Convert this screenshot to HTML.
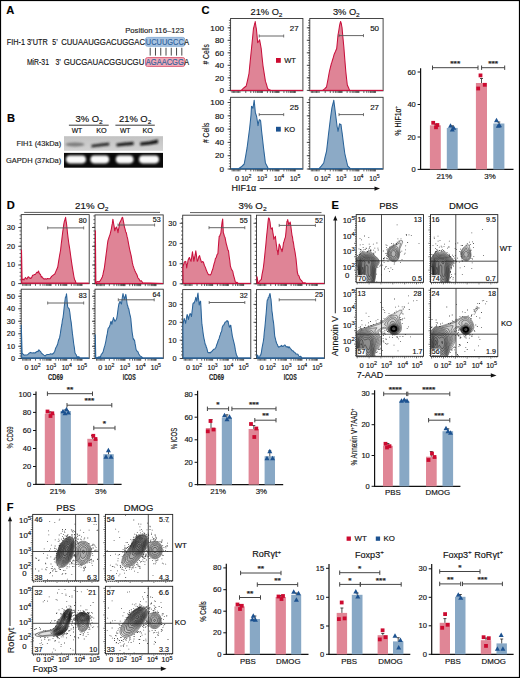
<!DOCTYPE html><html><head><meta charset="utf-8"><style>html,body{margin:0;padding:0;background:#fff;}svg{display:block;}text{font-family:"Liberation Sans", sans-serif;}</style></head><body>
<svg width="520" height="678" viewBox="0 0 520 678">
<rect x="0" y="0" width="520" height="678" fill="#fff" stroke="none" stroke-width="1"/>
<text font-size="10.3" text-anchor="start" font-weight="bold" fill="#000" transform="translate(6.3 13.7) scale(1.08 1)" stroke="#000" stroke-width="0.15">A</text>
<text font-size="10.3" text-anchor="start" font-weight="bold" fill="#000" transform="translate(6.9 121.5) scale(1.08 1)" stroke="#000" stroke-width="0.15">B</text>
<text font-size="10.3" text-anchor="start" font-weight="bold" fill="#000" transform="translate(201.5 14.4) scale(1.08 1)" stroke="#000" stroke-width="0.15">C</text>
<text font-size="10.3" text-anchor="start" font-weight="bold" fill="#000" transform="translate(6.7 208.7) scale(1.08 1)" stroke="#000" stroke-width="0.15">D</text>
<text font-size="10.3" text-anchor="start" font-weight="bold" fill="#000" transform="translate(331.5 208.8) scale(1.08 1)" stroke="#000" stroke-width="0.15">E</text>
<text font-size="10.3" text-anchor="start" font-weight="bold" fill="#000" transform="translate(6.7 510.6) scale(1.08 1)" stroke="#000" stroke-width="0.15">F</text>
<text x="125.2" y="32.6" font-size="7.6" text-anchor="start" textLength="58.8" lengthAdjust="spacingAndGlyphs" fill="#222" stroke="#222" stroke-width="0.15">Position 116–123</text>
<rect x="145.5" y="37.4" width="39.3" height="8.9" fill="#aac5e2" stroke="#7aa3cf" stroke-width="0.8" rx="2"/>
<rect x="145.5" y="57.5" width="39.3" height="9" fill="#f0a9b6" stroke="#d6546e" stroke-width="0.8" rx="2"/>
<text x="6.7" y="44.8" font-size="8.5" text-anchor="start" textLength="41" lengthAdjust="spacingAndGlyphs" fill="#111" stroke="#111" stroke-width="0.15">FIH-1 3’UTR</text>
<text x="52.3" y="44.8" font-size="8.5" text-anchor="start" textLength="5.4" lengthAdjust="spacingAndGlyphs" fill="#111" stroke="#111" stroke-width="0.15">5’</text>
<text x="61.2" y="44.8" font-size="8.5" text-anchor="start" textLength="83.8" lengthAdjust="spacingAndGlyphs" fill="#111" stroke="#111" stroke-width="0.15">CUUAAUGGACUGGAC</text>
<text x="145.8" y="44.8" font-size="8.5" text-anchor="start" textLength="38" lengthAdjust="spacingAndGlyphs" fill="#2d5f9a" stroke="#2d5f9a" stroke-width="0.15">UCUUGCC</text>
<text x="184.2" y="44.8" font-size="8.5" text-anchor="start" textLength="4.8" lengthAdjust="spacingAndGlyphs" fill="#111" stroke="#111" stroke-width="0.15">A</text>
<text x="26.9" y="64.8" font-size="8.5" text-anchor="start" textLength="22.1" lengthAdjust="spacingAndGlyphs" fill="#111" stroke="#111" stroke-width="0.15">MiR-31</text>
<text x="55.4" y="64.8" font-size="8.5" text-anchor="start" textLength="5.4" lengthAdjust="spacingAndGlyphs" fill="#111" stroke="#111" stroke-width="0.15">3’</text>
<text x="63.7" y="64.8" font-size="8.5" text-anchor="start" textLength="80.7" lengthAdjust="spacingAndGlyphs" fill="#111" stroke="#111" stroke-width="0.15">GUCGAUACGGUCGU</text>
<text x="145.8" y="64.8" font-size="8.5" text-anchor="start" textLength="38" lengthAdjust="spacingAndGlyphs" fill="#2d5f9a" stroke="#2d5f9a" stroke-width="0.15">AGAACGG</text>
<text x="184.2" y="64.8" font-size="8.5" text-anchor="start" textLength="4.8" lengthAdjust="spacingAndGlyphs" fill="#111" stroke="#111" stroke-width="0.15">A</text>
<line x1="150.2" y1="47.8" x2="150.2" y2="55.6" stroke="#333" stroke-width="0.9"/>
<line x1="155.47" y1="47.8" x2="155.47" y2="55.6" stroke="#333" stroke-width="0.9"/>
<line x1="160.74" y1="47.8" x2="160.74" y2="55.6" stroke="#333" stroke-width="0.9"/>
<line x1="166.01" y1="47.8" x2="166.01" y2="55.6" stroke="#333" stroke-width="0.9"/>
<line x1="171.28" y1="47.8" x2="171.28" y2="55.6" stroke="#333" stroke-width="0.9"/>
<line x1="176.55" y1="47.8" x2="176.55" y2="55.6" stroke="#333" stroke-width="0.9"/>
<line x1="181.82" y1="47.8" x2="181.82" y2="55.6" stroke="#333" stroke-width="0.9"/>
<text font-size="8.7" text-anchor="middle" fill="#111" transform="translate(89.1 121.6) scale(1.08 1)" stroke="#111" stroke-width="0.15">3% O<tspan font-size="6" dy="1.9">2</tspan></text>
<text font-size="8.7" text-anchor="middle" fill="#111" transform="translate(135.1 121.6) scale(1.08 1)" stroke="#111" stroke-width="0.15">21% O<tspan font-size="6" dy="1.9">2</tspan></text>
<line x1="68.9" y1="125.2" x2="108.7" y2="125.2" stroke="#222" stroke-width="0.9"/>
<line x1="115.4" y1="125.2" x2="154.8" y2="125.2" stroke="#222" stroke-width="0.9"/>
<text x="77" y="133.3" font-size="6.5" text-anchor="middle" textLength="10.5" lengthAdjust="spacingAndGlyphs" fill="#111" stroke="#111" stroke-width="0.15">WT</text>
<text x="101.5" y="133.3" font-size="6.5" text-anchor="middle" textLength="10.5" lengthAdjust="spacingAndGlyphs" fill="#111" stroke="#111" stroke-width="0.15">KO</text>
<text x="125.2" y="133.3" font-size="6.5" text-anchor="middle" textLength="10.5" lengthAdjust="spacingAndGlyphs" fill="#111" stroke="#111" stroke-width="0.15">WT</text>
<text x="147.7" y="133.3" font-size="6.5" text-anchor="middle" textLength="10.5" lengthAdjust="spacingAndGlyphs" fill="#111" stroke="#111" stroke-width="0.15">KO</text>
<text x="16.4" y="145.8" font-size="7.2" text-anchor="start" textLength="44.8" lengthAdjust="spacingAndGlyphs" fill="#222" stroke="#222" stroke-width="0.15">FIH1 (43kDa)</text>
<text x="6" y="162.6" font-size="7.2" text-anchor="start" textLength="55.2" lengthAdjust="spacingAndGlyphs" fill="#222" stroke="#222" stroke-width="0.15">GAPDH (37kDa)</text>
<defs><linearGradient id="gg" x1="0" y1="0" x2="0" y2="1"><stop offset="0" stop-color="#c2c2c2"/><stop offset="1" stop-color="#d2d2d2"/></linearGradient></defs>
<rect x="64" y="136.2" width="99" height="14.6" fill="url(#gg)" stroke="none" stroke-width="1"/>
<rect x="64" y="152.9" width="99" height="14.8" fill="#0a0a0a" stroke="none" stroke-width="1"/>
<defs><filter id="bl" x="-20%" y="-80%" width="140%" height="260%"><feGaussianBlur stdDeviation="0.8"/></filter><filter id="bl2" x="-20%" y="-80%" width="140%" height="260%"><feGaussianBlur stdDeviation="0.9"/></filter></defs>
<g filter="url(#bl)">
<ellipse cx="75.0" cy="144.4" rx="9.5" ry="2.0" fill="#7a7a7a"/>
<path d="M91.5,144.8 Q100,143.2 109.2,142.4 L109.2,145.4 Q100,146.2 91.5,147.4 Z" fill="#2a2a2a"/>
<path d="M116.5,143.6 Q125,142.2 133.5,141.8 L133.5,145.0 Q125,145.6 116.5,146.4 Z" fill="#1a1a1a"/>
<path d="M140.2,142.6 Q149,141.8 157.9,139.4 L157.9,143.2 Q149,144.8 140.2,145.6 Z" fill="#111"/>
</g>
<g filter="url(#bl2)">
<rect x="66" y="155.6" width="20" height="7.8" rx="3.8" fill="#fafafa"/>
<rect x="90.4" y="155.6" width="18.8" height="7.8" rx="3.8" fill="#fafafa"/>
<rect x="115.8" y="155.6" width="17.7" height="7.8" rx="3.8" fill="#fafafa"/>
<rect x="139" y="155.6" width="20" height="7.8" rx="3.8" fill="#fafafa"/>
</g>
<text font-size="8.6" text-anchor="middle" fill="#111" transform="translate(266.5 14.8) scale(1.08 1)" stroke="#111" stroke-width="0.15">21% O<tspan font-size="6" dy="2">2</tspan></text>
<text font-size="8.6" text-anchor="middle" fill="#111" transform="translate(346.3 14.8) scale(1.08 1)" stroke="#111" stroke-width="0.15">3% O<tspan font-size="6" dy="2">2</tspan></text>
<text font-size="7.6" text-anchor="end" fill="#111" transform="translate(224 30.5) scale(1.08 1)" stroke="#111" stroke-width="0.15">100</text>
<text font-size="7.6" text-anchor="end" fill="#111" transform="translate(224 43) scale(1.08 1)" stroke="#111" stroke-width="0.15">80</text>
<text font-size="7.6" text-anchor="end" fill="#111" transform="translate(224 55.5) scale(1.08 1)" stroke="#111" stroke-width="0.15">60</text>
<text font-size="7.6" text-anchor="end" fill="#111" transform="translate(224 68) scale(1.08 1)" stroke="#111" stroke-width="0.15">40</text>
<text font-size="7.6" text-anchor="end" fill="#111" transform="translate(224 80.5) scale(1.08 1)" stroke="#111" stroke-width="0.15">20</text>
<text font-size="7.6" text-anchor="end" fill="#111" transform="translate(224 93.1) scale(1.08 1)" stroke="#111" stroke-width="0.15">0</text>
<text font-size="7.6" text-anchor="end" fill="#111" transform="translate(224 105.2) scale(1.08 1)" stroke="#111" stroke-width="0.15">100</text>
<text font-size="7.6" text-anchor="end" fill="#111" transform="translate(224 118.5) scale(1.08 1)" stroke="#111" stroke-width="0.15">80</text>
<text font-size="7.6" text-anchor="end" fill="#111" transform="translate(224 131.8) scale(1.08 1)" stroke="#111" stroke-width="0.15">60</text>
<text font-size="7.6" text-anchor="end" fill="#111" transform="translate(224 145.1) scale(1.08 1)" stroke="#111" stroke-width="0.15">40</text>
<text font-size="7.6" text-anchor="end" fill="#111" transform="translate(224 158.4) scale(1.08 1)" stroke="#111" stroke-width="0.15">20</text>
<text font-size="7.6" text-anchor="end" fill="#111" transform="translate(224 171.7) scale(1.08 1)" stroke="#111" stroke-width="0.15">0</text>
<text x="0" y="0" font-size="9" text-anchor="middle" textLength="20.5" lengthAdjust="spacingAndGlyphs" transform="translate(209.0 54.3) rotate(-90)" fill="#111" stroke="#111" stroke-width="0.15"># Cells</text>
<text x="0" y="0" font-size="9" text-anchor="middle" textLength="20.5" lengthAdjust="spacingAndGlyphs" transform="translate(209.0 132.8) rotate(-90)" fill="#111" stroke="#111" stroke-width="0.15"># Cells</text>
<rect x="230.6" y="18.5" width="72.3" height="72.3" fill="none" stroke="#333" stroke-width="0.9"/>
<line x1="227.6" y1="27.8" x2="230.6" y2="27.8" stroke="#222" stroke-width="0.8"/>
<line x1="227.6" y1="40.3" x2="230.6" y2="40.3" stroke="#222" stroke-width="0.8"/>
<line x1="227.6" y1="52.8" x2="230.6" y2="52.8" stroke="#222" stroke-width="0.8"/>
<line x1="227.6" y1="65.3" x2="230.6" y2="65.3" stroke="#222" stroke-width="0.8"/>
<line x1="227.6" y1="77.8" x2="230.6" y2="77.8" stroke="#222" stroke-width="0.8"/>
<line x1="227.6" y1="90.4" x2="230.6" y2="90.4" stroke="#222" stroke-width="0.8"/>
<line x1="228.9" y1="90.4" x2="230.6" y2="90.4" stroke="#333" stroke-width="0.7"/>
<line x1="228.9" y1="87.9" x2="230.6" y2="87.9" stroke="#333" stroke-width="0.7"/>
<line x1="228.9" y1="85.4" x2="230.6" y2="85.4" stroke="#333" stroke-width="0.7"/>
<line x1="228.9" y1="82.9" x2="230.6" y2="82.9" stroke="#333" stroke-width="0.7"/>
<line x1="228.9" y1="80.4" x2="230.6" y2="80.4" stroke="#333" stroke-width="0.7"/>
<line x1="228.9" y1="77.9" x2="230.6" y2="77.9" stroke="#333" stroke-width="0.7"/>
<line x1="228.9" y1="75.4" x2="230.6" y2="75.4" stroke="#333" stroke-width="0.7"/>
<line x1="228.9" y1="72.9" x2="230.6" y2="72.9" stroke="#333" stroke-width="0.7"/>
<line x1="228.9" y1="70.4" x2="230.6" y2="70.4" stroke="#333" stroke-width="0.7"/>
<line x1="228.9" y1="67.9" x2="230.6" y2="67.9" stroke="#333" stroke-width="0.7"/>
<line x1="228.9" y1="65.4" x2="230.6" y2="65.4" stroke="#333" stroke-width="0.7"/>
<line x1="228.9" y1="62.9" x2="230.6" y2="62.9" stroke="#333" stroke-width="0.7"/>
<line x1="228.9" y1="60.4" x2="230.6" y2="60.4" stroke="#333" stroke-width="0.7"/>
<line x1="228.9" y1="57.9" x2="230.6" y2="57.9" stroke="#333" stroke-width="0.7"/>
<line x1="228.9" y1="55.4" x2="230.6" y2="55.4" stroke="#333" stroke-width="0.7"/>
<line x1="228.9" y1="52.9" x2="230.6" y2="52.9" stroke="#333" stroke-width="0.7"/>
<line x1="228.9" y1="50.4" x2="230.6" y2="50.4" stroke="#333" stroke-width="0.7"/>
<line x1="228.9" y1="47.9" x2="230.6" y2="47.9" stroke="#333" stroke-width="0.7"/>
<line x1="228.9" y1="45.4" x2="230.6" y2="45.4" stroke="#333" stroke-width="0.7"/>
<line x1="228.9" y1="42.9" x2="230.6" y2="42.9" stroke="#333" stroke-width="0.7"/>
<line x1="228.9" y1="40.4" x2="230.6" y2="40.4" stroke="#333" stroke-width="0.7"/>
<line x1="228.9" y1="37.9" x2="230.6" y2="37.9" stroke="#333" stroke-width="0.7"/>
<line x1="228.9" y1="35.4" x2="230.6" y2="35.4" stroke="#333" stroke-width="0.7"/>
<line x1="228.9" y1="32.9" x2="230.6" y2="32.9" stroke="#333" stroke-width="0.7"/>
<line x1="228.9" y1="30.4" x2="230.6" y2="30.4" stroke="#333" stroke-width="0.7"/>
<line x1="228.9" y1="27.9" x2="230.6" y2="27.9" stroke="#333" stroke-width="0.7"/>
<line x1="228.9" y1="25.4" x2="230.6" y2="25.4" stroke="#333" stroke-width="0.7"/>
<line x1="228.9" y1="22.9" x2="230.6" y2="22.9" stroke="#333" stroke-width="0.7"/>
<line x1="228.9" y1="20.4" x2="230.6" y2="20.4" stroke="#333" stroke-width="0.7"/>
<line x1="232.1" y1="90.8" x2="232.1" y2="93" stroke="#222" stroke-width="0.7"/>
<line x1="233.4" y1="90.8" x2="233.4" y2="93" stroke="#222" stroke-width="0.7"/>
<line x1="234.7" y1="90.8" x2="234.7" y2="93" stroke="#222" stroke-width="0.7"/>
<line x1="236" y1="90.8" x2="236" y2="93" stroke="#222" stroke-width="0.7"/>
<line x1="237.3" y1="90.8" x2="237.3" y2="93" stroke="#222" stroke-width="0.7"/>
<line x1="238.6" y1="90.8" x2="238.6" y2="93" stroke="#222" stroke-width="0.7"/>
<line x1="239.9" y1="90.8" x2="239.9" y2="93" stroke="#222" stroke-width="0.7"/>
<line x1="245.78" y1="90.8" x2="245.78" y2="93" stroke="#222" stroke-width="0.7"/>
<line x1="250.79" y1="90.8" x2="250.79" y2="93" stroke="#222" stroke-width="0.7"/>
<line x1="253.72" y1="90.8" x2="253.72" y2="93" stroke="#222" stroke-width="0.7"/>
<line x1="255.79" y1="90.8" x2="255.79" y2="93" stroke="#222" stroke-width="0.7"/>
<line x1="257.41" y1="90.8" x2="257.41" y2="93" stroke="#222" stroke-width="0.7"/>
<line x1="258.72" y1="90.8" x2="258.72" y2="93" stroke="#222" stroke-width="0.7"/>
<line x1="259.84" y1="90.8" x2="259.84" y2="93" stroke="#222" stroke-width="0.7"/>
<line x1="260.8" y1="90.8" x2="260.8" y2="93" stroke="#222" stroke-width="0.7"/>
<line x1="261.65" y1="90.8" x2="261.65" y2="93" stroke="#222" stroke-width="0.7"/>
<line x1="262.41" y1="90.8" x2="262.41" y2="93" stroke="#222" stroke-width="0.7"/>
<line x1="267.42" y1="90.8" x2="267.42" y2="93" stroke="#222" stroke-width="0.7"/>
<line x1="270.35" y1="90.8" x2="270.35" y2="93" stroke="#222" stroke-width="0.7"/>
<line x1="272.42" y1="90.8" x2="272.42" y2="93" stroke="#222" stroke-width="0.7"/>
<line x1="274.04" y1="90.8" x2="274.04" y2="93" stroke="#222" stroke-width="0.7"/>
<line x1="275.35" y1="90.8" x2="275.35" y2="93" stroke="#222" stroke-width="0.7"/>
<line x1="276.47" y1="90.8" x2="276.47" y2="93" stroke="#222" stroke-width="0.7"/>
<line x1="277.43" y1="90.8" x2="277.43" y2="93" stroke="#222" stroke-width="0.7"/>
<line x1="278.28" y1="90.8" x2="278.28" y2="93" stroke="#222" stroke-width="0.7"/>
<line x1="279.04" y1="90.8" x2="279.04" y2="93" stroke="#222" stroke-width="0.7"/>
<line x1="283.94" y1="90.8" x2="283.94" y2="93" stroke="#222" stroke-width="0.7"/>
<line x1="286.8" y1="90.8" x2="286.8" y2="93" stroke="#222" stroke-width="0.7"/>
<line x1="288.84" y1="90.8" x2="288.84" y2="93" stroke="#222" stroke-width="0.7"/>
<line x1="290.41" y1="90.8" x2="290.41" y2="93" stroke="#222" stroke-width="0.7"/>
<line x1="291.7" y1="90.8" x2="291.7" y2="93" stroke="#222" stroke-width="0.7"/>
<line x1="292.79" y1="90.8" x2="292.79" y2="93" stroke="#222" stroke-width="0.7"/>
<line x1="293.73" y1="90.8" x2="293.73" y2="93" stroke="#222" stroke-width="0.7"/>
<line x1="294.56" y1="90.8" x2="294.56" y2="93" stroke="#222" stroke-width="0.7"/>
<line x1="295.31" y1="90.8" x2="295.31" y2="93" stroke="#222" stroke-width="0.7"/>
<path d="M231.1,90.4 L241.3,90.4 L243.75,87.97 L246.2,86 L247.6,80.11 L249,73.5 L250.25,60.78 L251.5,48.5 L252.5,38.5 L253.5,28.3 L254.05,26.28 L254.6,24 L254.9,22.88 L255.2,21.5 L255.45,23.24 L255.7,25 L256,27.02 L256.3,28.3 L257,35.16 L257.7,42.7 L258.65,41.53 L259.6,39.8 L260.4,44.15 L261.2,48.5 L262.1,57.44 L263,65.8 L264.2,73.35 L265.4,81.2 L266.55,84.61 L267.7,88.8 L269.35,89.76 L271,90.4 L302.4,90.4 Z" fill="#df8496" stroke="#c8103c" stroke-width="1.05" stroke-linejoin="round"/>
<line x1="231.1" y1="90.3" x2="302.4" y2="90.3" stroke="#c8103c" stroke-width="0.9"/>
<rect x="309.8" y="18.5" width="73.3" height="72.3" fill="none" stroke="#333" stroke-width="0.9"/>
<line x1="306.8" y1="27.8" x2="309.8" y2="27.8" stroke="#222" stroke-width="0.8"/>
<line x1="306.8" y1="40.3" x2="309.8" y2="40.3" stroke="#222" stroke-width="0.8"/>
<line x1="306.8" y1="52.8" x2="309.8" y2="52.8" stroke="#222" stroke-width="0.8"/>
<line x1="306.8" y1="65.3" x2="309.8" y2="65.3" stroke="#222" stroke-width="0.8"/>
<line x1="306.8" y1="77.8" x2="309.8" y2="77.8" stroke="#222" stroke-width="0.8"/>
<line x1="306.8" y1="90.4" x2="309.8" y2="90.4" stroke="#222" stroke-width="0.8"/>
<line x1="308.1" y1="90.4" x2="309.8" y2="90.4" stroke="#333" stroke-width="0.7"/>
<line x1="308.1" y1="87.9" x2="309.8" y2="87.9" stroke="#333" stroke-width="0.7"/>
<line x1="308.1" y1="85.4" x2="309.8" y2="85.4" stroke="#333" stroke-width="0.7"/>
<line x1="308.1" y1="82.9" x2="309.8" y2="82.9" stroke="#333" stroke-width="0.7"/>
<line x1="308.1" y1="80.4" x2="309.8" y2="80.4" stroke="#333" stroke-width="0.7"/>
<line x1="308.1" y1="77.9" x2="309.8" y2="77.9" stroke="#333" stroke-width="0.7"/>
<line x1="308.1" y1="75.4" x2="309.8" y2="75.4" stroke="#333" stroke-width="0.7"/>
<line x1="308.1" y1="72.9" x2="309.8" y2="72.9" stroke="#333" stroke-width="0.7"/>
<line x1="308.1" y1="70.4" x2="309.8" y2="70.4" stroke="#333" stroke-width="0.7"/>
<line x1="308.1" y1="67.9" x2="309.8" y2="67.9" stroke="#333" stroke-width="0.7"/>
<line x1="308.1" y1="65.4" x2="309.8" y2="65.4" stroke="#333" stroke-width="0.7"/>
<line x1="308.1" y1="62.9" x2="309.8" y2="62.9" stroke="#333" stroke-width="0.7"/>
<line x1="308.1" y1="60.4" x2="309.8" y2="60.4" stroke="#333" stroke-width="0.7"/>
<line x1="308.1" y1="57.9" x2="309.8" y2="57.9" stroke="#333" stroke-width="0.7"/>
<line x1="308.1" y1="55.4" x2="309.8" y2="55.4" stroke="#333" stroke-width="0.7"/>
<line x1="308.1" y1="52.9" x2="309.8" y2="52.9" stroke="#333" stroke-width="0.7"/>
<line x1="308.1" y1="50.4" x2="309.8" y2="50.4" stroke="#333" stroke-width="0.7"/>
<line x1="308.1" y1="47.9" x2="309.8" y2="47.9" stroke="#333" stroke-width="0.7"/>
<line x1="308.1" y1="45.4" x2="309.8" y2="45.4" stroke="#333" stroke-width="0.7"/>
<line x1="308.1" y1="42.9" x2="309.8" y2="42.9" stroke="#333" stroke-width="0.7"/>
<line x1="308.1" y1="40.4" x2="309.8" y2="40.4" stroke="#333" stroke-width="0.7"/>
<line x1="308.1" y1="37.9" x2="309.8" y2="37.9" stroke="#333" stroke-width="0.7"/>
<line x1="308.1" y1="35.4" x2="309.8" y2="35.4" stroke="#333" stroke-width="0.7"/>
<line x1="308.1" y1="32.9" x2="309.8" y2="32.9" stroke="#333" stroke-width="0.7"/>
<line x1="308.1" y1="30.4" x2="309.8" y2="30.4" stroke="#333" stroke-width="0.7"/>
<line x1="308.1" y1="27.9" x2="309.8" y2="27.9" stroke="#333" stroke-width="0.7"/>
<line x1="308.1" y1="25.4" x2="309.8" y2="25.4" stroke="#333" stroke-width="0.7"/>
<line x1="308.1" y1="22.9" x2="309.8" y2="22.9" stroke="#333" stroke-width="0.7"/>
<line x1="308.1" y1="20.4" x2="309.8" y2="20.4" stroke="#333" stroke-width="0.7"/>
<line x1="311.3" y1="90.8" x2="311.3" y2="93" stroke="#222" stroke-width="0.7"/>
<line x1="312.6" y1="90.8" x2="312.6" y2="93" stroke="#222" stroke-width="0.7"/>
<line x1="313.9" y1="90.8" x2="313.9" y2="93" stroke="#222" stroke-width="0.7"/>
<line x1="315.2" y1="90.8" x2="315.2" y2="93" stroke="#222" stroke-width="0.7"/>
<line x1="316.5" y1="90.8" x2="316.5" y2="93" stroke="#222" stroke-width="0.7"/>
<line x1="317.8" y1="90.8" x2="317.8" y2="93" stroke="#222" stroke-width="0.7"/>
<line x1="319.1" y1="90.8" x2="319.1" y2="93" stroke="#222" stroke-width="0.7"/>
<line x1="325.19" y1="90.8" x2="325.19" y2="93" stroke="#222" stroke-width="0.7"/>
<line x1="330.27" y1="90.8" x2="330.27" y2="93" stroke="#222" stroke-width="0.7"/>
<line x1="333.24" y1="90.8" x2="333.24" y2="93" stroke="#222" stroke-width="0.7"/>
<line x1="335.34" y1="90.8" x2="335.34" y2="93" stroke="#222" stroke-width="0.7"/>
<line x1="336.98" y1="90.8" x2="336.98" y2="93" stroke="#222" stroke-width="0.7"/>
<line x1="338.31" y1="90.8" x2="338.31" y2="93" stroke="#222" stroke-width="0.7"/>
<line x1="339.44" y1="90.8" x2="339.44" y2="93" stroke="#222" stroke-width="0.7"/>
<line x1="340.42" y1="90.8" x2="340.42" y2="93" stroke="#222" stroke-width="0.7"/>
<line x1="341.28" y1="90.8" x2="341.28" y2="93" stroke="#222" stroke-width="0.7"/>
<line x1="342.05" y1="90.8" x2="342.05" y2="93" stroke="#222" stroke-width="0.7"/>
<line x1="347.13" y1="90.8" x2="347.13" y2="93" stroke="#222" stroke-width="0.7"/>
<line x1="350.1" y1="90.8" x2="350.1" y2="93" stroke="#222" stroke-width="0.7"/>
<line x1="352.2" y1="90.8" x2="352.2" y2="93" stroke="#222" stroke-width="0.7"/>
<line x1="353.84" y1="90.8" x2="353.84" y2="93" stroke="#222" stroke-width="0.7"/>
<line x1="355.17" y1="90.8" x2="355.17" y2="93" stroke="#222" stroke-width="0.7"/>
<line x1="356.3" y1="90.8" x2="356.3" y2="93" stroke="#222" stroke-width="0.7"/>
<line x1="357.28" y1="90.8" x2="357.28" y2="93" stroke="#222" stroke-width="0.7"/>
<line x1="358.14" y1="90.8" x2="358.14" y2="93" stroke="#222" stroke-width="0.7"/>
<line x1="358.91" y1="90.8" x2="358.91" y2="93" stroke="#222" stroke-width="0.7"/>
<line x1="363.88" y1="90.8" x2="363.88" y2="93" stroke="#222" stroke-width="0.7"/>
<line x1="366.78" y1="90.8" x2="366.78" y2="93" stroke="#222" stroke-width="0.7"/>
<line x1="368.84" y1="90.8" x2="368.84" y2="93" stroke="#222" stroke-width="0.7"/>
<line x1="370.44" y1="90.8" x2="370.44" y2="93" stroke="#222" stroke-width="0.7"/>
<line x1="371.74" y1="90.8" x2="371.74" y2="93" stroke="#222" stroke-width="0.7"/>
<line x1="372.85" y1="90.8" x2="372.85" y2="93" stroke="#222" stroke-width="0.7"/>
<line x1="373.81" y1="90.8" x2="373.81" y2="93" stroke="#222" stroke-width="0.7"/>
<line x1="374.65" y1="90.8" x2="374.65" y2="93" stroke="#222" stroke-width="0.7"/>
<line x1="375.4" y1="90.8" x2="375.4" y2="93" stroke="#222" stroke-width="0.7"/>
<path d="M310.3,90.4 L322.7,90.4 L324.6,88.84 L326.5,87 L327.95,79.5 L329.4,71.5 L330.35,67.62 L331.3,63.8 L331.9,62.15 L332.5,60 L333.35,57.35 L334.2,54.2 L335.45,51.48 L336.7,48.5 L337.35,42.07 L338,35 L338.8,30.51 L339.6,25.4 L340.1,23.14 L340.6,21.5 L341,22.6 L341.4,24 L341.7,26.12 L342,27.3 L342.9,37.32 L343.8,46.5 L344.8,59.34 L345.8,71.5 L346.55,78.46 L347.3,85 L348.45,87.47 L349.6,90.4 L382.6,90.4 Z" fill="#df8496" stroke="#c8103c" stroke-width="1.05" stroke-linejoin="round"/>
<line x1="310.3" y1="90.3" x2="382.6" y2="90.3" stroke="#c8103c" stroke-width="0.9"/>
<rect x="230.6" y="97.3" width="72.3" height="71.9" fill="none" stroke="#333" stroke-width="0.9"/>
<line x1="227.6" y1="102.5" x2="230.6" y2="102.5" stroke="#222" stroke-width="0.8"/>
<line x1="227.6" y1="115.8" x2="230.6" y2="115.8" stroke="#222" stroke-width="0.8"/>
<line x1="227.6" y1="129.1" x2="230.6" y2="129.1" stroke="#222" stroke-width="0.8"/>
<line x1="227.6" y1="142.4" x2="230.6" y2="142.4" stroke="#222" stroke-width="0.8"/>
<line x1="227.6" y1="155.7" x2="230.6" y2="155.7" stroke="#222" stroke-width="0.8"/>
<line x1="227.6" y1="169" x2="230.6" y2="169" stroke="#222" stroke-width="0.8"/>
<line x1="228.9" y1="169" x2="230.6" y2="169" stroke="#333" stroke-width="0.7"/>
<line x1="228.9" y1="166.34" x2="230.6" y2="166.34" stroke="#333" stroke-width="0.7"/>
<line x1="228.9" y1="163.68" x2="230.6" y2="163.68" stroke="#333" stroke-width="0.7"/>
<line x1="228.9" y1="161.02" x2="230.6" y2="161.02" stroke="#333" stroke-width="0.7"/>
<line x1="228.9" y1="158.36" x2="230.6" y2="158.36" stroke="#333" stroke-width="0.7"/>
<line x1="228.9" y1="155.7" x2="230.6" y2="155.7" stroke="#333" stroke-width="0.7"/>
<line x1="228.9" y1="153.04" x2="230.6" y2="153.04" stroke="#333" stroke-width="0.7"/>
<line x1="228.9" y1="150.38" x2="230.6" y2="150.38" stroke="#333" stroke-width="0.7"/>
<line x1="228.9" y1="147.72" x2="230.6" y2="147.72" stroke="#333" stroke-width="0.7"/>
<line x1="228.9" y1="145.06" x2="230.6" y2="145.06" stroke="#333" stroke-width="0.7"/>
<line x1="228.9" y1="142.4" x2="230.6" y2="142.4" stroke="#333" stroke-width="0.7"/>
<line x1="228.9" y1="139.74" x2="230.6" y2="139.74" stroke="#333" stroke-width="0.7"/>
<line x1="228.9" y1="137.08" x2="230.6" y2="137.08" stroke="#333" stroke-width="0.7"/>
<line x1="228.9" y1="134.42" x2="230.6" y2="134.42" stroke="#333" stroke-width="0.7"/>
<line x1="228.9" y1="131.76" x2="230.6" y2="131.76" stroke="#333" stroke-width="0.7"/>
<line x1="228.9" y1="129.1" x2="230.6" y2="129.1" stroke="#333" stroke-width="0.7"/>
<line x1="228.9" y1="126.44" x2="230.6" y2="126.44" stroke="#333" stroke-width="0.7"/>
<line x1="228.9" y1="123.78" x2="230.6" y2="123.78" stroke="#333" stroke-width="0.7"/>
<line x1="228.9" y1="121.12" x2="230.6" y2="121.12" stroke="#333" stroke-width="0.7"/>
<line x1="228.9" y1="118.46" x2="230.6" y2="118.46" stroke="#333" stroke-width="0.7"/>
<line x1="228.9" y1="115.8" x2="230.6" y2="115.8" stroke="#333" stroke-width="0.7"/>
<line x1="228.9" y1="113.14" x2="230.6" y2="113.14" stroke="#333" stroke-width="0.7"/>
<line x1="228.9" y1="110.48" x2="230.6" y2="110.48" stroke="#333" stroke-width="0.7"/>
<line x1="228.9" y1="107.82" x2="230.6" y2="107.82" stroke="#333" stroke-width="0.7"/>
<line x1="228.9" y1="105.16" x2="230.6" y2="105.16" stroke="#333" stroke-width="0.7"/>
<line x1="228.9" y1="102.5" x2="230.6" y2="102.5" stroke="#333" stroke-width="0.7"/>
<line x1="228.9" y1="99.84" x2="230.6" y2="99.84" stroke="#333" stroke-width="0.7"/>
<line x1="232.1" y1="169.2" x2="232.1" y2="171.4" stroke="#222" stroke-width="0.7"/>
<line x1="233.4" y1="169.2" x2="233.4" y2="171.4" stroke="#222" stroke-width="0.7"/>
<line x1="234.7" y1="169.2" x2="234.7" y2="171.4" stroke="#222" stroke-width="0.7"/>
<line x1="236" y1="169.2" x2="236" y2="171.4" stroke="#222" stroke-width="0.7"/>
<line x1="237.3" y1="169.2" x2="237.3" y2="171.4" stroke="#222" stroke-width="0.7"/>
<line x1="238.6" y1="169.2" x2="238.6" y2="171.4" stroke="#222" stroke-width="0.7"/>
<line x1="239.9" y1="169.2" x2="239.9" y2="171.4" stroke="#222" stroke-width="0.7"/>
<line x1="245.78" y1="169.2" x2="245.78" y2="171.4" stroke="#222" stroke-width="0.7"/>
<line x1="250.79" y1="169.2" x2="250.79" y2="171.4" stroke="#222" stroke-width="0.7"/>
<line x1="253.72" y1="169.2" x2="253.72" y2="171.4" stroke="#222" stroke-width="0.7"/>
<line x1="255.79" y1="169.2" x2="255.79" y2="171.4" stroke="#222" stroke-width="0.7"/>
<line x1="257.41" y1="169.2" x2="257.41" y2="171.4" stroke="#222" stroke-width="0.7"/>
<line x1="258.72" y1="169.2" x2="258.72" y2="171.4" stroke="#222" stroke-width="0.7"/>
<line x1="259.84" y1="169.2" x2="259.84" y2="171.4" stroke="#222" stroke-width="0.7"/>
<line x1="260.8" y1="169.2" x2="260.8" y2="171.4" stroke="#222" stroke-width="0.7"/>
<line x1="261.65" y1="169.2" x2="261.65" y2="171.4" stroke="#222" stroke-width="0.7"/>
<line x1="262.41" y1="169.2" x2="262.41" y2="171.4" stroke="#222" stroke-width="0.7"/>
<line x1="267.42" y1="169.2" x2="267.42" y2="171.4" stroke="#222" stroke-width="0.7"/>
<line x1="270.35" y1="169.2" x2="270.35" y2="171.4" stroke="#222" stroke-width="0.7"/>
<line x1="272.42" y1="169.2" x2="272.42" y2="171.4" stroke="#222" stroke-width="0.7"/>
<line x1="274.04" y1="169.2" x2="274.04" y2="171.4" stroke="#222" stroke-width="0.7"/>
<line x1="275.35" y1="169.2" x2="275.35" y2="171.4" stroke="#222" stroke-width="0.7"/>
<line x1="276.47" y1="169.2" x2="276.47" y2="171.4" stroke="#222" stroke-width="0.7"/>
<line x1="277.43" y1="169.2" x2="277.43" y2="171.4" stroke="#222" stroke-width="0.7"/>
<line x1="278.28" y1="169.2" x2="278.28" y2="171.4" stroke="#222" stroke-width="0.7"/>
<line x1="279.04" y1="169.2" x2="279.04" y2="171.4" stroke="#222" stroke-width="0.7"/>
<line x1="283.94" y1="169.2" x2="283.94" y2="171.4" stroke="#222" stroke-width="0.7"/>
<line x1="286.8" y1="169.2" x2="286.8" y2="171.4" stroke="#222" stroke-width="0.7"/>
<line x1="288.84" y1="169.2" x2="288.84" y2="171.4" stroke="#222" stroke-width="0.7"/>
<line x1="290.41" y1="169.2" x2="290.41" y2="171.4" stroke="#222" stroke-width="0.7"/>
<line x1="291.7" y1="169.2" x2="291.7" y2="171.4" stroke="#222" stroke-width="0.7"/>
<line x1="292.79" y1="169.2" x2="292.79" y2="171.4" stroke="#222" stroke-width="0.7"/>
<line x1="293.73" y1="169.2" x2="293.73" y2="171.4" stroke="#222" stroke-width="0.7"/>
<line x1="294.56" y1="169.2" x2="294.56" y2="171.4" stroke="#222" stroke-width="0.7"/>
<line x1="295.31" y1="169.2" x2="295.31" y2="171.4" stroke="#222" stroke-width="0.7"/>
<path d="M231.1,168.8 L238.5,168.8 L241.35,166.76 L244.2,164 L245.65,156.19 L247.1,147.7 L248.35,138.04 L249.6,128.5 L250.3,121.98 L251,115 L251.25,110.89 L251.5,106.3 L252.2,106.95 L252.9,108.3 L253.55,104.54 L254.2,100.2 L254.8,106.83 L255.4,113 L256.05,114.62 L256.7,117 L257.35,120.98 L258,125.6 L258.6,122.43 L259.2,119.8 L259.9,119.86 L260.6,120.8 L261.05,125.11 L261.5,130.4 L262.5,138.71 L263.5,147.7 L264.45,155.07 L265.4,163 L266.85,165.68 L268.3,168.8 L302.4,168.8 Z" fill="#8caac6" stroke="#2a6399" stroke-width="1.05" stroke-linejoin="round"/>
<line x1="231.1" y1="168.7" x2="302.4" y2="168.7" stroke="#2a6399" stroke-width="0.9"/>
<rect x="309.8" y="97.3" width="73.3" height="71.9" fill="none" stroke="#333" stroke-width="0.9"/>
<line x1="306.8" y1="102.5" x2="309.8" y2="102.5" stroke="#222" stroke-width="0.8"/>
<line x1="306.8" y1="115.8" x2="309.8" y2="115.8" stroke="#222" stroke-width="0.8"/>
<line x1="306.8" y1="129.1" x2="309.8" y2="129.1" stroke="#222" stroke-width="0.8"/>
<line x1="306.8" y1="142.4" x2="309.8" y2="142.4" stroke="#222" stroke-width="0.8"/>
<line x1="306.8" y1="155.7" x2="309.8" y2="155.7" stroke="#222" stroke-width="0.8"/>
<line x1="306.8" y1="169" x2="309.8" y2="169" stroke="#222" stroke-width="0.8"/>
<line x1="308.1" y1="169" x2="309.8" y2="169" stroke="#333" stroke-width="0.7"/>
<line x1="308.1" y1="166.34" x2="309.8" y2="166.34" stroke="#333" stroke-width="0.7"/>
<line x1="308.1" y1="163.68" x2="309.8" y2="163.68" stroke="#333" stroke-width="0.7"/>
<line x1="308.1" y1="161.02" x2="309.8" y2="161.02" stroke="#333" stroke-width="0.7"/>
<line x1="308.1" y1="158.36" x2="309.8" y2="158.36" stroke="#333" stroke-width="0.7"/>
<line x1="308.1" y1="155.7" x2="309.8" y2="155.7" stroke="#333" stroke-width="0.7"/>
<line x1="308.1" y1="153.04" x2="309.8" y2="153.04" stroke="#333" stroke-width="0.7"/>
<line x1="308.1" y1="150.38" x2="309.8" y2="150.38" stroke="#333" stroke-width="0.7"/>
<line x1="308.1" y1="147.72" x2="309.8" y2="147.72" stroke="#333" stroke-width="0.7"/>
<line x1="308.1" y1="145.06" x2="309.8" y2="145.06" stroke="#333" stroke-width="0.7"/>
<line x1="308.1" y1="142.4" x2="309.8" y2="142.4" stroke="#333" stroke-width="0.7"/>
<line x1="308.1" y1="139.74" x2="309.8" y2="139.74" stroke="#333" stroke-width="0.7"/>
<line x1="308.1" y1="137.08" x2="309.8" y2="137.08" stroke="#333" stroke-width="0.7"/>
<line x1="308.1" y1="134.42" x2="309.8" y2="134.42" stroke="#333" stroke-width="0.7"/>
<line x1="308.1" y1="131.76" x2="309.8" y2="131.76" stroke="#333" stroke-width="0.7"/>
<line x1="308.1" y1="129.1" x2="309.8" y2="129.1" stroke="#333" stroke-width="0.7"/>
<line x1="308.1" y1="126.44" x2="309.8" y2="126.44" stroke="#333" stroke-width="0.7"/>
<line x1="308.1" y1="123.78" x2="309.8" y2="123.78" stroke="#333" stroke-width="0.7"/>
<line x1="308.1" y1="121.12" x2="309.8" y2="121.12" stroke="#333" stroke-width="0.7"/>
<line x1="308.1" y1="118.46" x2="309.8" y2="118.46" stroke="#333" stroke-width="0.7"/>
<line x1="308.1" y1="115.8" x2="309.8" y2="115.8" stroke="#333" stroke-width="0.7"/>
<line x1="308.1" y1="113.14" x2="309.8" y2="113.14" stroke="#333" stroke-width="0.7"/>
<line x1="308.1" y1="110.48" x2="309.8" y2="110.48" stroke="#333" stroke-width="0.7"/>
<line x1="308.1" y1="107.82" x2="309.8" y2="107.82" stroke="#333" stroke-width="0.7"/>
<line x1="308.1" y1="105.16" x2="309.8" y2="105.16" stroke="#333" stroke-width="0.7"/>
<line x1="308.1" y1="102.5" x2="309.8" y2="102.5" stroke="#333" stroke-width="0.7"/>
<line x1="308.1" y1="99.84" x2="309.8" y2="99.84" stroke="#333" stroke-width="0.7"/>
<line x1="311.3" y1="169.2" x2="311.3" y2="171.4" stroke="#222" stroke-width="0.7"/>
<line x1="312.6" y1="169.2" x2="312.6" y2="171.4" stroke="#222" stroke-width="0.7"/>
<line x1="313.9" y1="169.2" x2="313.9" y2="171.4" stroke="#222" stroke-width="0.7"/>
<line x1="315.2" y1="169.2" x2="315.2" y2="171.4" stroke="#222" stroke-width="0.7"/>
<line x1="316.5" y1="169.2" x2="316.5" y2="171.4" stroke="#222" stroke-width="0.7"/>
<line x1="317.8" y1="169.2" x2="317.8" y2="171.4" stroke="#222" stroke-width="0.7"/>
<line x1="319.1" y1="169.2" x2="319.1" y2="171.4" stroke="#222" stroke-width="0.7"/>
<line x1="325.19" y1="169.2" x2="325.19" y2="171.4" stroke="#222" stroke-width="0.7"/>
<line x1="330.27" y1="169.2" x2="330.27" y2="171.4" stroke="#222" stroke-width="0.7"/>
<line x1="333.24" y1="169.2" x2="333.24" y2="171.4" stroke="#222" stroke-width="0.7"/>
<line x1="335.34" y1="169.2" x2="335.34" y2="171.4" stroke="#222" stroke-width="0.7"/>
<line x1="336.98" y1="169.2" x2="336.98" y2="171.4" stroke="#222" stroke-width="0.7"/>
<line x1="338.31" y1="169.2" x2="338.31" y2="171.4" stroke="#222" stroke-width="0.7"/>
<line x1="339.44" y1="169.2" x2="339.44" y2="171.4" stroke="#222" stroke-width="0.7"/>
<line x1="340.42" y1="169.2" x2="340.42" y2="171.4" stroke="#222" stroke-width="0.7"/>
<line x1="341.28" y1="169.2" x2="341.28" y2="171.4" stroke="#222" stroke-width="0.7"/>
<line x1="342.05" y1="169.2" x2="342.05" y2="171.4" stroke="#222" stroke-width="0.7"/>
<line x1="347.13" y1="169.2" x2="347.13" y2="171.4" stroke="#222" stroke-width="0.7"/>
<line x1="350.1" y1="169.2" x2="350.1" y2="171.4" stroke="#222" stroke-width="0.7"/>
<line x1="352.2" y1="169.2" x2="352.2" y2="171.4" stroke="#222" stroke-width="0.7"/>
<line x1="353.84" y1="169.2" x2="353.84" y2="171.4" stroke="#222" stroke-width="0.7"/>
<line x1="355.17" y1="169.2" x2="355.17" y2="171.4" stroke="#222" stroke-width="0.7"/>
<line x1="356.3" y1="169.2" x2="356.3" y2="171.4" stroke="#222" stroke-width="0.7"/>
<line x1="357.28" y1="169.2" x2="357.28" y2="171.4" stroke="#222" stroke-width="0.7"/>
<line x1="358.14" y1="169.2" x2="358.14" y2="171.4" stroke="#222" stroke-width="0.7"/>
<line x1="358.91" y1="169.2" x2="358.91" y2="171.4" stroke="#222" stroke-width="0.7"/>
<line x1="363.88" y1="169.2" x2="363.88" y2="171.4" stroke="#222" stroke-width="0.7"/>
<line x1="366.78" y1="169.2" x2="366.78" y2="171.4" stroke="#222" stroke-width="0.7"/>
<line x1="368.84" y1="169.2" x2="368.84" y2="171.4" stroke="#222" stroke-width="0.7"/>
<line x1="370.44" y1="169.2" x2="370.44" y2="171.4" stroke="#222" stroke-width="0.7"/>
<line x1="371.74" y1="169.2" x2="371.74" y2="171.4" stroke="#222" stroke-width="0.7"/>
<line x1="372.85" y1="169.2" x2="372.85" y2="171.4" stroke="#222" stroke-width="0.7"/>
<line x1="373.81" y1="169.2" x2="373.81" y2="171.4" stroke="#222" stroke-width="0.7"/>
<line x1="374.65" y1="169.2" x2="374.65" y2="171.4" stroke="#222" stroke-width="0.7"/>
<line x1="375.4" y1="169.2" x2="375.4" y2="171.4" stroke="#222" stroke-width="0.7"/>
<path d="M310.3,168.8 L318.8,168.8 L321.25,166.06 L323.7,163 L325.1,156.85 L326.5,151.5 L327.5,143.17 L328.5,134.2 L329.45,126.54 L330.4,118.8 L331.2,112.92 L332,107.3 L332.9,104 L333.8,100.2 L334.5,105.88 L335.2,111.2 L336.15,118.86 L337.1,126.5 L337.55,128.47 L338,131.3 L338.8,127.58 L339.6,123.7 L340.3,124.44 L341,124.6 L341.65,129.81 L342.3,134.2 L343.55,144.26 L344.8,153.5 L346.25,159.76 L347.7,166 L349.15,167.36 L350.6,168.8 L382.6,168.8 Z" fill="#8caac6" stroke="#2a6399" stroke-width="1.05" stroke-linejoin="round"/>
<line x1="310.3" y1="168.7" x2="382.6" y2="168.7" stroke="#2a6399" stroke-width="0.9"/>
<line x1="259.2" y1="36" x2="283.7" y2="36" stroke="#555" stroke-width="0.9"/>
<line x1="259.2" y1="34.5" x2="259.2" y2="37.5" stroke="#555" stroke-width="0.8"/>
<line x1="283.7" y1="34.5" x2="283.7" y2="37.5" stroke="#555" stroke-width="0.8"/>
<text font-size="7.4" text-anchor="middle" fill="#111" transform="translate(294.2 31) scale(1.08 1)" stroke="#111" stroke-width="0.15">27</text>
<line x1="339" y1="35.6" x2="363.5" y2="35.6" stroke="#555" stroke-width="0.9"/>
<line x1="339" y1="34.1" x2="339" y2="37.1" stroke="#555" stroke-width="0.8"/>
<line x1="363.5" y1="34.1" x2="363.5" y2="37.1" stroke="#555" stroke-width="0.8"/>
<text font-size="7.4" text-anchor="middle" fill="#111" transform="translate(374.6 31) scale(1.08 1)" stroke="#111" stroke-width="0.15">50</text>
<line x1="259.2" y1="114.6" x2="283.7" y2="114.6" stroke="#555" stroke-width="0.9"/>
<line x1="259.2" y1="113.1" x2="259.2" y2="116.1" stroke="#555" stroke-width="0.8"/>
<line x1="283.7" y1="113.1" x2="283.7" y2="116.1" stroke="#555" stroke-width="0.8"/>
<text font-size="7.4" text-anchor="middle" fill="#111" transform="translate(294.2 110) scale(1.08 1)" stroke="#111" stroke-width="0.15">25</text>
<line x1="339" y1="114.6" x2="363.5" y2="114.6" stroke="#555" stroke-width="0.9"/>
<line x1="339" y1="113.1" x2="339" y2="116.1" stroke="#555" stroke-width="0.8"/>
<line x1="363.5" y1="113.1" x2="363.5" y2="116.1" stroke="#555" stroke-width="0.8"/>
<text font-size="7.4" text-anchor="middle" fill="#111" transform="translate(374.6 110) scale(1.08 1)" stroke="#111" stroke-width="0.15">27</text>
<rect x="276" y="58" width="4.8" height="4.8" fill="#cc0a30" stroke="none" stroke-width="1"/>
<text font-size="7" text-anchor="start" fill="#111" transform="translate(284.2 63) scale(1.08 1)" stroke="#111" stroke-width="0.15">WT</text>
<rect x="276" y="126.8" width="4.8" height="4.8" fill="#1c5290" stroke="none" stroke-width="1"/>
<text font-size="7" text-anchor="start" fill="#111" transform="translate(284.2 131.7) scale(1.08 1)" stroke="#111" stroke-width="0.15">KO</text>
<text font-size="7" text-anchor="middle" fill="#111" transform="translate(237.17 181) scale(1.08 1)" stroke="#111" stroke-width="0.15">0</text>
<text font-size="6.6" text-anchor="middle" fill="#111" transform="translate(246.29 181)" stroke="#111" stroke-width="0.15">10<tspan font-size="5.15" dy="-2.64">2</tspan></text>
<text font-size="6.6" text-anchor="middle" fill="#111" transform="translate(261.99 181)" stroke="#111" stroke-width="0.15">10<tspan font-size="5.15" dy="-2.64">3</tspan></text>
<text font-size="6.6" text-anchor="middle" fill="#111" transform="translate(279.14 181)" stroke="#111" stroke-width="0.15">10<tspan font-size="5.15" dy="-2.64">4</tspan></text>
<text font-size="6.6" text-anchor="middle" fill="#111" transform="translate(295.2 181)" stroke="#111" stroke-width="0.15">10<tspan font-size="5.15" dy="-2.64">5</tspan></text>
<text font-size="7" text-anchor="middle" fill="#111" transform="translate(316.37 181) scale(1.08 1)" stroke="#111" stroke-width="0.15">0</text>
<text font-size="6.6" text-anchor="middle" fill="#111" transform="translate(325.5 181)" stroke="#111" stroke-width="0.15">10<tspan font-size="5.15" dy="-2.64">2</tspan></text>
<text font-size="6.6" text-anchor="middle" fill="#111" transform="translate(341.19 181)" stroke="#111" stroke-width="0.15">10<tspan font-size="5.15" dy="-2.64">3</tspan></text>
<text font-size="6.6" text-anchor="middle" fill="#111" transform="translate(358.35 181)" stroke="#111" stroke-width="0.15">10<tspan font-size="5.15" dy="-2.64">4</tspan></text>
<text font-size="6.6" text-anchor="middle" fill="#111" transform="translate(374.41 181)" stroke="#111" stroke-width="0.15">10<tspan font-size="5.15" dy="-2.64">5</tspan></text>
<text font-size="9" text-anchor="start" fill="#111" transform="translate(231.6 191.3)" stroke="#111" stroke-width="0.15">HIF1α</text>
<line x1="259.6" y1="188.6" x2="376" y2="188.6" stroke="#111" stroke-width="0.9"/>
<path d="M380,188.6 L374.5,186.4 L374.5,190.8 Z" fill="#111"/>
<line x1="420.6" y1="68.2" x2="420.6" y2="170" stroke="#111" stroke-width="1.2"/>
<line x1="420" y1="169.4" x2="513.5" y2="169.4" stroke="#111" stroke-width="1.2"/>
<line x1="417.6" y1="72" x2="420.6" y2="72" stroke="#111" stroke-width="1"/>
<text font-size="7" text-anchor="end" fill="#111" transform="translate(415.8 74.52) scale(1.08 1)" stroke="#111" stroke-width="0.15">60</text>
<line x1="417.6" y1="104.5" x2="420.6" y2="104.5" stroke="#111" stroke-width="1"/>
<text font-size="7" text-anchor="end" fill="#111" transform="translate(415.8 107.02) scale(1.08 1)" stroke="#111" stroke-width="0.15">40</text>
<line x1="417.6" y1="137" x2="420.6" y2="137" stroke="#111" stroke-width="1"/>
<text font-size="7" text-anchor="end" fill="#111" transform="translate(415.8 139.52) scale(1.08 1)" stroke="#111" stroke-width="0.15">20</text>
<line x1="417.6" y1="169.4" x2="420.6" y2="169.4" stroke="#111" stroke-width="1"/>
<text font-size="7" text-anchor="end" fill="#111" transform="translate(415.8 171.92) scale(1.08 1)" stroke="#111" stroke-width="0.15">0</text>
<text x="0" y="0" font-size="9" text-anchor="middle" textLength="30" lengthAdjust="spacingAndGlyphs" transform="translate(400.8 120.7) rotate(-90)" fill="#111" stroke="#111" stroke-width="0.15">% HIF1α<tspan font-size="6" dy="-3.2">+</tspan></text>
<rect x="429.9" y="125.3" width="10.9" height="44.1" fill="#e08696" stroke="none" stroke-width="1"/>
<rect x="446.8" y="127.9" width="10.9" height="41.5" fill="#88a8c5" stroke="none" stroke-width="1"/>
<rect x="475.9" y="83" width="11.1" height="86.4" fill="#e08696" stroke="none" stroke-width="1"/>
<rect x="493.3" y="123.5" width="11.1" height="45.9" fill="#88a8c5" stroke="none" stroke-width="1"/>
<line x1="481.5" y1="83" x2="481.5" y2="78.5" stroke="#222" stroke-width="0.8"/>
<line x1="480" y1="78.5" x2="483" y2="78.5" stroke="#222" stroke-width="0.8"/>
<line x1="452.3" y1="127.9" x2="452.3" y2="125.8" stroke="#222" stroke-width="0.8"/>
<line x1="450.8" y1="125.8" x2="453.8" y2="125.8" stroke="#222" stroke-width="0.8"/>
<line x1="498.8" y1="123.5" x2="498.8" y2="122" stroke="#222" stroke-width="0.8"/>
<line x1="497.3" y1="122" x2="500.3" y2="122" stroke="#222" stroke-width="0.8"/>
<line x1="435.3" y1="125.3" x2="435.3" y2="124" stroke="#222" stroke-width="0.8"/>
<line x1="433.8" y1="124" x2="436.8" y2="124" stroke="#222" stroke-width="0.8"/>
<rect x="431.3" y="120.9" width="3.8" height="3.8" fill="#cc0a30" stroke="none" stroke-width="1"/>
<rect x="435.5" y="123.1" width="3.8" height="3.8" fill="#cc0a30" stroke="none" stroke-width="1"/>
<rect x="434.1" y="125.4" width="3.8" height="3.8" fill="#cc0a30" stroke="none" stroke-width="1"/>
<rect x="478.6" y="73.5" width="3.8" height="3.8" fill="#cc0a30" stroke="none" stroke-width="1"/>
<rect x="476.3" y="86.6" width="3.8" height="3.8" fill="#cc0a30" stroke="none" stroke-width="1"/>
<rect x="482.9" y="82.9" width="3.8" height="3.8" fill="#cc0a30" stroke="none" stroke-width="1"/>
<path d="M450.5,123.3 L448,127.8 L453,127.8 Z" fill="#1c5290"/>
<path d="M452.3,126.9 L449.8,131.4 L454.8,131.4 Z" fill="#1c5290"/>
<path d="M453.7,125.3 L451.2,129.8 L456.2,129.8 Z" fill="#1c5290"/>
<path d="M496.5,117.8 L494,122.3 L499,122.3 Z" fill="#1c5290"/>
<path d="M499.5,122.8 L497,127.3 L502,127.3 Z" fill="#1c5290"/>
<path d="M498.3,123.3 L495.8,127.8 L500.8,127.8 Z" fill="#1c5290"/>
<line x1="432.5" y1="67.7" x2="478" y2="67.7" stroke="#444" stroke-width="1"/>
<line x1="432.5" y1="65.5" x2="432.5" y2="69.9" stroke="#444" stroke-width="1"/>
<line x1="478" y1="65.5" x2="478" y2="69.9" stroke="#444" stroke-width="1"/>
<text font-size="8" text-anchor="middle" font-weight="bold" fill="#222" transform="translate(455.25 65.8) scale(1.05 1)" stroke="#222" stroke-width="0.15">***</text>
<line x1="481.6" y1="67.7" x2="504.7" y2="67.7" stroke="#444" stroke-width="1"/>
<line x1="481.6" y1="65.5" x2="481.6" y2="69.9" stroke="#444" stroke-width="1"/>
<line x1="504.7" y1="65.5" x2="504.7" y2="69.9" stroke="#444" stroke-width="1"/>
<text font-size="8" text-anchor="middle" font-weight="bold" fill="#222" transform="translate(493.15 65.8) scale(1.05 1)" stroke="#222" stroke-width="0.15">***</text>
<text font-size="7.3" text-anchor="middle" fill="#111" transform="translate(444.3 179) scale(1.08 1)" stroke="#111" stroke-width="0.15">21%</text>
<text font-size="7.3" text-anchor="middle" fill="#111" transform="translate(490 179) scale(1.08 1)" stroke="#111" stroke-width="0.15">3%</text>
<text font-size="9" text-anchor="middle" fill="#111" transform="translate(91.8 209.4) scale(1.08 1)" stroke="#111" stroke-width="0.15">21% O<tspan font-size="6.2" dy="2">2</tspan></text>
<text font-size="9" text-anchor="middle" fill="#111" transform="translate(252.6 209.4) scale(1.08 1)" stroke="#111" stroke-width="0.15">3% O<tspan font-size="6.2" dy="2">2</tspan></text>
<line x1="24.2" y1="212.4" x2="160" y2="212.4" stroke="#333" stroke-width="0.8"/>
<line x1="190" y1="212.6" x2="321.5" y2="212.6" stroke="#333" stroke-width="0.8"/>
<rect x="21.2" y="214.6" width="68" height="69.1" fill="none" stroke="#333" stroke-width="0.9"/>
<line x1="18.2" y1="227.5" x2="21.2" y2="227.5" stroke="#222" stroke-width="0.8"/>
<line x1="18.2" y1="246.3" x2="21.2" y2="246.3" stroke="#222" stroke-width="0.8"/>
<line x1="18.2" y1="265" x2="21.2" y2="265" stroke="#222" stroke-width="0.8"/>
<line x1="18.2" y1="283.6" x2="21.2" y2="283.6" stroke="#222" stroke-width="0.8"/>
<line x1="19.5" y1="283.6" x2="21.2" y2="283.6" stroke="#333" stroke-width="0.7"/>
<line x1="19.5" y1="279.84" x2="21.2" y2="279.84" stroke="#333" stroke-width="0.7"/>
<line x1="19.5" y1="276.08" x2="21.2" y2="276.08" stroke="#333" stroke-width="0.7"/>
<line x1="19.5" y1="272.32" x2="21.2" y2="272.32" stroke="#333" stroke-width="0.7"/>
<line x1="19.5" y1="268.56" x2="21.2" y2="268.56" stroke="#333" stroke-width="0.7"/>
<line x1="19.5" y1="264.8" x2="21.2" y2="264.8" stroke="#333" stroke-width="0.7"/>
<line x1="19.5" y1="261.04" x2="21.2" y2="261.04" stroke="#333" stroke-width="0.7"/>
<line x1="19.5" y1="257.28" x2="21.2" y2="257.28" stroke="#333" stroke-width="0.7"/>
<line x1="19.5" y1="253.52" x2="21.2" y2="253.52" stroke="#333" stroke-width="0.7"/>
<line x1="19.5" y1="249.76" x2="21.2" y2="249.76" stroke="#333" stroke-width="0.7"/>
<line x1="19.5" y1="246" x2="21.2" y2="246" stroke="#333" stroke-width="0.7"/>
<line x1="19.5" y1="242.24" x2="21.2" y2="242.24" stroke="#333" stroke-width="0.7"/>
<line x1="19.5" y1="238.48" x2="21.2" y2="238.48" stroke="#333" stroke-width="0.7"/>
<line x1="19.5" y1="234.72" x2="21.2" y2="234.72" stroke="#333" stroke-width="0.7"/>
<line x1="19.5" y1="230.96" x2="21.2" y2="230.96" stroke="#333" stroke-width="0.7"/>
<line x1="19.5" y1="227.2" x2="21.2" y2="227.2" stroke="#333" stroke-width="0.7"/>
<line x1="19.5" y1="223.44" x2="21.2" y2="223.44" stroke="#333" stroke-width="0.7"/>
<line x1="19.5" y1="219.68" x2="21.2" y2="219.68" stroke="#333" stroke-width="0.7"/>
<line x1="19.5" y1="215.92" x2="21.2" y2="215.92" stroke="#333" stroke-width="0.7"/>
<line x1="22.7" y1="283.7" x2="22.7" y2="285.9" stroke="#222" stroke-width="0.7"/>
<line x1="24" y1="283.7" x2="24" y2="285.9" stroke="#222" stroke-width="0.7"/>
<line x1="25.3" y1="283.7" x2="25.3" y2="285.9" stroke="#222" stroke-width="0.7"/>
<line x1="26.6" y1="283.7" x2="26.6" y2="285.9" stroke="#222" stroke-width="0.7"/>
<line x1="27.9" y1="283.7" x2="27.9" y2="285.9" stroke="#222" stroke-width="0.7"/>
<line x1="29.2" y1="283.7" x2="29.2" y2="285.9" stroke="#222" stroke-width="0.7"/>
<line x1="30.5" y1="283.7" x2="30.5" y2="285.9" stroke="#222" stroke-width="0.7"/>
<line x1="35.48" y1="283.7" x2="35.48" y2="285.9" stroke="#222" stroke-width="0.7"/>
<line x1="40.19" y1="283.7" x2="40.19" y2="285.9" stroke="#222" stroke-width="0.7"/>
<line x1="42.94" y1="283.7" x2="42.94" y2="285.9" stroke="#222" stroke-width="0.7"/>
<line x1="44.9" y1="283.7" x2="44.9" y2="285.9" stroke="#222" stroke-width="0.7"/>
<line x1="46.41" y1="283.7" x2="46.41" y2="285.9" stroke="#222" stroke-width="0.7"/>
<line x1="47.65" y1="283.7" x2="47.65" y2="285.9" stroke="#222" stroke-width="0.7"/>
<line x1="48.7" y1="283.7" x2="48.7" y2="285.9" stroke="#222" stroke-width="0.7"/>
<line x1="49.6" y1="283.7" x2="49.6" y2="285.9" stroke="#222" stroke-width="0.7"/>
<line x1="50.4" y1="283.7" x2="50.4" y2="285.9" stroke="#222" stroke-width="0.7"/>
<line x1="51.12" y1="283.7" x2="51.12" y2="285.9" stroke="#222" stroke-width="0.7"/>
<line x1="55.83" y1="283.7" x2="55.83" y2="285.9" stroke="#222" stroke-width="0.7"/>
<line x1="58.58" y1="283.7" x2="58.58" y2="285.9" stroke="#222" stroke-width="0.7"/>
<line x1="60.54" y1="283.7" x2="60.54" y2="285.9" stroke="#222" stroke-width="0.7"/>
<line x1="62.05" y1="283.7" x2="62.05" y2="285.9" stroke="#222" stroke-width="0.7"/>
<line x1="63.29" y1="283.7" x2="63.29" y2="285.9" stroke="#222" stroke-width="0.7"/>
<line x1="64.34" y1="283.7" x2="64.34" y2="285.9" stroke="#222" stroke-width="0.7"/>
<line x1="65.24" y1="283.7" x2="65.24" y2="285.9" stroke="#222" stroke-width="0.7"/>
<line x1="66.04" y1="283.7" x2="66.04" y2="285.9" stroke="#222" stroke-width="0.7"/>
<line x1="66.76" y1="283.7" x2="66.76" y2="285.9" stroke="#222" stroke-width="0.7"/>
<line x1="71.37" y1="283.7" x2="71.37" y2="285.9" stroke="#222" stroke-width="0.7"/>
<line x1="74.06" y1="283.7" x2="74.06" y2="285.9" stroke="#222" stroke-width="0.7"/>
<line x1="75.97" y1="283.7" x2="75.97" y2="285.9" stroke="#222" stroke-width="0.7"/>
<line x1="77.45" y1="283.7" x2="77.45" y2="285.9" stroke="#222" stroke-width="0.7"/>
<line x1="78.67" y1="283.7" x2="78.67" y2="285.9" stroke="#222" stroke-width="0.7"/>
<line x1="79.69" y1="283.7" x2="79.69" y2="285.9" stroke="#222" stroke-width="0.7"/>
<line x1="80.58" y1="283.7" x2="80.58" y2="285.9" stroke="#222" stroke-width="0.7"/>
<line x1="81.36" y1="283.7" x2="81.36" y2="285.9" stroke="#222" stroke-width="0.7"/>
<line x1="82.06" y1="283.7" x2="82.06" y2="285.9" stroke="#222" stroke-width="0.7"/>
<path d="M21.7,283.3 L21.5,250 L21.7,258.94 L21.9,269.83 L22.1,278.8 L22.73,279.67 L23.37,279.16 L24,280 L24.5,279.16 L25,278.24 L25.5,277.5 L26,278.27 L26.5,279.02 L27,279 L27.6,277.6 L28.2,276.82 L28.8,277 L29.37,278.1 L29.93,277.88 L30.5,278.5 L31.57,277.81 L32.63,275.27 L33.7,275 L34.47,274.4 L35.23,274.4 L36,273.5 L36.83,272.18 L37.67,272.63 L38.5,271 L39.43,273.72 L40.37,274.16 L41.3,277 L41.87,276.48 L42.43,277.74 L43,278 L44.07,279.19 L45.13,278.59 L46.2,279.2 L47.47,278.56 L48.73,278.79 L50,278.8 L51.6,276.35 L53.2,275.1 L54.8,274 L55.77,271.65 L56.73,269.53 L57.7,267.3 L58.67,261.05 L59.63,255.28 L60.6,250 L61.23,244.06 L61.87,239.06 L62.5,233.7 L63.13,229.09 L63.77,224.37 L64.4,221 L64.8,220.37 L65.2,218.63 L65.6,217.3 L66.03,220.79 L66.47,223.2 L66.9,227 L67.53,233.32 L68.17,238.51 L68.8,243.3 L69.6,248.05 L70.4,253.87 L71.2,259.6 L72.13,265.8 L73.07,271.58 L74,277 L74.67,279.79 L75.33,280.86 L76,283 L77.33,283.3 L78.67,283.3 L80,283.3 L88.7,283.3 Z" fill="#df8496" stroke="#c8103c" stroke-width="1.05" stroke-linejoin="round"/>
<line x1="21.7" y1="283.2" x2="88.7" y2="283.2" stroke="#c8103c" stroke-width="0.9"/>
<text font-size="6.8" text-anchor="end" fill="#111" transform="translate(15 229.9) scale(1.08 1)" stroke="#111" stroke-width="0.15">30</text>
<text font-size="6.8" text-anchor="end" fill="#111" transform="translate(15 248.7) scale(1.08 1)" stroke="#111" stroke-width="0.15">20</text>
<text font-size="6.8" text-anchor="end" fill="#111" transform="translate(15 267.4) scale(1.08 1)" stroke="#111" stroke-width="0.15">10</text>
<text font-size="6.8" text-anchor="end" fill="#111" transform="translate(15 286) scale(1.08 1)" stroke="#111" stroke-width="0.15">0</text>
<rect x="95" y="214.9" width="68.2" height="69" fill="none" stroke="#333" stroke-width="0.9"/>
<line x1="92" y1="227.5" x2="95" y2="227.5" stroke="#222" stroke-width="0.8"/>
<line x1="92" y1="246.3" x2="95" y2="246.3" stroke="#222" stroke-width="0.8"/>
<line x1="92" y1="265" x2="95" y2="265" stroke="#222" stroke-width="0.8"/>
<line x1="92" y1="283.6" x2="95" y2="283.6" stroke="#222" stroke-width="0.8"/>
<line x1="93.3" y1="283.6" x2="95" y2="283.6" stroke="#333" stroke-width="0.7"/>
<line x1="93.3" y1="279.84" x2="95" y2="279.84" stroke="#333" stroke-width="0.7"/>
<line x1="93.3" y1="276.08" x2="95" y2="276.08" stroke="#333" stroke-width="0.7"/>
<line x1="93.3" y1="272.32" x2="95" y2="272.32" stroke="#333" stroke-width="0.7"/>
<line x1="93.3" y1="268.56" x2="95" y2="268.56" stroke="#333" stroke-width="0.7"/>
<line x1="93.3" y1="264.8" x2="95" y2="264.8" stroke="#333" stroke-width="0.7"/>
<line x1="93.3" y1="261.04" x2="95" y2="261.04" stroke="#333" stroke-width="0.7"/>
<line x1="93.3" y1="257.28" x2="95" y2="257.28" stroke="#333" stroke-width="0.7"/>
<line x1="93.3" y1="253.52" x2="95" y2="253.52" stroke="#333" stroke-width="0.7"/>
<line x1="93.3" y1="249.76" x2="95" y2="249.76" stroke="#333" stroke-width="0.7"/>
<line x1="93.3" y1="246" x2="95" y2="246" stroke="#333" stroke-width="0.7"/>
<line x1="93.3" y1="242.24" x2="95" y2="242.24" stroke="#333" stroke-width="0.7"/>
<line x1="93.3" y1="238.48" x2="95" y2="238.48" stroke="#333" stroke-width="0.7"/>
<line x1="93.3" y1="234.72" x2="95" y2="234.72" stroke="#333" stroke-width="0.7"/>
<line x1="93.3" y1="230.96" x2="95" y2="230.96" stroke="#333" stroke-width="0.7"/>
<line x1="93.3" y1="227.2" x2="95" y2="227.2" stroke="#333" stroke-width="0.7"/>
<line x1="93.3" y1="223.44" x2="95" y2="223.44" stroke="#333" stroke-width="0.7"/>
<line x1="93.3" y1="219.68" x2="95" y2="219.68" stroke="#333" stroke-width="0.7"/>
<line x1="93.3" y1="215.92" x2="95" y2="215.92" stroke="#333" stroke-width="0.7"/>
<line x1="96.5" y1="283.9" x2="96.5" y2="286.1" stroke="#222" stroke-width="0.7"/>
<line x1="97.8" y1="283.9" x2="97.8" y2="286.1" stroke="#222" stroke-width="0.7"/>
<line x1="99.1" y1="283.9" x2="99.1" y2="286.1" stroke="#222" stroke-width="0.7"/>
<line x1="100.4" y1="283.9" x2="100.4" y2="286.1" stroke="#222" stroke-width="0.7"/>
<line x1="101.7" y1="283.9" x2="101.7" y2="286.1" stroke="#222" stroke-width="0.7"/>
<line x1="103" y1="283.9" x2="103" y2="286.1" stroke="#222" stroke-width="0.7"/>
<line x1="104.3" y1="283.9" x2="104.3" y2="286.1" stroke="#222" stroke-width="0.7"/>
<line x1="109.32" y1="283.9" x2="109.32" y2="286.1" stroke="#222" stroke-width="0.7"/>
<line x1="114.04" y1="283.9" x2="114.04" y2="286.1" stroke="#222" stroke-width="0.7"/>
<line x1="116.81" y1="283.9" x2="116.81" y2="286.1" stroke="#222" stroke-width="0.7"/>
<line x1="118.77" y1="283.9" x2="118.77" y2="286.1" stroke="#222" stroke-width="0.7"/>
<line x1="120.29" y1="283.9" x2="120.29" y2="286.1" stroke="#222" stroke-width="0.7"/>
<line x1="121.53" y1="283.9" x2="121.53" y2="286.1" stroke="#222" stroke-width="0.7"/>
<line x1="122.58" y1="283.9" x2="122.58" y2="286.1" stroke="#222" stroke-width="0.7"/>
<line x1="123.49" y1="283.9" x2="123.49" y2="286.1" stroke="#222" stroke-width="0.7"/>
<line x1="124.29" y1="283.9" x2="124.29" y2="286.1" stroke="#222" stroke-width="0.7"/>
<line x1="125.01" y1="283.9" x2="125.01" y2="286.1" stroke="#222" stroke-width="0.7"/>
<line x1="129.73" y1="283.9" x2="129.73" y2="286.1" stroke="#222" stroke-width="0.7"/>
<line x1="132.49" y1="283.9" x2="132.49" y2="286.1" stroke="#222" stroke-width="0.7"/>
<line x1="134.45" y1="283.9" x2="134.45" y2="286.1" stroke="#222" stroke-width="0.7"/>
<line x1="135.97" y1="283.9" x2="135.97" y2="286.1" stroke="#222" stroke-width="0.7"/>
<line x1="137.21" y1="283.9" x2="137.21" y2="286.1" stroke="#222" stroke-width="0.7"/>
<line x1="138.26" y1="283.9" x2="138.26" y2="286.1" stroke="#222" stroke-width="0.7"/>
<line x1="139.17" y1="283.9" x2="139.17" y2="286.1" stroke="#222" stroke-width="0.7"/>
<line x1="139.98" y1="283.9" x2="139.98" y2="286.1" stroke="#222" stroke-width="0.7"/>
<line x1="140.69" y1="283.9" x2="140.69" y2="286.1" stroke="#222" stroke-width="0.7"/>
<line x1="145.31" y1="283.9" x2="145.31" y2="286.1" stroke="#222" stroke-width="0.7"/>
<line x1="148.02" y1="283.9" x2="148.02" y2="286.1" stroke="#222" stroke-width="0.7"/>
<line x1="149.93" y1="283.9" x2="149.93" y2="286.1" stroke="#222" stroke-width="0.7"/>
<line x1="151.42" y1="283.9" x2="151.42" y2="286.1" stroke="#222" stroke-width="0.7"/>
<line x1="152.63" y1="283.9" x2="152.63" y2="286.1" stroke="#222" stroke-width="0.7"/>
<line x1="153.66" y1="283.9" x2="153.66" y2="286.1" stroke="#222" stroke-width="0.7"/>
<line x1="154.55" y1="283.9" x2="154.55" y2="286.1" stroke="#222" stroke-width="0.7"/>
<line x1="155.34" y1="283.9" x2="155.34" y2="286.1" stroke="#222" stroke-width="0.7"/>
<line x1="156.04" y1="283.9" x2="156.04" y2="286.1" stroke="#222" stroke-width="0.7"/>
<path d="M95.5,283.5 L95.4,230.8 L95.57,249.02 L95.73,266.41 L95.9,283 L96.93,281.87 L97.97,281.59 L99,282 L100.1,280.94 L101.2,279.09 L102.3,277 L102.93,274.64 L103.57,271.32 L104.2,269 L104.87,264.12 L105.53,259.06 L106.2,253.8 L106.8,249.48 L107.4,244.25 L108,240.4 L108.67,238.34 L109.33,236.34 L110,234.6 L110.67,231.8 L111.33,229.09 L112,225 L112.3,223.88 L112.6,221.21 L112.9,219.2 L113.53,222.97 L114.17,226.52 L114.8,230.8 L115.43,228.7 L116.07,227.42 L116.7,227 L117.13,228.84 L117.57,230.47 L118,232.7 L118.53,229.25 L119.07,226.94 L119.6,223 L120.23,221.78 L120.87,220.58 L121.5,219.2 L121.9,218.23 L122.3,217.34 L122.7,217.7 L123.27,220.49 L123.83,223.25 L124.4,227 L125.03,228.92 L125.67,231.7 L126.3,232.7 L126.97,236.21 L127.63,238.53 L128.3,242.3 L129.27,247.51 L130.23,251.83 L131.2,255.8 L131.8,259.42 L132.4,262.93 L133,265.4 L134,268.41 L135,270.99 L136,273 L136.93,274.67 L137.87,277.73 L138.8,278.8 L140.1,280.93 L141.4,280.79 L142.7,282.7 L162.7,283.5 Z" fill="#df8496" stroke="#c8103c" stroke-width="1.05" stroke-linejoin="round"/>
<line x1="95.5" y1="283.4" x2="162.7" y2="283.4" stroke="#c8103c" stroke-width="0.9"/>
<rect x="182.7" y="215.2" width="68.1" height="68.6" fill="none" stroke="#333" stroke-width="0.9"/>
<line x1="179.7" y1="223.3" x2="182.7" y2="223.3" stroke="#222" stroke-width="0.8"/>
<line x1="179.7" y1="243.6" x2="182.7" y2="243.6" stroke="#222" stroke-width="0.8"/>
<line x1="179.7" y1="263.8" x2="182.7" y2="263.8" stroke="#222" stroke-width="0.8"/>
<line x1="179.7" y1="283.8" x2="182.7" y2="283.8" stroke="#222" stroke-width="0.8"/>
<line x1="181" y1="283.8" x2="182.7" y2="283.8" stroke="#333" stroke-width="0.7"/>
<line x1="181" y1="279.74" x2="182.7" y2="279.74" stroke="#333" stroke-width="0.7"/>
<line x1="181" y1="275.68" x2="182.7" y2="275.68" stroke="#333" stroke-width="0.7"/>
<line x1="181" y1="271.62" x2="182.7" y2="271.62" stroke="#333" stroke-width="0.7"/>
<line x1="181" y1="267.56" x2="182.7" y2="267.56" stroke="#333" stroke-width="0.7"/>
<line x1="181" y1="263.5" x2="182.7" y2="263.5" stroke="#333" stroke-width="0.7"/>
<line x1="181" y1="259.44" x2="182.7" y2="259.44" stroke="#333" stroke-width="0.7"/>
<line x1="181" y1="255.38" x2="182.7" y2="255.38" stroke="#333" stroke-width="0.7"/>
<line x1="181" y1="251.32" x2="182.7" y2="251.32" stroke="#333" stroke-width="0.7"/>
<line x1="181" y1="247.26" x2="182.7" y2="247.26" stroke="#333" stroke-width="0.7"/>
<line x1="181" y1="243.2" x2="182.7" y2="243.2" stroke="#333" stroke-width="0.7"/>
<line x1="181" y1="239.14" x2="182.7" y2="239.14" stroke="#333" stroke-width="0.7"/>
<line x1="181" y1="235.08" x2="182.7" y2="235.08" stroke="#333" stroke-width="0.7"/>
<line x1="181" y1="231.02" x2="182.7" y2="231.02" stroke="#333" stroke-width="0.7"/>
<line x1="181" y1="226.96" x2="182.7" y2="226.96" stroke="#333" stroke-width="0.7"/>
<line x1="181" y1="222.9" x2="182.7" y2="222.9" stroke="#333" stroke-width="0.7"/>
<line x1="181" y1="218.84" x2="182.7" y2="218.84" stroke="#333" stroke-width="0.7"/>
<line x1="184.2" y1="283.8" x2="184.2" y2="286" stroke="#222" stroke-width="0.7"/>
<line x1="185.5" y1="283.8" x2="185.5" y2="286" stroke="#222" stroke-width="0.7"/>
<line x1="186.8" y1="283.8" x2="186.8" y2="286" stroke="#222" stroke-width="0.7"/>
<line x1="188.1" y1="283.8" x2="188.1" y2="286" stroke="#222" stroke-width="0.7"/>
<line x1="189.4" y1="283.8" x2="189.4" y2="286" stroke="#222" stroke-width="0.7"/>
<line x1="190.7" y1="283.8" x2="190.7" y2="286" stroke="#222" stroke-width="0.7"/>
<line x1="192" y1="283.8" x2="192" y2="286" stroke="#222" stroke-width="0.7"/>
<line x1="197" y1="283.8" x2="197" y2="286" stroke="#222" stroke-width="0.7"/>
<line x1="201.72" y1="283.8" x2="201.72" y2="286" stroke="#222" stroke-width="0.7"/>
<line x1="204.47" y1="283.8" x2="204.47" y2="286" stroke="#222" stroke-width="0.7"/>
<line x1="206.43" y1="283.8" x2="206.43" y2="286" stroke="#222" stroke-width="0.7"/>
<line x1="207.95" y1="283.8" x2="207.95" y2="286" stroke="#222" stroke-width="0.7"/>
<line x1="209.19" y1="283.8" x2="209.19" y2="286" stroke="#222" stroke-width="0.7"/>
<line x1="210.24" y1="283.8" x2="210.24" y2="286" stroke="#222" stroke-width="0.7"/>
<line x1="211.15" y1="283.8" x2="211.15" y2="286" stroke="#222" stroke-width="0.7"/>
<line x1="211.95" y1="283.8" x2="211.95" y2="286" stroke="#222" stroke-width="0.7"/>
<line x1="212.66" y1="283.8" x2="212.66" y2="286" stroke="#222" stroke-width="0.7"/>
<line x1="217.38" y1="283.8" x2="217.38" y2="286" stroke="#222" stroke-width="0.7"/>
<line x1="220.14" y1="283.8" x2="220.14" y2="286" stroke="#222" stroke-width="0.7"/>
<line x1="222.09" y1="283.8" x2="222.09" y2="286" stroke="#222" stroke-width="0.7"/>
<line x1="223.61" y1="283.8" x2="223.61" y2="286" stroke="#222" stroke-width="0.7"/>
<line x1="224.85" y1="283.8" x2="224.85" y2="286" stroke="#222" stroke-width="0.7"/>
<line x1="225.9" y1="283.8" x2="225.9" y2="286" stroke="#222" stroke-width="0.7"/>
<line x1="226.81" y1="283.8" x2="226.81" y2="286" stroke="#222" stroke-width="0.7"/>
<line x1="227.61" y1="283.8" x2="227.61" y2="286" stroke="#222" stroke-width="0.7"/>
<line x1="228.33" y1="283.8" x2="228.33" y2="286" stroke="#222" stroke-width="0.7"/>
<line x1="232.94" y1="283.8" x2="232.94" y2="286" stroke="#222" stroke-width="0.7"/>
<line x1="235.64" y1="283.8" x2="235.64" y2="286" stroke="#222" stroke-width="0.7"/>
<line x1="237.55" y1="283.8" x2="237.55" y2="286" stroke="#222" stroke-width="0.7"/>
<line x1="239.04" y1="283.8" x2="239.04" y2="286" stroke="#222" stroke-width="0.7"/>
<line x1="240.25" y1="283.8" x2="240.25" y2="286" stroke="#222" stroke-width="0.7"/>
<line x1="241.28" y1="283.8" x2="241.28" y2="286" stroke="#222" stroke-width="0.7"/>
<line x1="242.16" y1="283.8" x2="242.16" y2="286" stroke="#222" stroke-width="0.7"/>
<line x1="242.95" y1="283.8" x2="242.95" y2="286" stroke="#222" stroke-width="0.7"/>
<line x1="243.65" y1="283.8" x2="243.65" y2="286" stroke="#222" stroke-width="0.7"/>
<path d="M183.2,283.4 L182.9,268 L183.33,265.63 L183.77,264.28 L184.2,262.3 L184.73,261.73 L185.27,261.82 L185.8,261.3 L186.1,263.76 L186.4,264.98 L186.7,268 L187.13,264.59 L187.57,263.54 L188,260.4 L188.53,259 L189.07,257.99 L189.6,257.5 L190.07,259.66 L190.53,259.98 L191,261.3 L191.5,258.71 L192,254.86 L192.5,251.7 L192.93,255.15 L193.37,257.47 L193.8,261.3 L194.47,258.04 L195.13,254.96 L195.8,250.8 L196.3,254.34 L196.8,258.23 L197.3,261.3 L198.07,259.71 L198.83,256.72 L199.6,255.6 L200.23,258.3 L200.87,260.23 L201.5,262.3 L202.17,261.94 L202.83,261.46 L203.5,262.3 L204.43,265.52 L205.37,267.38 L206.3,270 L207.13,271.99 L207.97,273.88 L208.8,274.8 L209.6,274.85 L210.4,274.89 L211.2,273.8 L211.97,271.08 L212.73,269.27 L213.5,266.2 L214.13,263.53 L214.77,261.85 L215.4,258.5 L216.23,257.58 L217.07,254.58 L217.9,253.7 L218.33,247.24 L218.77,241.59 L219.2,236.3 L219.73,236.2 L220.27,234.32 L220.8,233.5 L221.23,229.89 L221.67,225.48 L222.1,222 L222.3,221.01 L222.5,219.79 L222.7,219 L222.9,223.23 L223.1,228.15 L223.3,232.5 L223.87,234.25 L224.43,236.43 L225,237.3 L225.63,240.53 L226.27,243.87 L226.9,246 L227.43,248.24 L227.97,250.08 L228.5,250.8 L229.13,256.24 L229.77,260.46 L230.4,266.2 L231.17,268.45 L231.93,270.24 L232.7,271 L233.53,275.23 L234.37,278.12 L235.2,281.5 L236.13,282.55 L237.07,282.31 L238,283.4 L250.3,283.4 Z" fill="#df8496" stroke="#c8103c" stroke-width="1.05" stroke-linejoin="round"/>
<line x1="183.2" y1="283.3" x2="250.3" y2="283.3" stroke="#c8103c" stroke-width="0.9"/>
<text font-size="6.8" text-anchor="end" fill="#111" transform="translate(176.5 225.7) scale(1.08 1)" stroke="#111" stroke-width="0.15">30</text>
<text font-size="6.8" text-anchor="end" fill="#111" transform="translate(176.5 246) scale(1.08 1)" stroke="#111" stroke-width="0.15">20</text>
<text font-size="6.8" text-anchor="end" fill="#111" transform="translate(176.5 266.2) scale(1.08 1)" stroke="#111" stroke-width="0.15">10</text>
<text font-size="6.8" text-anchor="end" fill="#111" transform="translate(176.5 286.2) scale(1.08 1)" stroke="#111" stroke-width="0.15">0</text>
<rect x="256.5" y="215.2" width="67.9" height="68.6" fill="none" stroke="#333" stroke-width="0.9"/>
<line x1="253.5" y1="223.3" x2="256.5" y2="223.3" stroke="#222" stroke-width="0.8"/>
<line x1="253.5" y1="243.6" x2="256.5" y2="243.6" stroke="#222" stroke-width="0.8"/>
<line x1="253.5" y1="263.8" x2="256.5" y2="263.8" stroke="#222" stroke-width="0.8"/>
<line x1="253.5" y1="283.8" x2="256.5" y2="283.8" stroke="#222" stroke-width="0.8"/>
<line x1="254.8" y1="283.8" x2="256.5" y2="283.8" stroke="#333" stroke-width="0.7"/>
<line x1="254.8" y1="279.74" x2="256.5" y2="279.74" stroke="#333" stroke-width="0.7"/>
<line x1="254.8" y1="275.68" x2="256.5" y2="275.68" stroke="#333" stroke-width="0.7"/>
<line x1="254.8" y1="271.62" x2="256.5" y2="271.62" stroke="#333" stroke-width="0.7"/>
<line x1="254.8" y1="267.56" x2="256.5" y2="267.56" stroke="#333" stroke-width="0.7"/>
<line x1="254.8" y1="263.5" x2="256.5" y2="263.5" stroke="#333" stroke-width="0.7"/>
<line x1="254.8" y1="259.44" x2="256.5" y2="259.44" stroke="#333" stroke-width="0.7"/>
<line x1="254.8" y1="255.38" x2="256.5" y2="255.38" stroke="#333" stroke-width="0.7"/>
<line x1="254.8" y1="251.32" x2="256.5" y2="251.32" stroke="#333" stroke-width="0.7"/>
<line x1="254.8" y1="247.26" x2="256.5" y2="247.26" stroke="#333" stroke-width="0.7"/>
<line x1="254.8" y1="243.2" x2="256.5" y2="243.2" stroke="#333" stroke-width="0.7"/>
<line x1="254.8" y1="239.14" x2="256.5" y2="239.14" stroke="#333" stroke-width="0.7"/>
<line x1="254.8" y1="235.08" x2="256.5" y2="235.08" stroke="#333" stroke-width="0.7"/>
<line x1="254.8" y1="231.02" x2="256.5" y2="231.02" stroke="#333" stroke-width="0.7"/>
<line x1="254.8" y1="226.96" x2="256.5" y2="226.96" stroke="#333" stroke-width="0.7"/>
<line x1="254.8" y1="222.9" x2="256.5" y2="222.9" stroke="#333" stroke-width="0.7"/>
<line x1="254.8" y1="218.84" x2="256.5" y2="218.84" stroke="#333" stroke-width="0.7"/>
<line x1="258" y1="283.8" x2="258" y2="286" stroke="#222" stroke-width="0.7"/>
<line x1="259.3" y1="283.8" x2="259.3" y2="286" stroke="#222" stroke-width="0.7"/>
<line x1="260.6" y1="283.8" x2="260.6" y2="286" stroke="#222" stroke-width="0.7"/>
<line x1="261.9" y1="283.8" x2="261.9" y2="286" stroke="#222" stroke-width="0.7"/>
<line x1="263.2" y1="283.8" x2="263.2" y2="286" stroke="#222" stroke-width="0.7"/>
<line x1="264.5" y1="283.8" x2="264.5" y2="286" stroke="#222" stroke-width="0.7"/>
<line x1="265.8" y1="283.8" x2="265.8" y2="286" stroke="#222" stroke-width="0.7"/>
<line x1="270.76" y1="283.8" x2="270.76" y2="286" stroke="#222" stroke-width="0.7"/>
<line x1="275.46" y1="283.8" x2="275.46" y2="286" stroke="#222" stroke-width="0.7"/>
<line x1="278.21" y1="283.8" x2="278.21" y2="286" stroke="#222" stroke-width="0.7"/>
<line x1="280.16" y1="283.8" x2="280.16" y2="286" stroke="#222" stroke-width="0.7"/>
<line x1="281.67" y1="283.8" x2="281.67" y2="286" stroke="#222" stroke-width="0.7"/>
<line x1="282.91" y1="283.8" x2="282.91" y2="286" stroke="#222" stroke-width="0.7"/>
<line x1="283.96" y1="283.8" x2="283.96" y2="286" stroke="#222" stroke-width="0.7"/>
<line x1="284.86" y1="283.8" x2="284.86" y2="286" stroke="#222" stroke-width="0.7"/>
<line x1="285.66" y1="283.8" x2="285.66" y2="286" stroke="#222" stroke-width="0.7"/>
<line x1="286.38" y1="283.8" x2="286.38" y2="286" stroke="#222" stroke-width="0.7"/>
<line x1="291.08" y1="283.8" x2="291.08" y2="286" stroke="#222" stroke-width="0.7"/>
<line x1="293.83" y1="283.8" x2="293.83" y2="286" stroke="#222" stroke-width="0.7"/>
<line x1="295.78" y1="283.8" x2="295.78" y2="286" stroke="#222" stroke-width="0.7"/>
<line x1="297.29" y1="283.8" x2="297.29" y2="286" stroke="#222" stroke-width="0.7"/>
<line x1="298.53" y1="283.8" x2="298.53" y2="286" stroke="#222" stroke-width="0.7"/>
<line x1="299.57" y1="283.8" x2="299.57" y2="286" stroke="#222" stroke-width="0.7"/>
<line x1="300.48" y1="283.8" x2="300.48" y2="286" stroke="#222" stroke-width="0.7"/>
<line x1="301.28" y1="283.8" x2="301.28" y2="286" stroke="#222" stroke-width="0.7"/>
<line x1="301.99" y1="283.8" x2="301.99" y2="286" stroke="#222" stroke-width="0.7"/>
<line x1="306.59" y1="283.8" x2="306.59" y2="286" stroke="#222" stroke-width="0.7"/>
<line x1="309.28" y1="283.8" x2="309.28" y2="286" stroke="#222" stroke-width="0.7"/>
<line x1="311.19" y1="283.8" x2="311.19" y2="286" stroke="#222" stroke-width="0.7"/>
<line x1="312.67" y1="283.8" x2="312.67" y2="286" stroke="#222" stroke-width="0.7"/>
<line x1="313.88" y1="283.8" x2="313.88" y2="286" stroke="#222" stroke-width="0.7"/>
<line x1="314.9" y1="283.8" x2="314.9" y2="286" stroke="#222" stroke-width="0.7"/>
<line x1="315.79" y1="283.8" x2="315.79" y2="286" stroke="#222" stroke-width="0.7"/>
<line x1="316.57" y1="283.8" x2="316.57" y2="286" stroke="#222" stroke-width="0.7"/>
<line x1="317.27" y1="283.8" x2="317.27" y2="286" stroke="#222" stroke-width="0.7"/>
<path d="M257,283.4 L257,276.7 L257.33,278.49 L257.67,280.52 L258,283.4 L259.1,282.01 L260.2,280.28 L261.3,279.6 L261.97,274.95 L262.63,271.69 L263.3,268 L263.93,263.02 L264.57,257.07 L265.2,250.8 L265.83,244.84 L266.47,237.43 L267.1,231.5 L267.57,227.07 L268.03,222.1 L268.5,218 L268.87,218.08 L269.23,218.62 L269.6,220 L270.07,222.39 L270.53,226.57 L271,228.7 L271.43,228.96 L271.87,228.59 L272.3,227.7 L272.8,232.07 L273.3,234.81 L273.8,239.2 L274.33,237.89 L274.87,237.5 L275.4,236.3 L275.83,240.28 L276.27,244.07 L276.7,247 L277.13,250.22 L277.57,251.32 L278,254.6 L278.4,251.26 L278.8,247.84 L279.2,244 L279.67,245.31 L280.13,246.02 L280.6,247.9 L281.07,249.12 L281.53,249.69 L282,251.7 L282.5,249.58 L283,246.56 L283.5,243 L284.13,241.19 L284.77,238.84 L285.4,237.3 L285.93,232.6 L286.47,226.56 L287,221 L287.23,221.22 L287.47,220.69 L287.7,219.6 L288.07,221.35 L288.43,222.91 L288.8,224.8 L289.27,224.04 L289.73,222.81 L290.2,222 L290.63,224.56 L291.07,227.98 L291.5,231.5 L292,235.3 L292.5,237.14 L293,241.2 L293.53,243.25 L294.07,247.16 L294.6,249.8 L295.07,252.3 L295.53,255.66 L296,258.5 L296.43,262.95 L296.87,267.22 L297.3,272 L298.13,275.13 L298.97,275.92 L299.8,278.7 L300.77,279.81 L301.73,280.7 L302.7,282.5 L303.8,283.07 L304.9,282.76 L306,283.4 L323.9,283.4 Z" fill="#df8496" stroke="#c8103c" stroke-width="1.05" stroke-linejoin="round"/>
<line x1="257" y1="283.3" x2="323.9" y2="283.3" stroke="#c8103c" stroke-width="0.9"/>
<rect x="21.2" y="289.2" width="68" height="69.3" fill="none" stroke="#333" stroke-width="0.9"/>
<line x1="18.2" y1="296.3" x2="21.2" y2="296.3" stroke="#222" stroke-width="0.8"/>
<line x1="18.2" y1="308.8" x2="21.2" y2="308.8" stroke="#222" stroke-width="0.8"/>
<line x1="18.2" y1="321.3" x2="21.2" y2="321.3" stroke="#222" stroke-width="0.8"/>
<line x1="18.2" y1="333.8" x2="21.2" y2="333.8" stroke="#222" stroke-width="0.8"/>
<line x1="18.2" y1="346.3" x2="21.2" y2="346.3" stroke="#222" stroke-width="0.8"/>
<line x1="18.2" y1="358.5" x2="21.2" y2="358.5" stroke="#222" stroke-width="0.8"/>
<line x1="19.5" y1="358.5" x2="21.2" y2="358.5" stroke="#333" stroke-width="0.7"/>
<line x1="19.5" y1="356" x2="21.2" y2="356" stroke="#333" stroke-width="0.7"/>
<line x1="19.5" y1="353.5" x2="21.2" y2="353.5" stroke="#333" stroke-width="0.7"/>
<line x1="19.5" y1="351" x2="21.2" y2="351" stroke="#333" stroke-width="0.7"/>
<line x1="19.5" y1="348.5" x2="21.2" y2="348.5" stroke="#333" stroke-width="0.7"/>
<line x1="19.5" y1="346" x2="21.2" y2="346" stroke="#333" stroke-width="0.7"/>
<line x1="19.5" y1="343.5" x2="21.2" y2="343.5" stroke="#333" stroke-width="0.7"/>
<line x1="19.5" y1="341" x2="21.2" y2="341" stroke="#333" stroke-width="0.7"/>
<line x1="19.5" y1="338.5" x2="21.2" y2="338.5" stroke="#333" stroke-width="0.7"/>
<line x1="19.5" y1="336" x2="21.2" y2="336" stroke="#333" stroke-width="0.7"/>
<line x1="19.5" y1="333.5" x2="21.2" y2="333.5" stroke="#333" stroke-width="0.7"/>
<line x1="19.5" y1="331" x2="21.2" y2="331" stroke="#333" stroke-width="0.7"/>
<line x1="19.5" y1="328.5" x2="21.2" y2="328.5" stroke="#333" stroke-width="0.7"/>
<line x1="19.5" y1="326" x2="21.2" y2="326" stroke="#333" stroke-width="0.7"/>
<line x1="19.5" y1="323.5" x2="21.2" y2="323.5" stroke="#333" stroke-width="0.7"/>
<line x1="19.5" y1="321" x2="21.2" y2="321" stroke="#333" stroke-width="0.7"/>
<line x1="19.5" y1="318.5" x2="21.2" y2="318.5" stroke="#333" stroke-width="0.7"/>
<line x1="19.5" y1="316" x2="21.2" y2="316" stroke="#333" stroke-width="0.7"/>
<line x1="19.5" y1="313.5" x2="21.2" y2="313.5" stroke="#333" stroke-width="0.7"/>
<line x1="19.5" y1="311" x2="21.2" y2="311" stroke="#333" stroke-width="0.7"/>
<line x1="19.5" y1="308.5" x2="21.2" y2="308.5" stroke="#333" stroke-width="0.7"/>
<line x1="19.5" y1="306" x2="21.2" y2="306" stroke="#333" stroke-width="0.7"/>
<line x1="19.5" y1="303.5" x2="21.2" y2="303.5" stroke="#333" stroke-width="0.7"/>
<line x1="19.5" y1="301" x2="21.2" y2="301" stroke="#333" stroke-width="0.7"/>
<line x1="19.5" y1="298.5" x2="21.2" y2="298.5" stroke="#333" stroke-width="0.7"/>
<line x1="19.5" y1="296" x2="21.2" y2="296" stroke="#333" stroke-width="0.7"/>
<line x1="19.5" y1="293.5" x2="21.2" y2="293.5" stroke="#333" stroke-width="0.7"/>
<line x1="19.5" y1="291" x2="21.2" y2="291" stroke="#333" stroke-width="0.7"/>
<line x1="22.7" y1="358.5" x2="22.7" y2="360.7" stroke="#222" stroke-width="0.7"/>
<line x1="24" y1="358.5" x2="24" y2="360.7" stroke="#222" stroke-width="0.7"/>
<line x1="25.3" y1="358.5" x2="25.3" y2="360.7" stroke="#222" stroke-width="0.7"/>
<line x1="26.6" y1="358.5" x2="26.6" y2="360.7" stroke="#222" stroke-width="0.7"/>
<line x1="27.9" y1="358.5" x2="27.9" y2="360.7" stroke="#222" stroke-width="0.7"/>
<line x1="29.2" y1="358.5" x2="29.2" y2="360.7" stroke="#222" stroke-width="0.7"/>
<line x1="30.5" y1="358.5" x2="30.5" y2="360.7" stroke="#222" stroke-width="0.7"/>
<line x1="35.48" y1="358.5" x2="35.48" y2="360.7" stroke="#222" stroke-width="0.7"/>
<line x1="40.19" y1="358.5" x2="40.19" y2="360.7" stroke="#222" stroke-width="0.7"/>
<line x1="42.94" y1="358.5" x2="42.94" y2="360.7" stroke="#222" stroke-width="0.7"/>
<line x1="44.9" y1="358.5" x2="44.9" y2="360.7" stroke="#222" stroke-width="0.7"/>
<line x1="46.41" y1="358.5" x2="46.41" y2="360.7" stroke="#222" stroke-width="0.7"/>
<line x1="47.65" y1="358.5" x2="47.65" y2="360.7" stroke="#222" stroke-width="0.7"/>
<line x1="48.7" y1="358.5" x2="48.7" y2="360.7" stroke="#222" stroke-width="0.7"/>
<line x1="49.6" y1="358.5" x2="49.6" y2="360.7" stroke="#222" stroke-width="0.7"/>
<line x1="50.4" y1="358.5" x2="50.4" y2="360.7" stroke="#222" stroke-width="0.7"/>
<line x1="51.12" y1="358.5" x2="51.12" y2="360.7" stroke="#222" stroke-width="0.7"/>
<line x1="55.83" y1="358.5" x2="55.83" y2="360.7" stroke="#222" stroke-width="0.7"/>
<line x1="58.58" y1="358.5" x2="58.58" y2="360.7" stroke="#222" stroke-width="0.7"/>
<line x1="60.54" y1="358.5" x2="60.54" y2="360.7" stroke="#222" stroke-width="0.7"/>
<line x1="62.05" y1="358.5" x2="62.05" y2="360.7" stroke="#222" stroke-width="0.7"/>
<line x1="63.29" y1="358.5" x2="63.29" y2="360.7" stroke="#222" stroke-width="0.7"/>
<line x1="64.34" y1="358.5" x2="64.34" y2="360.7" stroke="#222" stroke-width="0.7"/>
<line x1="65.24" y1="358.5" x2="65.24" y2="360.7" stroke="#222" stroke-width="0.7"/>
<line x1="66.04" y1="358.5" x2="66.04" y2="360.7" stroke="#222" stroke-width="0.7"/>
<line x1="66.76" y1="358.5" x2="66.76" y2="360.7" stroke="#222" stroke-width="0.7"/>
<line x1="71.37" y1="358.5" x2="71.37" y2="360.7" stroke="#222" stroke-width="0.7"/>
<line x1="74.06" y1="358.5" x2="74.06" y2="360.7" stroke="#222" stroke-width="0.7"/>
<line x1="75.97" y1="358.5" x2="75.97" y2="360.7" stroke="#222" stroke-width="0.7"/>
<line x1="77.45" y1="358.5" x2="77.45" y2="360.7" stroke="#222" stroke-width="0.7"/>
<line x1="78.67" y1="358.5" x2="78.67" y2="360.7" stroke="#222" stroke-width="0.7"/>
<line x1="79.69" y1="358.5" x2="79.69" y2="360.7" stroke="#222" stroke-width="0.7"/>
<line x1="80.58" y1="358.5" x2="80.58" y2="360.7" stroke="#222" stroke-width="0.7"/>
<line x1="81.36" y1="358.5" x2="81.36" y2="360.7" stroke="#222" stroke-width="0.7"/>
<line x1="82.06" y1="358.5" x2="82.06" y2="360.7" stroke="#222" stroke-width="0.7"/>
<path d="M21.7,358.1 L21.3,325.2 L21.57,334.69 L21.83,344.17 L22.1,353 L23.07,354.2 L24.03,355.13 L25,355 L26.27,354.93 L27.53,354.76 L28.8,353.5 L30.43,352.39 L32.07,352.9 L33.7,352.7 L34.97,353 L36.23,351.97 L37.5,351.2 L38.13,351.59 L38.77,349.84 L39.4,350.2 L40.03,351.08 L40.67,351.61 L41.3,353 L42.6,354.08 L43.9,355.13 L45.2,356 L46.47,354.66 L47.73,354.56 L49,354.6 L50.6,353.67 L52.2,354.28 L53.8,353 L54.77,351.24 L55.73,347.92 L56.7,346.3 L57.67,343.97 L58.63,339.92 L59.6,337.7 L60.37,333.41 L61.13,328.03 L61.9,324.2 L62.43,319.8 L62.97,317.87 L63.5,313.7 L64.13,307.71 L64.77,302.25 L65.4,297.3 L65.77,297 L66.13,295.64 L66.5,293.8 L66.9,297.82 L67.3,303.43 L67.7,307 L68.2,307.67 L68.7,308.52 L69.2,308.8 L69.87,312.77 L70.53,318.59 L71.2,322.3 L71.8,327.78 L72.4,333.41 L73,337.7 L73.67,343.51 L74.33,347.54 L75,353 L75.67,354.08 L76.33,355.07 L77,357 L78,356.7 L79,356.88 L80,358 L88.7,358.1 Z" fill="#8caac6" stroke="#2a6399" stroke-width="1.05" stroke-linejoin="round"/>
<line x1="21.7" y1="358" x2="88.7" y2="358" stroke="#2a6399" stroke-width="0.9"/>
<text font-size="6.8" text-anchor="end" fill="#111" transform="translate(15 298.7) scale(1.08 1)" stroke="#111" stroke-width="0.15">50</text>
<text font-size="6.8" text-anchor="end" fill="#111" transform="translate(15 311.2) scale(1.08 1)" stroke="#111" stroke-width="0.15">40</text>
<text font-size="6.8" text-anchor="end" fill="#111" transform="translate(15 323.7) scale(1.08 1)" stroke="#111" stroke-width="0.15">30</text>
<text font-size="6.8" text-anchor="end" fill="#111" transform="translate(15 336.2) scale(1.08 1)" stroke="#111" stroke-width="0.15">20</text>
<text font-size="6.8" text-anchor="end" fill="#111" transform="translate(15 348.7) scale(1.08 1)" stroke="#111" stroke-width="0.15">10</text>
<text font-size="6.8" text-anchor="end" fill="#111" transform="translate(15 360.9) scale(1.08 1)" stroke="#111" stroke-width="0.15">0</text>
<rect x="95" y="289.2" width="68.3" height="69.3" fill="none" stroke="#333" stroke-width="0.9"/>
<line x1="92" y1="296.3" x2="95" y2="296.3" stroke="#222" stroke-width="0.8"/>
<line x1="92" y1="308.8" x2="95" y2="308.8" stroke="#222" stroke-width="0.8"/>
<line x1="92" y1="321.3" x2="95" y2="321.3" stroke="#222" stroke-width="0.8"/>
<line x1="92" y1="333.8" x2="95" y2="333.8" stroke="#222" stroke-width="0.8"/>
<line x1="92" y1="346.3" x2="95" y2="346.3" stroke="#222" stroke-width="0.8"/>
<line x1="92" y1="358.5" x2="95" y2="358.5" stroke="#222" stroke-width="0.8"/>
<line x1="93.3" y1="358.5" x2="95" y2="358.5" stroke="#333" stroke-width="0.7"/>
<line x1="93.3" y1="356" x2="95" y2="356" stroke="#333" stroke-width="0.7"/>
<line x1="93.3" y1="353.5" x2="95" y2="353.5" stroke="#333" stroke-width="0.7"/>
<line x1="93.3" y1="351" x2="95" y2="351" stroke="#333" stroke-width="0.7"/>
<line x1="93.3" y1="348.5" x2="95" y2="348.5" stroke="#333" stroke-width="0.7"/>
<line x1="93.3" y1="346" x2="95" y2="346" stroke="#333" stroke-width="0.7"/>
<line x1="93.3" y1="343.5" x2="95" y2="343.5" stroke="#333" stroke-width="0.7"/>
<line x1="93.3" y1="341" x2="95" y2="341" stroke="#333" stroke-width="0.7"/>
<line x1="93.3" y1="338.5" x2="95" y2="338.5" stroke="#333" stroke-width="0.7"/>
<line x1="93.3" y1="336" x2="95" y2="336" stroke="#333" stroke-width="0.7"/>
<line x1="93.3" y1="333.5" x2="95" y2="333.5" stroke="#333" stroke-width="0.7"/>
<line x1="93.3" y1="331" x2="95" y2="331" stroke="#333" stroke-width="0.7"/>
<line x1="93.3" y1="328.5" x2="95" y2="328.5" stroke="#333" stroke-width="0.7"/>
<line x1="93.3" y1="326" x2="95" y2="326" stroke="#333" stroke-width="0.7"/>
<line x1="93.3" y1="323.5" x2="95" y2="323.5" stroke="#333" stroke-width="0.7"/>
<line x1="93.3" y1="321" x2="95" y2="321" stroke="#333" stroke-width="0.7"/>
<line x1="93.3" y1="318.5" x2="95" y2="318.5" stroke="#333" stroke-width="0.7"/>
<line x1="93.3" y1="316" x2="95" y2="316" stroke="#333" stroke-width="0.7"/>
<line x1="93.3" y1="313.5" x2="95" y2="313.5" stroke="#333" stroke-width="0.7"/>
<line x1="93.3" y1="311" x2="95" y2="311" stroke="#333" stroke-width="0.7"/>
<line x1="93.3" y1="308.5" x2="95" y2="308.5" stroke="#333" stroke-width="0.7"/>
<line x1="93.3" y1="306" x2="95" y2="306" stroke="#333" stroke-width="0.7"/>
<line x1="93.3" y1="303.5" x2="95" y2="303.5" stroke="#333" stroke-width="0.7"/>
<line x1="93.3" y1="301" x2="95" y2="301" stroke="#333" stroke-width="0.7"/>
<line x1="93.3" y1="298.5" x2="95" y2="298.5" stroke="#333" stroke-width="0.7"/>
<line x1="93.3" y1="296" x2="95" y2="296" stroke="#333" stroke-width="0.7"/>
<line x1="93.3" y1="293.5" x2="95" y2="293.5" stroke="#333" stroke-width="0.7"/>
<line x1="93.3" y1="291" x2="95" y2="291" stroke="#333" stroke-width="0.7"/>
<line x1="96.5" y1="358.5" x2="96.5" y2="360.7" stroke="#222" stroke-width="0.7"/>
<line x1="97.8" y1="358.5" x2="97.8" y2="360.7" stroke="#222" stroke-width="0.7"/>
<line x1="99.1" y1="358.5" x2="99.1" y2="360.7" stroke="#222" stroke-width="0.7"/>
<line x1="100.4" y1="358.5" x2="100.4" y2="360.7" stroke="#222" stroke-width="0.7"/>
<line x1="101.7" y1="358.5" x2="101.7" y2="360.7" stroke="#222" stroke-width="0.7"/>
<line x1="103" y1="358.5" x2="103" y2="360.7" stroke="#222" stroke-width="0.7"/>
<line x1="104.3" y1="358.5" x2="104.3" y2="360.7" stroke="#222" stroke-width="0.7"/>
<line x1="109.34" y1="358.5" x2="109.34" y2="360.7" stroke="#222" stroke-width="0.7"/>
<line x1="114.07" y1="358.5" x2="114.07" y2="360.7" stroke="#222" stroke-width="0.7"/>
<line x1="116.84" y1="358.5" x2="116.84" y2="360.7" stroke="#222" stroke-width="0.7"/>
<line x1="118.8" y1="358.5" x2="118.8" y2="360.7" stroke="#222" stroke-width="0.7"/>
<line x1="120.32" y1="358.5" x2="120.32" y2="360.7" stroke="#222" stroke-width="0.7"/>
<line x1="121.57" y1="358.5" x2="121.57" y2="360.7" stroke="#222" stroke-width="0.7"/>
<line x1="122.62" y1="358.5" x2="122.62" y2="360.7" stroke="#222" stroke-width="0.7"/>
<line x1="123.53" y1="358.5" x2="123.53" y2="360.7" stroke="#222" stroke-width="0.7"/>
<line x1="124.33" y1="358.5" x2="124.33" y2="360.7" stroke="#222" stroke-width="0.7"/>
<line x1="125.05" y1="358.5" x2="125.05" y2="360.7" stroke="#222" stroke-width="0.7"/>
<line x1="129.78" y1="358.5" x2="129.78" y2="360.7" stroke="#222" stroke-width="0.7"/>
<line x1="132.55" y1="358.5" x2="132.55" y2="360.7" stroke="#222" stroke-width="0.7"/>
<line x1="134.51" y1="358.5" x2="134.51" y2="360.7" stroke="#222" stroke-width="0.7"/>
<line x1="136.03" y1="358.5" x2="136.03" y2="360.7" stroke="#222" stroke-width="0.7"/>
<line x1="137.28" y1="358.5" x2="137.28" y2="360.7" stroke="#222" stroke-width="0.7"/>
<line x1="138.33" y1="358.5" x2="138.33" y2="360.7" stroke="#222" stroke-width="0.7"/>
<line x1="139.24" y1="358.5" x2="139.24" y2="360.7" stroke="#222" stroke-width="0.7"/>
<line x1="140.04" y1="358.5" x2="140.04" y2="360.7" stroke="#222" stroke-width="0.7"/>
<line x1="140.76" y1="358.5" x2="140.76" y2="360.7" stroke="#222" stroke-width="0.7"/>
<line x1="145.39" y1="358.5" x2="145.39" y2="360.7" stroke="#222" stroke-width="0.7"/>
<line x1="148.09" y1="358.5" x2="148.09" y2="360.7" stroke="#222" stroke-width="0.7"/>
<line x1="150.01" y1="358.5" x2="150.01" y2="360.7" stroke="#222" stroke-width="0.7"/>
<line x1="151.5" y1="358.5" x2="151.5" y2="360.7" stroke="#222" stroke-width="0.7"/>
<line x1="152.72" y1="358.5" x2="152.72" y2="360.7" stroke="#222" stroke-width="0.7"/>
<line x1="153.75" y1="358.5" x2="153.75" y2="360.7" stroke="#222" stroke-width="0.7"/>
<line x1="154.64" y1="358.5" x2="154.64" y2="360.7" stroke="#222" stroke-width="0.7"/>
<line x1="155.43" y1="358.5" x2="155.43" y2="360.7" stroke="#222" stroke-width="0.7"/>
<line x1="156.13" y1="358.5" x2="156.13" y2="360.7" stroke="#222" stroke-width="0.7"/>
<path d="M95.5,358.1 L95.3,334.8 L95.47,343.03 L95.63,350.78 L95.8,357.9 L97.33,357.57 L98.87,356.87 L100.4,357 L101.37,354.17 L102.33,353.43 L103.3,351.2 L104.13,347.91 L104.97,345.2 L105.8,341.5 L106.53,337.11 L107.27,333.65 L108,329 L108.53,327.66 L109.07,327.68 L109.6,326.2 L110.07,324.98 L110.53,322.78 L111,321.3 L111.3,322.34 L111.6,323.56 L111.9,324.2 L112.43,321.41 L112.97,319.83 L113.5,317.5 L113.93,319.32 L114.37,319.61 L114.8,321.3 L115.43,320.91 L116.07,319.77 L116.7,318.5 L117.37,314.62 L118.03,309.2 L118.7,305 L119.13,303 L119.57,303.01 L120,301.2 L120.5,302.68 L121,302.97 L121.5,304 L122,299.77 L122.5,296.45 L123,293.5 L123.47,295.64 L123.93,296.92 L124.4,299.2 L124.87,298.41 L125.33,296.16 L125.8,294.4 L126.3,297.39 L126.8,301.75 L127.3,305 L127.8,306.02 L128.3,308.31 L128.8,308.8 L129.47,312.77 L130.13,315.29 L130.8,318.5 L131.23,323.26 L131.67,327.86 L132.1,332 L132.57,335.08 L133.03,337.92 L133.5,339.6 L133.87,339.08 L134.23,340.02 L134.6,340.6 L135.07,343.65 L135.53,345.98 L136,349.2 L136.93,350.96 L137.87,351.66 L138.8,354 L140.1,355.98 L141.4,356.65 L142.7,357.9 L162.8,358.1 Z" fill="#8caac6" stroke="#2a6399" stroke-width="1.05" stroke-linejoin="round"/>
<line x1="95.5" y1="358" x2="162.8" y2="358" stroke="#2a6399" stroke-width="0.9"/>
<rect x="182.7" y="289.6" width="68.1" height="68.9" fill="none" stroke="#333" stroke-width="0.9"/>
<line x1="179.7" y1="304.4" x2="182.7" y2="304.4" stroke="#222" stroke-width="0.8"/>
<line x1="179.7" y1="322.3" x2="182.7" y2="322.3" stroke="#222" stroke-width="0.8"/>
<line x1="179.7" y1="340.2" x2="182.7" y2="340.2" stroke="#222" stroke-width="0.8"/>
<line x1="179.7" y1="358.5" x2="182.7" y2="358.5" stroke="#222" stroke-width="0.8"/>
<line x1="181" y1="358.5" x2="182.7" y2="358.5" stroke="#333" stroke-width="0.7"/>
<line x1="181" y1="354.92" x2="182.7" y2="354.92" stroke="#333" stroke-width="0.7"/>
<line x1="181" y1="351.34" x2="182.7" y2="351.34" stroke="#333" stroke-width="0.7"/>
<line x1="181" y1="347.76" x2="182.7" y2="347.76" stroke="#333" stroke-width="0.7"/>
<line x1="181" y1="344.18" x2="182.7" y2="344.18" stroke="#333" stroke-width="0.7"/>
<line x1="181" y1="340.6" x2="182.7" y2="340.6" stroke="#333" stroke-width="0.7"/>
<line x1="181" y1="337.02" x2="182.7" y2="337.02" stroke="#333" stroke-width="0.7"/>
<line x1="181" y1="333.44" x2="182.7" y2="333.44" stroke="#333" stroke-width="0.7"/>
<line x1="181" y1="329.86" x2="182.7" y2="329.86" stroke="#333" stroke-width="0.7"/>
<line x1="181" y1="326.28" x2="182.7" y2="326.28" stroke="#333" stroke-width="0.7"/>
<line x1="181" y1="322.7" x2="182.7" y2="322.7" stroke="#333" stroke-width="0.7"/>
<line x1="181" y1="319.12" x2="182.7" y2="319.12" stroke="#333" stroke-width="0.7"/>
<line x1="181" y1="315.54" x2="182.7" y2="315.54" stroke="#333" stroke-width="0.7"/>
<line x1="181" y1="311.96" x2="182.7" y2="311.96" stroke="#333" stroke-width="0.7"/>
<line x1="181" y1="308.38" x2="182.7" y2="308.38" stroke="#333" stroke-width="0.7"/>
<line x1="181" y1="304.8" x2="182.7" y2="304.8" stroke="#333" stroke-width="0.7"/>
<line x1="181" y1="301.22" x2="182.7" y2="301.22" stroke="#333" stroke-width="0.7"/>
<line x1="181" y1="297.64" x2="182.7" y2="297.64" stroke="#333" stroke-width="0.7"/>
<line x1="181" y1="294.06" x2="182.7" y2="294.06" stroke="#333" stroke-width="0.7"/>
<line x1="184.2" y1="358.5" x2="184.2" y2="360.7" stroke="#222" stroke-width="0.7"/>
<line x1="185.5" y1="358.5" x2="185.5" y2="360.7" stroke="#222" stroke-width="0.7"/>
<line x1="186.8" y1="358.5" x2="186.8" y2="360.7" stroke="#222" stroke-width="0.7"/>
<line x1="188.1" y1="358.5" x2="188.1" y2="360.7" stroke="#222" stroke-width="0.7"/>
<line x1="189.4" y1="358.5" x2="189.4" y2="360.7" stroke="#222" stroke-width="0.7"/>
<line x1="190.7" y1="358.5" x2="190.7" y2="360.7" stroke="#222" stroke-width="0.7"/>
<line x1="192" y1="358.5" x2="192" y2="360.7" stroke="#222" stroke-width="0.7"/>
<line x1="197" y1="358.5" x2="197" y2="360.7" stroke="#222" stroke-width="0.7"/>
<line x1="201.72" y1="358.5" x2="201.72" y2="360.7" stroke="#222" stroke-width="0.7"/>
<line x1="204.47" y1="358.5" x2="204.47" y2="360.7" stroke="#222" stroke-width="0.7"/>
<line x1="206.43" y1="358.5" x2="206.43" y2="360.7" stroke="#222" stroke-width="0.7"/>
<line x1="207.95" y1="358.5" x2="207.95" y2="360.7" stroke="#222" stroke-width="0.7"/>
<line x1="209.19" y1="358.5" x2="209.19" y2="360.7" stroke="#222" stroke-width="0.7"/>
<line x1="210.24" y1="358.5" x2="210.24" y2="360.7" stroke="#222" stroke-width="0.7"/>
<line x1="211.15" y1="358.5" x2="211.15" y2="360.7" stroke="#222" stroke-width="0.7"/>
<line x1="211.95" y1="358.5" x2="211.95" y2="360.7" stroke="#222" stroke-width="0.7"/>
<line x1="212.66" y1="358.5" x2="212.66" y2="360.7" stroke="#222" stroke-width="0.7"/>
<line x1="217.38" y1="358.5" x2="217.38" y2="360.7" stroke="#222" stroke-width="0.7"/>
<line x1="220.14" y1="358.5" x2="220.14" y2="360.7" stroke="#222" stroke-width="0.7"/>
<line x1="222.09" y1="358.5" x2="222.09" y2="360.7" stroke="#222" stroke-width="0.7"/>
<line x1="223.61" y1="358.5" x2="223.61" y2="360.7" stroke="#222" stroke-width="0.7"/>
<line x1="224.85" y1="358.5" x2="224.85" y2="360.7" stroke="#222" stroke-width="0.7"/>
<line x1="225.9" y1="358.5" x2="225.9" y2="360.7" stroke="#222" stroke-width="0.7"/>
<line x1="226.81" y1="358.5" x2="226.81" y2="360.7" stroke="#222" stroke-width="0.7"/>
<line x1="227.61" y1="358.5" x2="227.61" y2="360.7" stroke="#222" stroke-width="0.7"/>
<line x1="228.33" y1="358.5" x2="228.33" y2="360.7" stroke="#222" stroke-width="0.7"/>
<line x1="232.94" y1="358.5" x2="232.94" y2="360.7" stroke="#222" stroke-width="0.7"/>
<line x1="235.64" y1="358.5" x2="235.64" y2="360.7" stroke="#222" stroke-width="0.7"/>
<line x1="237.55" y1="358.5" x2="237.55" y2="360.7" stroke="#222" stroke-width="0.7"/>
<line x1="239.04" y1="358.5" x2="239.04" y2="360.7" stroke="#222" stroke-width="0.7"/>
<line x1="240.25" y1="358.5" x2="240.25" y2="360.7" stroke="#222" stroke-width="0.7"/>
<line x1="241.28" y1="358.5" x2="241.28" y2="360.7" stroke="#222" stroke-width="0.7"/>
<line x1="242.16" y1="358.5" x2="242.16" y2="360.7" stroke="#222" stroke-width="0.7"/>
<line x1="242.95" y1="358.5" x2="242.95" y2="360.7" stroke="#222" stroke-width="0.7"/>
<line x1="243.65" y1="358.5" x2="243.65" y2="360.7" stroke="#222" stroke-width="0.7"/>
<path d="M183.2,358.1 L182.9,325.2 L183.33,322.65 L183.77,320.1 L184.2,318.5 L184.67,320.37 L185.13,320.93 L185.6,323.3 L186.1,320.46 L186.6,317.26 L187.1,314.6 L187.57,315.4 L188.03,317.81 L188.5,319.4 L189,316.67 L189.5,315.48 L190,313.7 L190.5,313.86 L191,314.83 L191.5,316.5 L191.97,312.2 L192.43,308.76 L192.9,304 L193.33,302.99 L193.77,302.84 L194.2,303 L194.73,301.33 L195.27,300.01 L195.8,297.3 L196.1,298.74 L196.4,299.71 L196.7,301.2 L197.13,299.32 L197.57,294.92 L198,293 L198.4,297.65 L198.8,300.62 L199.2,305 L199.67,303.09 L200.13,301.78 L200.6,301.2 L201.03,308.52 L201.47,317.1 L201.9,324.2 L202.43,327.49 L202.97,332.08 L203.5,335.8 L204,338.62 L204.5,340.7 L205,343.5 L205.43,344.85 L205.87,345.25 L206.3,347.3 L206.77,348.11 L207.23,349.97 L207.7,352.1 L208.53,352.72 L209.37,352.57 L210.2,353 L210.83,352.07 L211.47,351.95 L212.1,351.2 L212.73,350.45 L213.37,349.51 L214,349.2 L214.67,349.1 L215.33,348.29 L216,347.3 L216.63,344.91 L217.27,343.57 L217.9,341.5 L218.53,339.65 L219.17,338.38 L219.8,335.8 L220.27,334.95 L220.73,332.88 L221.2,332 L221.7,330.93 L222.2,327.45 L222.7,326.2 L223.33,325.09 L223.97,324.73 L224.6,323.3 L225.23,322.01 L225.87,321.95 L226.5,321.3 L227.03,320.47 L227.57,321.6 L228.1,321.3 L228.53,323.71 L228.97,325.3 L229.4,327.1 L229.87,327.14 L230.33,325.5 L230.8,325.2 L231.3,329.08 L231.8,332.44 L232.3,335.8 L233.07,339.14 L233.83,342.12 L234.6,345.4 L235.23,349.21 L235.87,352.6 L236.5,355 L237,355.92 L237.5,357.23 L238,357.9 L250.3,358.1 Z" fill="#8caac6" stroke="#2a6399" stroke-width="1.05" stroke-linejoin="round"/>
<line x1="183.2" y1="358" x2="250.3" y2="358" stroke="#2a6399" stroke-width="0.9"/>
<text font-size="6.8" text-anchor="end" fill="#111" transform="translate(176.5 306.8) scale(1.08 1)" stroke="#111" stroke-width="0.15">30</text>
<text font-size="6.8" text-anchor="end" fill="#111" transform="translate(176.5 324.7) scale(1.08 1)" stroke="#111" stroke-width="0.15">20</text>
<text font-size="6.8" text-anchor="end" fill="#111" transform="translate(176.5 342.6) scale(1.08 1)" stroke="#111" stroke-width="0.15">10</text>
<text font-size="6.8" text-anchor="end" fill="#111" transform="translate(176.5 360.9) scale(1.08 1)" stroke="#111" stroke-width="0.15">0</text>
<rect x="256.5" y="289.6" width="67.9" height="68.9" fill="none" stroke="#333" stroke-width="0.9"/>
<line x1="253.5" y1="304.4" x2="256.5" y2="304.4" stroke="#222" stroke-width="0.8"/>
<line x1="253.5" y1="322.3" x2="256.5" y2="322.3" stroke="#222" stroke-width="0.8"/>
<line x1="253.5" y1="340.2" x2="256.5" y2="340.2" stroke="#222" stroke-width="0.8"/>
<line x1="253.5" y1="358.5" x2="256.5" y2="358.5" stroke="#222" stroke-width="0.8"/>
<line x1="254.8" y1="358.5" x2="256.5" y2="358.5" stroke="#333" stroke-width="0.7"/>
<line x1="254.8" y1="354.92" x2="256.5" y2="354.92" stroke="#333" stroke-width="0.7"/>
<line x1="254.8" y1="351.34" x2="256.5" y2="351.34" stroke="#333" stroke-width="0.7"/>
<line x1="254.8" y1="347.76" x2="256.5" y2="347.76" stroke="#333" stroke-width="0.7"/>
<line x1="254.8" y1="344.18" x2="256.5" y2="344.18" stroke="#333" stroke-width="0.7"/>
<line x1="254.8" y1="340.6" x2="256.5" y2="340.6" stroke="#333" stroke-width="0.7"/>
<line x1="254.8" y1="337.02" x2="256.5" y2="337.02" stroke="#333" stroke-width="0.7"/>
<line x1="254.8" y1="333.44" x2="256.5" y2="333.44" stroke="#333" stroke-width="0.7"/>
<line x1="254.8" y1="329.86" x2="256.5" y2="329.86" stroke="#333" stroke-width="0.7"/>
<line x1="254.8" y1="326.28" x2="256.5" y2="326.28" stroke="#333" stroke-width="0.7"/>
<line x1="254.8" y1="322.7" x2="256.5" y2="322.7" stroke="#333" stroke-width="0.7"/>
<line x1="254.8" y1="319.12" x2="256.5" y2="319.12" stroke="#333" stroke-width="0.7"/>
<line x1="254.8" y1="315.54" x2="256.5" y2="315.54" stroke="#333" stroke-width="0.7"/>
<line x1="254.8" y1="311.96" x2="256.5" y2="311.96" stroke="#333" stroke-width="0.7"/>
<line x1="254.8" y1="308.38" x2="256.5" y2="308.38" stroke="#333" stroke-width="0.7"/>
<line x1="254.8" y1="304.8" x2="256.5" y2="304.8" stroke="#333" stroke-width="0.7"/>
<line x1="254.8" y1="301.22" x2="256.5" y2="301.22" stroke="#333" stroke-width="0.7"/>
<line x1="254.8" y1="297.64" x2="256.5" y2="297.64" stroke="#333" stroke-width="0.7"/>
<line x1="254.8" y1="294.06" x2="256.5" y2="294.06" stroke="#333" stroke-width="0.7"/>
<line x1="258" y1="358.5" x2="258" y2="360.7" stroke="#222" stroke-width="0.7"/>
<line x1="259.3" y1="358.5" x2="259.3" y2="360.7" stroke="#222" stroke-width="0.7"/>
<line x1="260.6" y1="358.5" x2="260.6" y2="360.7" stroke="#222" stroke-width="0.7"/>
<line x1="261.9" y1="358.5" x2="261.9" y2="360.7" stroke="#222" stroke-width="0.7"/>
<line x1="263.2" y1="358.5" x2="263.2" y2="360.7" stroke="#222" stroke-width="0.7"/>
<line x1="264.5" y1="358.5" x2="264.5" y2="360.7" stroke="#222" stroke-width="0.7"/>
<line x1="265.8" y1="358.5" x2="265.8" y2="360.7" stroke="#222" stroke-width="0.7"/>
<line x1="270.76" y1="358.5" x2="270.76" y2="360.7" stroke="#222" stroke-width="0.7"/>
<line x1="275.46" y1="358.5" x2="275.46" y2="360.7" stroke="#222" stroke-width="0.7"/>
<line x1="278.21" y1="358.5" x2="278.21" y2="360.7" stroke="#222" stroke-width="0.7"/>
<line x1="280.16" y1="358.5" x2="280.16" y2="360.7" stroke="#222" stroke-width="0.7"/>
<line x1="281.67" y1="358.5" x2="281.67" y2="360.7" stroke="#222" stroke-width="0.7"/>
<line x1="282.91" y1="358.5" x2="282.91" y2="360.7" stroke="#222" stroke-width="0.7"/>
<line x1="283.96" y1="358.5" x2="283.96" y2="360.7" stroke="#222" stroke-width="0.7"/>
<line x1="284.86" y1="358.5" x2="284.86" y2="360.7" stroke="#222" stroke-width="0.7"/>
<line x1="285.66" y1="358.5" x2="285.66" y2="360.7" stroke="#222" stroke-width="0.7"/>
<line x1="286.38" y1="358.5" x2="286.38" y2="360.7" stroke="#222" stroke-width="0.7"/>
<line x1="291.08" y1="358.5" x2="291.08" y2="360.7" stroke="#222" stroke-width="0.7"/>
<line x1="293.83" y1="358.5" x2="293.83" y2="360.7" stroke="#222" stroke-width="0.7"/>
<line x1="295.78" y1="358.5" x2="295.78" y2="360.7" stroke="#222" stroke-width="0.7"/>
<line x1="297.29" y1="358.5" x2="297.29" y2="360.7" stroke="#222" stroke-width="0.7"/>
<line x1="298.53" y1="358.5" x2="298.53" y2="360.7" stroke="#222" stroke-width="0.7"/>
<line x1="299.57" y1="358.5" x2="299.57" y2="360.7" stroke="#222" stroke-width="0.7"/>
<line x1="300.48" y1="358.5" x2="300.48" y2="360.7" stroke="#222" stroke-width="0.7"/>
<line x1="301.28" y1="358.5" x2="301.28" y2="360.7" stroke="#222" stroke-width="0.7"/>
<line x1="301.99" y1="358.5" x2="301.99" y2="360.7" stroke="#222" stroke-width="0.7"/>
<line x1="306.59" y1="358.5" x2="306.59" y2="360.7" stroke="#222" stroke-width="0.7"/>
<line x1="309.28" y1="358.5" x2="309.28" y2="360.7" stroke="#222" stroke-width="0.7"/>
<line x1="311.19" y1="358.5" x2="311.19" y2="360.7" stroke="#222" stroke-width="0.7"/>
<line x1="312.67" y1="358.5" x2="312.67" y2="360.7" stroke="#222" stroke-width="0.7"/>
<line x1="313.88" y1="358.5" x2="313.88" y2="360.7" stroke="#222" stroke-width="0.7"/>
<line x1="314.9" y1="358.5" x2="314.9" y2="360.7" stroke="#222" stroke-width="0.7"/>
<line x1="315.79" y1="358.5" x2="315.79" y2="360.7" stroke="#222" stroke-width="0.7"/>
<line x1="316.57" y1="358.5" x2="316.57" y2="360.7" stroke="#222" stroke-width="0.7"/>
<line x1="317.27" y1="358.5" x2="317.27" y2="360.7" stroke="#222" stroke-width="0.7"/>
<path d="M257,358.1 L257,355 L257.8,355.47 L258.6,357.77 L259.4,357.9 L260.03,355.59 L260.67,355 L261.3,353 L261.97,348.42 L262.63,344.88 L263.3,341.5 L263.8,337.9 L264.3,331.98 L264.8,328 L265.27,323.16 L265.73,317.73 L266.2,312.7 L266.5,308.78 L266.8,305.02 L267.1,301.2 L267.43,299.68 L267.77,299.86 L268.1,298.3 L268.4,297.23 L268.7,297.15 L269,297.3 L269.33,295.17 L269.67,294.35 L270,293.5 L270.33,295.23 L270.67,298.02 L271,299.2 L271.3,302.85 L271.6,306.24 L271.9,310.8 L272.43,314.2 L272.97,319.35 L273.5,322.3 L273.93,326.31 L274.37,332.12 L274.8,336.7 L275.43,338.75 L276.07,341.52 L276.7,343.5 L277.37,344.48 L278.03,346.38 L278.7,347.3 L279.63,346.66 L280.57,346.3 L281.5,345.4 L282.17,346.42 L282.83,346.15 L283.5,346.3 L284.13,345.36 L284.77,344.92 L285.4,345.4 L286.03,346.84 L286.67,346.65 L287.3,347.3 L287.93,346.62 L288.57,347.84 L289.2,346.9 L289.87,347.81 L290.53,348.85 L291.2,349.2 L292.13,350.85 L293.07,350.75 L294,352.1 L294.97,352.48 L295.93,354.05 L296.9,354 L297.87,354.18 L298.83,356.14 L299.8,356.5 L300.77,356.24 L301.73,357.78 L302.7,357.9 L323.9,358.1 Z" fill="#8caac6" stroke="#2a6399" stroke-width="1.05" stroke-linejoin="round"/>
<line x1="257" y1="358" x2="323.9" y2="358" stroke="#2a6399" stroke-width="0.9"/>
<line x1="47.7" y1="227.9" x2="83.7" y2="227.9" stroke="#555" stroke-width="0.9"/>
<line x1="47.7" y1="226.4" x2="47.7" y2="229.4" stroke="#555" stroke-width="0.8"/>
<line x1="83.7" y1="226.4" x2="83.7" y2="229.4" stroke="#555" stroke-width="0.8"/>
<text font-size="6.6" text-anchor="middle" fill="#111" transform="translate(82.7 223) scale(1.08 1)" stroke="#111" stroke-width="0.15">80</text>
<line x1="118" y1="225" x2="154.6" y2="225" stroke="#555" stroke-width="0.9"/>
<line x1="118" y1="223.5" x2="118" y2="226.5" stroke="#555" stroke-width="0.8"/>
<line x1="154.6" y1="223.5" x2="154.6" y2="226.5" stroke="#555" stroke-width="0.8"/>
<text font-size="6.6" text-anchor="middle" fill="#111" transform="translate(156.7 222.4) scale(1.08 1)" stroke="#111" stroke-width="0.15">53</text>
<line x1="209" y1="227.7" x2="244.8" y2="227.7" stroke="#555" stroke-width="0.9"/>
<line x1="209" y1="226.2" x2="209" y2="229.2" stroke="#555" stroke-width="0.8"/>
<line x1="244.8" y1="226.2" x2="244.8" y2="229.2" stroke="#555" stroke-width="0.8"/>
<text font-size="6.6" text-anchor="middle" fill="#111" transform="translate(243.8 222.8) scale(1.08 1)" stroke="#111" stroke-width="0.15">55</text>
<line x1="279.2" y1="225.4" x2="315.4" y2="225.4" stroke="#555" stroke-width="0.9"/>
<line x1="279.2" y1="223.9" x2="279.2" y2="226.9" stroke="#555" stroke-width="0.8"/>
<line x1="315.4" y1="223.9" x2="315.4" y2="226.9" stroke="#555" stroke-width="0.8"/>
<text font-size="6.6" text-anchor="middle" fill="#111" transform="translate(319 222.8) scale(1.08 1)" stroke="#111" stroke-width="0.15">52</text>
<line x1="47.7" y1="303" x2="83.7" y2="303" stroke="#555" stroke-width="0.9"/>
<line x1="47.7" y1="301.5" x2="47.7" y2="304.5" stroke="#555" stroke-width="0.8"/>
<line x1="83.7" y1="301.5" x2="83.7" y2="304.5" stroke="#555" stroke-width="0.8"/>
<text font-size="6.6" text-anchor="middle" fill="#111" transform="translate(82.7 297.8) scale(1.08 1)" stroke="#111" stroke-width="0.15">83</text>
<line x1="118.3" y1="299.8" x2="154.2" y2="299.8" stroke="#555" stroke-width="0.9"/>
<line x1="118.3" y1="298.3" x2="118.3" y2="301.3" stroke="#555" stroke-width="0.8"/>
<line x1="154.2" y1="298.3" x2="154.2" y2="301.3" stroke="#555" stroke-width="0.8"/>
<text font-size="6.6" text-anchor="middle" fill="#111" transform="translate(156.5 297.4) scale(1.08 1)" stroke="#111" stroke-width="0.15">64</text>
<line x1="209.2" y1="302.5" x2="244.8" y2="302.5" stroke="#555" stroke-width="0.9"/>
<line x1="209.2" y1="301" x2="209.2" y2="304" stroke="#555" stroke-width="0.8"/>
<line x1="244.8" y1="301" x2="244.8" y2="304" stroke="#555" stroke-width="0.8"/>
<text font-size="6.6" text-anchor="middle" fill="#111" transform="translate(243.8 297.8) scale(1.08 1)" stroke="#111" stroke-width="0.15">32</text>
<line x1="279.2" y1="299.8" x2="315.6" y2="299.8" stroke="#555" stroke-width="0.9"/>
<line x1="279.2" y1="298.3" x2="279.2" y2="301.3" stroke="#555" stroke-width="0.8"/>
<line x1="315.6" y1="298.3" x2="315.6" y2="301.3" stroke="#555" stroke-width="0.8"/>
<text font-size="6.6" text-anchor="middle" fill="#111" transform="translate(319 297.4) scale(1.08 1)" stroke="#111" stroke-width="0.15">25</text>
<text font-size="6.6" text-anchor="middle" fill="#111" transform="translate(26.5 369.6) scale(1.08 1)" stroke="#111" stroke-width="0.15">0</text>
<text font-size="6.6" text-anchor="middle" fill="#111" transform="translate(35.48 369.6)" stroke="#111" stroke-width="0.15">10<tspan font-size="5.15" dy="-2.64">2</tspan></text>
<text font-size="6.6" text-anchor="middle" fill="#111" transform="translate(51.12 369.6)" stroke="#111" stroke-width="0.15">10<tspan font-size="5.15" dy="-2.64">3</tspan></text>
<text font-size="6.6" text-anchor="middle" fill="#111" transform="translate(66.76 369.6)" stroke="#111" stroke-width="0.15">10<tspan font-size="5.15" dy="-2.64">4</tspan></text>
<text font-size="6.6" text-anchor="middle" fill="#111" transform="translate(82.06 369.6)" stroke="#111" stroke-width="0.15">10<tspan font-size="5.15" dy="-2.64">5</tspan></text>
<text font-size="6.6" text-anchor="middle" fill="#111" transform="translate(100.3 369.6) scale(1.08 1)" stroke="#111" stroke-width="0.15">0</text>
<text font-size="6.6" text-anchor="middle" fill="#111" transform="translate(109.28 369.6)" stroke="#111" stroke-width="0.15">10<tspan font-size="5.15" dy="-2.64">2</tspan></text>
<text font-size="6.6" text-anchor="middle" fill="#111" transform="translate(124.92 369.6)" stroke="#111" stroke-width="0.15">10<tspan font-size="5.15" dy="-2.64">3</tspan></text>
<text font-size="6.6" text-anchor="middle" fill="#111" transform="translate(140.56 369.6)" stroke="#111" stroke-width="0.15">10<tspan font-size="5.15" dy="-2.64">4</tspan></text>
<text font-size="6.6" text-anchor="middle" fill="#111" transform="translate(155.86 369.6)" stroke="#111" stroke-width="0.15">10<tspan font-size="5.15" dy="-2.64">5</tspan></text>
<text font-size="6.6" text-anchor="middle" fill="#111" transform="translate(188 369.6) scale(1.08 1)" stroke="#111" stroke-width="0.15">0</text>
<text font-size="6.6" text-anchor="middle" fill="#111" transform="translate(196.98 369.6)" stroke="#111" stroke-width="0.15">10<tspan font-size="5.15" dy="-2.64">2</tspan></text>
<text font-size="6.6" text-anchor="middle" fill="#111" transform="translate(212.62 369.6)" stroke="#111" stroke-width="0.15">10<tspan font-size="5.15" dy="-2.64">3</tspan></text>
<text font-size="6.6" text-anchor="middle" fill="#111" transform="translate(228.26 369.6)" stroke="#111" stroke-width="0.15">10<tspan font-size="5.15" dy="-2.64">4</tspan></text>
<text font-size="6.6" text-anchor="middle" fill="#111" transform="translate(243.56 369.6)" stroke="#111" stroke-width="0.15">10<tspan font-size="5.15" dy="-2.64">5</tspan></text>
<text font-size="6.6" text-anchor="middle" fill="#111" transform="translate(261.8 369.6) scale(1.08 1)" stroke="#111" stroke-width="0.15">0</text>
<text font-size="6.6" text-anchor="middle" fill="#111" transform="translate(270.78 369.6)" stroke="#111" stroke-width="0.15">10<tspan font-size="5.15" dy="-2.64">2</tspan></text>
<text font-size="6.6" text-anchor="middle" fill="#111" transform="translate(286.42 369.6)" stroke="#111" stroke-width="0.15">10<tspan font-size="5.15" dy="-2.64">3</tspan></text>
<text font-size="6.6" text-anchor="middle" fill="#111" transform="translate(302.06 369.6)" stroke="#111" stroke-width="0.15">10<tspan font-size="5.15" dy="-2.64">4</tspan></text>
<text font-size="6.6" text-anchor="middle" fill="#111" transform="translate(317.36 369.6)" stroke="#111" stroke-width="0.15">10<tspan font-size="5.15" dy="-2.64">5</tspan></text>
<text x="55.5" y="380.2" font-size="8.6" font-weight="bold" text-anchor="middle" textLength="15" lengthAdjust="spacingAndGlyphs" fill="#222" stroke="#222" stroke-width="0.15">CD69</text>
<text x="129.2" y="380.2" font-size="8.6" font-weight="bold" text-anchor="middle" textLength="13" lengthAdjust="spacingAndGlyphs" fill="#222" stroke="#222" stroke-width="0.15">ICOS</text>
<text x="216.5" y="380.2" font-size="8.6" font-weight="bold" text-anchor="middle" textLength="15" lengthAdjust="spacingAndGlyphs" fill="#222" stroke="#222" stroke-width="0.15">CD69</text>
<text x="290.2" y="380.2" font-size="8.6" font-weight="bold" text-anchor="middle" textLength="13" lengthAdjust="spacingAndGlyphs" fill="#222" stroke="#222" stroke-width="0.15">ICOS</text>
<line x1="36" y1="391.4" x2="36" y2="485" stroke="#111" stroke-width="1.2"/>
<line x1="35.4" y1="484.4" x2="121.6" y2="484.4" stroke="#111" stroke-width="1.2"/>
<line x1="33" y1="394.4" x2="36" y2="394.4" stroke="#111" stroke-width="1"/>
<text font-size="7" text-anchor="end" fill="#111" transform="translate(31.2 396.92) scale(1.08 1)" stroke="#111" stroke-width="0.15">100</text>
<line x1="33" y1="412.4" x2="36" y2="412.4" stroke="#111" stroke-width="1"/>
<text font-size="7" text-anchor="end" fill="#111" transform="translate(31.2 414.92) scale(1.08 1)" stroke="#111" stroke-width="0.15">80</text>
<line x1="33" y1="430.5" x2="36" y2="430.5" stroke="#111" stroke-width="1"/>
<text font-size="7" text-anchor="end" fill="#111" transform="translate(31.2 433.02) scale(1.08 1)" stroke="#111" stroke-width="0.15">60</text>
<line x1="33" y1="448.5" x2="36" y2="448.5" stroke="#111" stroke-width="1"/>
<text font-size="7" text-anchor="end" fill="#111" transform="translate(31.2 451.02) scale(1.08 1)" stroke="#111" stroke-width="0.15">40</text>
<line x1="33" y1="466.5" x2="36" y2="466.5" stroke="#111" stroke-width="1"/>
<text font-size="7" text-anchor="end" fill="#111" transform="translate(31.2 469.02) scale(1.08 1)" stroke="#111" stroke-width="0.15">20</text>
<line x1="33" y1="484.4" x2="36" y2="484.4" stroke="#111" stroke-width="1"/>
<text font-size="7" text-anchor="end" fill="#111" transform="translate(31.2 486.92) scale(1.08 1)" stroke="#111" stroke-width="0.15">0</text>
<text x="0" y="0" font-size="8.6" text-anchor="middle" textLength="22" lengthAdjust="spacingAndGlyphs" transform="translate(13.4 437.4) rotate(-90)" fill="#111" stroke="#111" stroke-width="0.15">% CD69</text>
<rect x="44.8" y="413.7" width="10.1" height="70.7" fill="#e08696" stroke="none" stroke-width="1"/>
<rect x="60.5" y="411" width="10.4" height="73.4" fill="#88a8c5" stroke="none" stroke-width="1"/>
<rect x="87.3" y="438.8" width="10.4" height="45.6" fill="#e08696" stroke="none" stroke-width="1"/>
<rect x="103.3" y="454.2" width="10.5" height="30.2" fill="#88a8c5" stroke="none" stroke-width="1"/>
<line x1="49.8" y1="413.7" x2="49.8" y2="411.8" stroke="#222" stroke-width="0.8"/>
<line x1="48.3" y1="411.8" x2="51.3" y2="411.8" stroke="#222" stroke-width="0.8"/>
<line x1="65.7" y1="411" x2="65.7" y2="409.8" stroke="#222" stroke-width="0.8"/>
<line x1="64.2" y1="409.8" x2="67.2" y2="409.8" stroke="#222" stroke-width="0.8"/>
<line x1="92.5" y1="438.8" x2="92.5" y2="435.5" stroke="#222" stroke-width="0.8"/>
<line x1="91" y1="435.5" x2="94" y2="435.5" stroke="#222" stroke-width="0.8"/>
<line x1="108.5" y1="454.2" x2="108.5" y2="450.5" stroke="#222" stroke-width="0.8"/>
<line x1="107" y1="450.5" x2="110" y2="450.5" stroke="#222" stroke-width="0.8"/>
<rect x="45.6" y="409.6" width="3.8" height="3.8" fill="#cc0a30" stroke="none" stroke-width="1"/>
<rect x="48.6" y="414.1" width="3.8" height="3.8" fill="#cc0a30" stroke="none" stroke-width="1"/>
<rect x="50.4" y="411.4" width="3.8" height="3.8" fill="#cc0a30" stroke="none" stroke-width="1"/>
<rect x="88.1" y="442.6" width="3.8" height="3.8" fill="#cc0a30" stroke="none" stroke-width="1"/>
<rect x="91.4" y="433.9" width="3.8" height="3.8" fill="#cc0a30" stroke="none" stroke-width="1"/>
<rect x="93.6" y="437.1" width="3.8" height="3.8" fill="#cc0a30" stroke="none" stroke-width="1"/>
<path d="M63,408.8 L60.5,413.3 L65.5,413.3 Z" fill="#1c5290"/>
<path d="M66.5,406.8 L64,411.3 L69,411.3 Z" fill="#1c5290"/>
<path d="M68.3,410.1 L65.8,414.6 L70.8,414.6 Z" fill="#1c5290"/>
<path d="M65,410.8 L62.5,415.3 L67.5,415.3 Z" fill="#1c5290"/>
<path d="M106,454.3 L103.5,458.8 L108.5,458.8 Z" fill="#1c5290"/>
<path d="M108.4,447.8 L105.9,452.3 L110.9,452.3 Z" fill="#1c5290"/>
<path d="M111,454.3 L108.5,458.8 L113.5,458.8 Z" fill="#1c5290"/>
<line x1="47.4" y1="393.7" x2="92.5" y2="393.7" stroke="#444" stroke-width="1"/>
<line x1="47.4" y1="391.5" x2="47.4" y2="395.9" stroke="#444" stroke-width="1"/>
<line x1="92.5" y1="391.5" x2="92.5" y2="395.9" stroke="#444" stroke-width="1"/>
<text font-size="8" text-anchor="middle" font-weight="bold" fill="#222" transform="translate(69.95 391.8) scale(1.05 1)" stroke="#222" stroke-width="0.15">**</text>
<line x1="67" y1="405.2" x2="111.8" y2="405.2" stroke="#444" stroke-width="1"/>
<line x1="67" y1="403" x2="67" y2="407.4" stroke="#444" stroke-width="1"/>
<line x1="111.8" y1="403" x2="111.8" y2="407.4" stroke="#444" stroke-width="1"/>
<text font-size="8" text-anchor="middle" font-weight="bold" fill="#222" transform="translate(89.4 403.3) scale(1.05 1)" stroke="#222" stroke-width="0.15">***</text>
<line x1="93.8" y1="428" x2="115" y2="428" stroke="#444" stroke-width="1"/>
<line x1="93.8" y1="425.8" x2="93.8" y2="430.2" stroke="#444" stroke-width="1"/>
<line x1="115" y1="425.8" x2="115" y2="430.2" stroke="#444" stroke-width="1"/>
<text font-size="8" text-anchor="middle" font-weight="bold" fill="#222" transform="translate(104.4 426.1) scale(1.05 1)" stroke="#222" stroke-width="0.15">*</text>
<text font-size="7.3" text-anchor="middle" fill="#111" transform="translate(57.5 494.3) scale(1.08 1)" stroke="#111" stroke-width="0.15">21%</text>
<text font-size="7.3" text-anchor="middle" fill="#111" transform="translate(100.7 494.3) scale(1.08 1)" stroke="#111" stroke-width="0.15">3%</text>
<line x1="197.6" y1="390.8" x2="197.6" y2="485.2" stroke="#111" stroke-width="1.2"/>
<line x1="197" y1="484.6" x2="283.2" y2="484.6" stroke="#111" stroke-width="1.2"/>
<line x1="194.6" y1="394.7" x2="197.6" y2="394.7" stroke="#111" stroke-width="1"/>
<text font-size="7" text-anchor="end" fill="#111" transform="translate(192.8 397.22) scale(1.08 1)" stroke="#111" stroke-width="0.15">80</text>
<line x1="194.6" y1="417.2" x2="197.6" y2="417.2" stroke="#111" stroke-width="1"/>
<text font-size="7" text-anchor="end" fill="#111" transform="translate(192.8 419.72) scale(1.08 1)" stroke="#111" stroke-width="0.15">60</text>
<line x1="194.6" y1="439.8" x2="197.6" y2="439.8" stroke="#111" stroke-width="1"/>
<text font-size="7" text-anchor="end" fill="#111" transform="translate(192.8 442.32) scale(1.08 1)" stroke="#111" stroke-width="0.15">40</text>
<line x1="194.6" y1="462.3" x2="197.6" y2="462.3" stroke="#111" stroke-width="1"/>
<text font-size="7" text-anchor="end" fill="#111" transform="translate(192.8 464.82) scale(1.08 1)" stroke="#111" stroke-width="0.15">20</text>
<line x1="194.6" y1="484.6" x2="197.6" y2="484.6" stroke="#111" stroke-width="1"/>
<text font-size="7" text-anchor="end" fill="#111" transform="translate(192.8 487.12) scale(1.08 1)" stroke="#111" stroke-width="0.15">0</text>
<text x="0" y="0" font-size="8.6" text-anchor="middle" textLength="21.5" lengthAdjust="spacingAndGlyphs" transform="translate(176.6 438.6) rotate(-90)" fill="#111" stroke="#111" stroke-width="0.15">% ICOS</text>
<rect x="205.8" y="428" width="10.4" height="56.6" fill="#e08696" stroke="none" stroke-width="1"/>
<rect x="221.8" y="417.6" width="10.2" height="67" fill="#88a8c5" stroke="none" stroke-width="1"/>
<rect x="248.6" y="429" width="10.4" height="55.6" fill="#e08696" stroke="none" stroke-width="1"/>
<rect x="264.6" y="456.2" width="10.4" height="28.4" fill="#88a8c5" stroke="none" stroke-width="1"/>
<line x1="211" y1="428" x2="211" y2="419.5" stroke="#222" stroke-width="0.8"/>
<line x1="209.5" y1="419.5" x2="212.5" y2="419.5" stroke="#222" stroke-width="0.8"/>
<line x1="226.9" y1="417.6" x2="226.9" y2="414.8" stroke="#222" stroke-width="0.8"/>
<line x1="225.4" y1="414.8" x2="228.4" y2="414.8" stroke="#222" stroke-width="0.8"/>
<line x1="253.8" y1="429" x2="253.8" y2="425.5" stroke="#222" stroke-width="0.8"/>
<line x1="252.3" y1="425.5" x2="255.3" y2="425.5" stroke="#222" stroke-width="0.8"/>
<line x1="269.8" y1="456.2" x2="269.8" y2="450.8" stroke="#222" stroke-width="0.8"/>
<line x1="268.3" y1="450.8" x2="271.3" y2="450.8" stroke="#222" stroke-width="0.8"/>
<rect x="205.9" y="429.4" width="3.8" height="3.8" fill="#cc0a30" stroke="none" stroke-width="1"/>
<rect x="208.6" y="419.1" width="3.8" height="3.8" fill="#cc0a30" stroke="none" stroke-width="1"/>
<rect x="211.6" y="427.6" width="3.8" height="3.8" fill="#cc0a30" stroke="none" stroke-width="1"/>
<rect x="249.1" y="422.1" width="3.8" height="3.8" fill="#cc0a30" stroke="none" stroke-width="1"/>
<rect x="252.4" y="435.1" width="3.8" height="3.8" fill="#cc0a30" stroke="none" stroke-width="1"/>
<rect x="254.4" y="426.6" width="3.8" height="3.8" fill="#cc0a30" stroke="none" stroke-width="1"/>
<path d="M224.5,412.8 L222,417.3 L227,417.3 Z" fill="#1c5290"/>
<path d="M227,416.8 L224.5,421.3 L229.5,421.3 Z" fill="#1c5290"/>
<path d="M229.5,414.3 L227,418.8 L232,418.8 Z" fill="#1c5290"/>
<path d="M267,455.8 L264.5,460.3 L269.5,460.3 Z" fill="#1c5290"/>
<path d="M269.8,448.8 L267.3,453.3 L272.3,453.3 Z" fill="#1c5290"/>
<path d="M272.6,455.8 L270.1,460.3 L275.1,460.3 Z" fill="#1c5290"/>
<line x1="207.4" y1="408.8" x2="228.6" y2="408.8" stroke="#444" stroke-width="1"/>
<line x1="207.4" y1="406.6" x2="207.4" y2="411" stroke="#444" stroke-width="1"/>
<line x1="228.6" y1="406.6" x2="228.6" y2="411" stroke="#444" stroke-width="1"/>
<text font-size="8" text-anchor="middle" font-weight="bold" fill="#222" transform="translate(218 406.9) scale(1.05 1)" stroke="#222" stroke-width="0.15">*</text>
<line x1="231.9" y1="408.8" x2="276" y2="408.8" stroke="#444" stroke-width="1"/>
<line x1="231.9" y1="406.6" x2="231.9" y2="411" stroke="#444" stroke-width="1"/>
<line x1="276" y1="406.6" x2="276" y2="411" stroke="#444" stroke-width="1"/>
<text font-size="8" text-anchor="middle" font-weight="bold" fill="#222" transform="translate(253.95 406.9) scale(1.05 1)" stroke="#222" stroke-width="0.15">***</text>
<line x1="254.8" y1="420.2" x2="276" y2="420.2" stroke="#444" stroke-width="1"/>
<line x1="254.8" y1="418" x2="254.8" y2="422.4" stroke="#444" stroke-width="1"/>
<line x1="276" y1="418" x2="276" y2="422.4" stroke="#444" stroke-width="1"/>
<text font-size="8" text-anchor="middle" font-weight="bold" fill="#222" transform="translate(265.4 418.3) scale(1.05 1)" stroke="#222" stroke-width="0.15">**</text>
<text font-size="7.3" text-anchor="middle" fill="#111" transform="translate(218.2 494.3) scale(1.08 1)" stroke="#111" stroke-width="0.15">21%</text>
<text font-size="7.3" text-anchor="middle" fill="#111" transform="translate(261.3 494.3) scale(1.08 1)" stroke="#111" stroke-width="0.15">3%</text>
<text font-size="8.8" text-anchor="middle" fill="#111" transform="translate(388.7 208.6) scale(1.08 1)" stroke="#111" stroke-width="0.15">PBS</text>
<text font-size="8.8" text-anchor="middle" fill="#111" transform="translate(463.7 208.6) scale(1.08 1)" stroke="#111" stroke-width="0.15">DMOG</text>
<text font-size="7.2" text-anchor="middle" fill="#111" transform="translate(505.8 251.4) scale(1.08 1)" stroke="#111" stroke-width="0.15">WT</text>
<text font-size="7.2" text-anchor="middle" fill="#111" transform="translate(506.5 325.5) scale(1.08 1)" stroke="#111" stroke-width="0.15">KO</text>
<defs>
<clipPath id="ec0"><rect x="356.2" y="214.6" width="67.3" height="67.7"/></clipPath>
<clipPath id="ec1"><rect x="430.5" y="214.6" width="67.3" height="67.7"/></clipPath>
<clipPath id="ec2"><rect x="356.2" y="288.3" width="67.3" height="68"/></clipPath>
<clipPath id="ec3"><rect x="430.6" y="288.3" width="67.2" height="68.2"/></clipPath>
</defs>
<g clip-path="url(#ec0)">
<g fill="#000"><path d="M400.9,240.4l1.5,.4 .2,1.6-2.8,6.5-.3,6.4-.7,2.8-1.1,1.9-1.6,1.3-2,.5-2-.4-2.5-1.7-1.8-3.2-.5-3.6 .6-3.2 2.6-3.1 4.9-2.2 5.2-4zM362.4,251.2l1.2,0 2.4,1.2 2.8-1.4 1.6,.1 3.8,4.2 3.8,3.2 1.3,2-.2,2.8-2.4,3.6-.6,1.6-.7,8.8-1.6,8-14.1,0-1.4-7.6-.7-10.1-2.6-4.3-.3-2 1.1-2.4 3-2.9 3.6-4.7z" fill-opacity="0.11" fill-rule="evenodd"/><path d="M394.1,246.8l2.4-.2 1.2,.6 .8,6.5-.3,2.4-.9,2.2-1.6,1.5-1.6,.5-2-.4-1.9-1.4-1.2-2-.6-2.8 .3-2.4 1-2 1.6-1.5 2.4-1zM362.4,253.2l1.2,0 2.4,1.1 2.8-1 1.6,.2 5.9,5 1.4,2 0,2.4-2.5,4.8-.7,10-1.6,7.6-12.5,0-.1-.4-1.4-6.4-.7-11.6-1.8-4-.2-1.6 .8-2 5.2-6z" fill-opacity="0.11" fill-rule="evenodd"/><path d="M392.5,249.2l1.6-.3 1.2,.4 1,1.2 .6,1.9 0,2.1-.5,2-1.1,1.4-1.2,.4-1.6-.2-1.2-.8-1.3-2.8 .4-3.2 2-2zM362.8,254.8l3.2,.9 3.2-.6 1.6,.4 3.8,3 1.5,2.4 0,1.6-1.9,4.8-.8,12-1.9,6-4.3,0-1.2-1.1-1.4,1.1-3.1,0-1.2-2.8-1-6-.5-10.4-1-4.8 1.6-3.2 3.1-3.2z" fill-opacity="0.11" fill-rule="evenodd"/><path d="M362.8,256.4l3.2,.7 2.8-.4 1.6,.2 2.4,1.6 1.6,2.4 0,1.6-1.2,4.4-.7,11.6-1.3,4-1.6,1.5-1.2-.5-2.4-2.7-2.4,3-1.2,.1-.9-1-.9-2.4-.9-5.6-.6-13.2 1.2-3.2 2.2-2z" fill-opacity="0.11" fill-rule="evenodd"/><path d="M363.2,258l2.8,.7 2.8-.4 1.6,.4 1.7,1.4 .6,2-.9,4.8-.1,8-1.1,4-1,1.1-.8-.3-2.4-4.9-2.2,5.3-1.4,1.2-1.2-1.3-1-3.9-.4-13.6 1-3.2 1.9-1.2z" fill-opacity="0.11" fill-rule="evenodd"/><path d="M363.2,260.5l1.5,.8 .4,1.2-.6,3.6-.1,8-.8,2.7-.8,.6-1.2-2.4-.3-4.9 .4-7.6 .7-1.6 .8-.4zM368.4,261.5l.8,0 .5,.6-.5,1.4-1-.6 0-1.2z" fill-opacity="0.11" fill-rule="evenodd"/></g><path d="M359.7,285.3l-1.4-7.6-.7-10.1-2.7-4.7-.1-2.4 1-1.6 3.4-3.4 2.8-4 1.2-.4 2.8,1.3 3.2-1.5 1.6,.5 3.4,3.9 3.8,3.2 1.5,2.8-.5,2.4-2.8,4.4-.8,9.6-1.6,7.6M400.9,240.4l1.5,.4 .2,1.6-2.8,6.5-.3,6.4-.7,2.8-1.1,1.9-1.6,1.3-2,.5-2-.4-2.5-1.7-1.8-3.2-.5-3.6 .6-3.2 2.6-3.1 4.9-2.2 5.2-4zM360,285.3l-1.4-7.2-.7-10.8-2.1-4-.4-2 1.2-2.4 5-6.1 1.2-.7 3.2,1.3 2.8-1.2 1.6,.2 6.8,6.1 1.3,2 0,2.4-2.9,5.2-.6,9.2-1.6,8M399.3,243.1l.8-.2 .5,.7-1.5,4.8-.1,6.5-.6,2.8-1.1,1.8-1.6,1.2-1.6,.4-2-.4-2.4-1.8-1.3-2.4-.6-3.2 .6-3.2 2.5-3 5.2-1.9 2.9-2zM360.4,285.3l-1.5-6.8-.7-11.6-1.8-4-.2-1.6 1.2-2.4 4.2-5.2 1.2-.7 3.2,1.3 2.8-1 1.6,.2 5.9,5 1.4,2 0,2.4-2.5,4.8-.7,10-1.6,7.6M394.1,246.8l2.4-.2 1.2,.6 .8,6.5-.3,2.4-.9,2.2-1.6,1.5-1.6,.5-2-.4-1.9-1.4-1.2-2-.6-2.8 .3-2.4 1-2 1.6-1.5 2.4-1zM360.9,285.3l-1.8-7.6-.6-11.2-1.5-5.2 .8-2 3-3.8 2-1.6 3.2,1.1 3.2-.8 1.6,.4 4.6,3.9 1.6,2.4-.1,2-2.2,4.4-.6,10.4-1.8,7.6M392.9,248l2-.2 1.5,.6 1.3,4.1 0,2.8-.7,2-1.3,1.5-1.6,.6-1.6-.2-1.6-1.1-1.1-1.6-.6-2 0-2 .6-2 1.1-1.4 1.8-1.1zM361.5,285.3l-1.2-2.8-.8-4-.6-12-1.2-4.8 .6-2 2.1-3 1.6-1.6 1.2-.3 2.8,.9 3.2-.6 1.6,.4 3.8,3 1.5,2.4 0,1.6-1.9,4.8-.8,12-1.9,6M367.2,285.3l-1.2-1.1-1.4,1.1M392.5,249.2l1.6-.3 1.2,.4 1,1.2 .6,1.9 0,2.1-.5,2-1.1,1.4-1.2,.4-1.6-.2-1.2-.8-1.3-2.8 .4-3.2 2-2zM368.6,285.3l-2.6-2.7-2.4,2.4-1.2,.2-1.2-1.6-1.1-3.5-1.6-18.8 1.8-3.6 1.3-1.5 1.2-.6 3.2,.8 3.2-.5 1.6,.4 2.9,2.2 1.6,2.4 0,1.6-1.6,4.8-.2,7.2-.6,4.8-1.2,4-1.4,2M393.3,250.4l1.6,.5 1,2.4-.6,2.8-1.6,.9-1.9-.9-.8-2 .5-2.4 1.6-1.2zM362.8,256.4l3.2,.7 2.8-.4 1.6,.2 2.4,1.6 1.6,2.4 0,1.6-1.2,4.4-.7,11.6-1.3,4-1.6,1.5-1.2-.5-2.4-2.7-2.4,3-1.2,.1-.9-1-.9-2.4-.9-5.6-.6-13.2 1.2-3.2 2.2-2zM362.8,257.2l3.2,.6 2.8-.3 1.6,.2 2,1.5 1.1,1.7 .1,1.6-1.1,4.4-.4,10.4-1.2,3.6-1.3,1.3-1.2-.6-2-3.1-.8,.5-2.4,3.7-1.2-.4-1.1-2.6-.9-5.6-.3-12.4 1-2.8 1.9-1.6zM363.2,258l2.8,.7 2.8-.4 1.6,.4 1.7,1.4 .6,2-.9,4.8-.1,8-1.1,4-1,1.1-.8-.3-2.4-4.9-2.2,5.3-1.4,1.2-1.2-1.3-1-3.9-.4-13.6 1-3.2 1.9-1.2zM362.8,259.1l3.2,.8 2.8-.5 1.2,.3 1.3,1.2 .3,1.6-.9,4.4 .1,6.8-.8,2.7-.8,.4-.8-1.5-.5-3.2 .1-5.2-.8-1.6-.8-.4-1,1.6-.1,6-.6,4-.9,2.4-1,.7-.8-.7-.7-2-.6-5.6 .2-9.2 .5-1.6 1.1-1.2zM363.2,260.5l1.5,.8 .4,1.2-.6,3.6-.1,8-.8,2.7-.8,.6-1.2-2.4-.3-4.9 .4-7.6 .7-1.6 .8-.4zM368.4,261.5l.8,0 .5,.6-.5,1.4-1-.6 0-1.2zM362.8,267.1l.9,3.8-.4,2.4-.5,.7-.7-3.1 .6-3.6z" fill="none" stroke="#111" stroke-width="0.42" stroke-linejoin="round"/><path d="M392.9,243.6h.8v.8h-.8zM365.0,249.0h.8v.8h-.8zM405.9,234.1h.8v.8h-.8zM386.1,255.3h.8v.8h-.8zM365.7,247.8h.8v.8h-.8zM387.5,256.1h.8v.8h-.8zM410.9,235.3h.8v.8h-.8zM389.2,246.8h.8v.8h-.8zM369.8,246.3h.8v.8h-.8zM381.0,274.4h.8v.8h-.8zM359.9,253.0h.8v.8h-.8zM384.3,257.2h.8v.8h-.8zM387.5,248.5h.8v.8h-.8zM362.6,244.2h.8v.8h-.8zM369.0,246.7h.8v.8h-.8zM377.8,249.6h.8v.8h-.8zM405.3,245.5h.8v.8h-.8zM360.3,250.9h.8v.8h-.8zM358.0,276.6h.8v.8h-.8zM369.8,249.9h.8v.8h-.8zM364.0,235.6h.8v.8h-.8zM407.3,242.2h.8v.8h-.8zM368.8,243.7h.8v.8h-.8zM360.7,249.6h.8v.8h-.8zM359.8,244.4h.8v.8h-.8zM385.8,266.0h.8v.8h-.8zM387.8,268.2h.8v.8h-.8zM374.4,247.7h.8v.8h-.8zM368.8,248.2h.8v.8h-.8zM396.7,224.4h.8v.8h-.8zM358.6,248.4h.8v.8h-.8zM386.4,253.5h.8v.8h-.8zM404.7,252.8h.8v.8h-.8zM395.9,243.1h.8v.8h-.8zM382.3,264.8h.8v.8h-.8zM393.4,245.0h.8v.8h-.8zM406.0,235.2h.8v.8h-.8zM386.4,249.4h.8v.8h-.8zM356.8,276.2h.8v.8h-.8zM395.9,244.1h.8v.8h-.8zM407.0,242.3h.8v.8h-.8zM361.0,239.4h.8v.8h-.8zM368.4,237.3h.8v.8h-.8zM359.5,254.2h.8v.8h-.8zM396.8,241.7h.8v.8h-.8zM376.4,281.6h.8v.8h-.8zM403.9,253.7h.8v.8h-.8zM391.1,243.3h.8v.8h-.8zM388.5,259.3h.8v.8h-.8zM380.0,264.7h.8v.8h-.8zM408.6,234.5h.8v.8h-.8zM383.7,261.9h.8v.8h-.8zM386.7,257.9h.8v.8h-.8zM357.9,272.2h.8v.8h-.8zM373.3,252.8h.8v.8h-.8zM357.9,277.4h.8v.8h-.8zM387.6,261.3h.8v.8h-.8zM393.8,263.7h.8v.8h-.8zM376.0,273.7h.8v.8h-.8zM359.5,252.4h.8v.8h-.8zM389.0,271.3h.8v.8h-.8zM379.4,265.8h.8v.8h-.8zM392.3,269.2h.8v.8h-.8zM386.6,245.2h.8v.8h-.8zM357.7,274.8h.8v.8h-.8zM398.7,240.6h.8v.8h-.8zM357.3,269.3h.8v.8h-.8zM373.3,249.7h.8v.8h-.8zM373.4,253.2h.8v.8h-.8zM382.5,260.4h.8v.8h-.8zM384.0,268.6h.8v.8h-.8zM394.3,262.5h.8v.8h-.8zM373.5,254.2h.8v.8h-.8zM372.9,243.8h.8v.8h-.8zM401.4,250.7h.8v.8h-.8zM401.6,259.2h.8v.8h-.8zM370.4,249.2h.8v.8h-.8zM362.8,247.3h.8v.8h-.8zM358.7,254.3h.8v.8h-.8zM383.5,259.6h.8v.8h-.8zM386.8,258.5h.8v.8h-.8zM359.9,249.1h.8v.8h-.8zM405.0,249.4h.8v.8h-.8zM377.5,247.7h.8v.8h-.8zM385.6,244.5h.8v.8h-.8zM367.1,251.1h.8v.8h-.8zM400.6,238.5h.8v.8h-.8zM383.0,258.1h.8v.8h-.8zM359.6,238.2h.8v.8h-.8zM366.1,248.0h.8v.8h-.8zM366.8,251.6h.8v.8h-.8zM357.2,275.5h.8v.8h-.8zM383.8,258.0h.8v.8h-.8zM386.2,257.8h.8v.8h-.8zM390.5,267.4h.8v.8h-.8zM400.2,251.8h.8v.8h-.8zM377.4,267.3h.8v.8h-.8zM397.5,238.4h.8v.8h-.8zM374.8,251.6h.8v.8h-.8zM357.3,255.1h.8v.8h-.8zM400.0,261.9h.8v.8h-.8zM386.1,247.3h.8v.8h-.8zM368.0,249.8h.8v.8h-.8zM385.0,266.8h.8v.8h-.8zM363.6,249.0h.8v.8h-.8zM376.5,242.6h.8v.8h-.8zM382.9,250.6h.8v.8h-.8zM385.4,253.2h.8v.8h-.8zM370.5,250.1h.8v.8h-.8zM418.6,243.3h.8v.8h-.8z" fill="#333"/>
</g>
<g clip-path="url(#ec1)">
<g fill="#000"><path d="M467.6,244.8l.9,0 .7,.8 1.7,7.3 .2,2.8-.6,2.4-1.2,1.6-1.3,.9-2,.3-2.5-1-1.5-1.8-1-2.4-.2-2.8 .7-2.4 1.2-2.1 2.5-2.2 2.3-1.4zM436.7,251.1l3.2,1.3 2.8-1.4 1.6,.1 4,4.2 4.2,3.2 1.2,2-.1,2.8-2.9,3.8-.5,1.4-.9,9.6-1.5,7.2-14.1,0-1.5-8-.6-10-2.2-4-.3-2 .8-2 6.5-8z" fill-opacity="0.11" fill-rule="evenodd"/><path d="M466,248.4l1.2,.2 1.2,1.2 1.1,2.3 .4,2.4-.2,2-.7,1.6-1,.9-1.6,.5-1.6-.4-1.3-1-1-1.6-.5-2.4 1-3.6 1.4-1.4 1.4-.7zM436.3,253.2l1.2-.1 2.4,1.2 2.8-1 1.6,.1 6.4,5.1 1.5,2-.1,2.4-2.2,3.2-.8,2-.6,9.6-1.6,7.6-12.5,0-.3-.8-1.3-6.8-.5-10.8-1.7-5.6 .8-2 4.8-6z" fill-opacity="0.11" fill-rule="evenodd"/><path d="M466,251.2l1.6,1.1 .7,2.2-.6,2-1.3,.8-1.9-.8-.8-2 .4-2 1.6-1.2zM436.7,254.8l3.2,.9 3.2-.7 1.6,.4 4.2,3.1 1.7,2.4-.2,2-2.1,4-.7,11.2-.8,4-1.2,3.2-4.4,0-1.3-1.1-1.3,1.1-3.1,0-1-2.4-1.2-6-.4-10-.8-5.6 2-4 2.5-2.4z" fill-opacity="0.11" fill-rule="evenodd"/><path d="M436.7,256.5l3.2,.6 4.4-.3 2.7,1.7 1.7,2.4 0,1.6-1.5,4.8-.7,11.2-1.1,3.6-1.5,1.9-1.3-.3-2.3-2.9-.8,.4-1.6,2.4-1.2,.5-1.2-1.2-.9-2.4-.9-6-.4-12.8 1.2-3.2 2.2-2z" fill-opacity="0.11" fill-rule="evenodd"/><path d="M436.3,258.4l8,.1 2,1.6 .6,2-1,4.4-.1,7.6-1.1,4.7-.8,1.1-1.2-.3-2.4-4.7-2.1,5.2-.7,.9-.8,.3-.8-.7-.8-2.1-.8-6.8 .1-10 .7-2 1.1-1.2z" fill-opacity="0.11" fill-rule="evenodd"/><path d="M436.7,260.8l1.3,.1 1,1.6-.5,3.2-.1,8.4-.8,2.8-.9,.5-1-2.1-.4-4.4 .4-8 .9-2zM442.7,261.2l.8,.1 .6,.8-.6,1.6-.8,0-.8-1-.1-.6 .6-.8z" fill-opacity="0.11" fill-rule="evenodd"/></g><path d="M433.7,285.3l-1.5-8-.6-10-2.3-4.4 0-2.4 7-9.2 1.2-.1 2.4,1.2 3.6-1.5 1.6,.7 3.2,3.7 4.2,3.2 1.4,2.8-.5,2.4-3.1,4.4-1,10-1.5,7.2M467.6,244.8l.9,0 .7,.8 1.7,7.3 .2,2.8-.6,2.4-1.2,1.6-1.3,.9-2,.3-2.5-1-1.5-1.8-1-2.4-.2-2.8 .7-2.4 1.2-2.1 2.5-2.2 2.3-1.4zM434,285.3l-1.5-7.6-.6-10.8-1.9-4-.2-1.6 .9-2 4.4-5.9 1.2-1.1 .8-.2 2.8,1.3 2.8-1.2 1.6,.1 7.3,6.2 1.4,2-.2,2.8-3.1,4.8-.7,9.6-1.6,7.6M466,247.1l1.2-.2 1.2,.9 1.6,3.9 .6,2.8-.2,2-.8,1.9-1.2,1.2-1.6,.6-2-.3-1.7-1.2-1.1-1.8-.6-2.4 .2-2.4 .7-2 1.2-1.5 2.1-1.4zM434.4,285.3l-1.5-7.2-.6-11.2-1.7-5.6 .8-2 3.7-5 2-1.3 2.8,1.3 2.8-1 1.6,.1 6.4,5.1 1.5,2-.1,2.4-2.2,3.2-.8,2-.6,9.6-1.6,7.6M466,248.4l1.2,.2 1.2,1.2 1.1,2.3 .4,2.4-.2,2-.7,1.6-1,.9-1.6,.5-1.6-.4-1.3-1-1-1.6-.5-2.4 1-3.6 1.4-1.4 1.4-.7zM434.9,285.3l-1.6-6.4-.7-12-1.2-5.6 .7-2 3-4.2 2-1.2 2.8,1.1 3.2-.8 1.6,.3 5.1,4 1.6,2.4-.1,2-2.6,4.6-.6,10.2-1.8,7.6M465.2,249.9l1.2-.1 1.2,.7 1.5,3.2-.4,3.2-1.9,1.6-2.4-.7-1.5-2.5 .2-3.2 1.7-2zM435.5,285.3l-1.9-6.4-.7-12.4-.9-4.8 .6-2 1.8-2.8 1.5-1.7 1.2-.4 2.8,.9 3.2-.7 1.6,.4 4.2,3.1 1.7,2.4-.2,2-2.1,4-.7,11.2-.8,4-1.2,3.2M441.2,285.3l-1.3-1.1-1.3,1.1M466,251.2l1.6,1.1 .7,2.2-.6,2-1.3,.8-1.9-.8-.8-2 .4-2 1.6-1.2zM442.6,285.3l-2.7-2.7-2.4,2.5-1.2,0-1.2-1.8-1.1-3.6-1.3-18.4 1.7-3.6 2.3-2.1 3.2,.8 3.2-.6 1.6,.4 3.2,2.3 1.7,2.4 0,1.6-1.9,4.8-.2,7.6-.7,4.8-1.1,3.6-1.3,2M436.7,256.5l3.2,.6 4.4-.3 2.7,1.7 1.7,2.4 0,1.6-1.5,4.8-.7,11.2-1.1,3.6-1.5,1.9-1.3-.3-2.3-2.9-.8,.4-1.6,2.4-1.2,.5-1.2-1.2-.9-2.4-.9-6-.4-12.8 1.2-3.2 2.2-2zM437.1,257.2l2.8,.7 4.4-.3 2,1.3 1.4,2 .1,1.6-1.2,4.4-.6,10.8-1.1,3.2-1.4,1.3-1.2-.7-2-3-3.2,4.3-1.2-.7-1-2.4-.9-6-.2-11.6 1.1-3.2 2-1.6zM436.3,258.4l8,.1 2,1.6 .6,2-1,4.4-.1,7.6-1.1,4.7-.8,1.1-1.2-.3-2.4-4.7-2.1,5.2-.7,.9-.8,.3-.8-.7-.8-2.1-.8-6.8 .1-10 .7-2 1.1-1.2zM437.1,259.2l2.8,.7 4-.4 1.6,1.4 .3,1.6-1,4 .1,6.4-.7,3.2-.7,.8-.4-.2-.8-1.4-.5-3.2 .1-5.2-.7-1.6-.9-.5-.9,1.7 0,6-.6,3.6-.9,2.6-1.2,.9-.8-.9-.7-2.2-.5-6 .3-8.4 .5-1.6 1.3-1.2zM436.7,260.8l1.3,.1 1,1.6-.5,3.2-.1,8.4-.8,2.8-.9,.5-1-2.1-.4-4.4 .4-8 .9-2zM442.7,261.2l.8,.1 .6,.8-.6,1.6-.8,0-.8-1-.1-.6 .6-.8zM436.7,267.2l.6,.9 .4,2.8-.2,2-.8,1.1-.6-3.1 .6-3.6z" fill="none" stroke="#111" stroke-width="0.42" stroke-linejoin="round"/><path d="M461.6,258.2h.8v.8h-.8zM431.4,272.9h.8v.8h-.8zM453.8,260.0h.8v.8h-.8zM431.7,276.6h.8v.8h-.8zM448.5,245.9h.8v.8h-.8zM431.3,254.2h.8v.8h-.8zM431.2,266.2h.8v.8h-.8zM470.8,249.8h.8v.8h-.8zM469.1,241.7h.8v.8h-.8zM432.6,245.3h.8v.8h-.8zM451.1,276.3h.8v.8h-.8zM439.6,240.2h.8v.8h-.8zM450.1,271.2h.8v.8h-.8zM449.5,255.9h.8v.8h-.8zM454.7,273.6h.8v.8h-.8zM461.9,273.9h.8v.8h-.8zM449.9,272.1h.8v.8h-.8zM434.4,252.8h.8v.8h-.8zM435.2,251.6h.8v.8h-.8zM433.8,236.7h.8v.8h-.8zM450.2,277.2h.8v.8h-.8zM458.9,261.8h.8v.8h-.8zM459.7,267.4h.8v.8h-.8zM473.2,243.1h.8v.8h-.8zM437.6,235.8h.8v.8h-.8zM449.2,254.6h.8v.8h-.8zM460.7,256.0h.8v.8h-.8zM461.4,259.7h.8v.8h-.8zM451.2,267.3h.8v.8h-.8zM440.9,250.6h.8v.8h-.8zM457.2,257.8h.8v.8h-.8zM433.9,238.2h.8v.8h-.8zM468.9,244.8h.8v.8h-.8zM456.2,249.3h.8v.8h-.8zM470.7,258.3h.8v.8h-.8zM471.8,262.5h.8v.8h-.8zM439.2,250.1h.8v.8h-.8zM432.3,255.5h.8v.8h-.8zM454.7,248.0h.8v.8h-.8zM441.9,248.9h.8v.8h-.8zM471.4,232.5h.8v.8h-.8zM455.1,243.5h.8v.8h-.8zM440.7,250.4h.8v.8h-.8zM435.0,251.2h.8v.8h-.8zM462.0,260.8h.8v.8h-.8zM441.5,246.8h.8v.8h-.8zM460.7,253.8h.8v.8h-.8zM450.0,271.0h.8v.8h-.8zM438.9,246.7h.8v.8h-.8zM436.0,251.2h.8v.8h-.8zM448.9,240.8h.8v.8h-.8zM454.4,262.8h.8v.8h-.8zM483.0,255.3h.8v.8h-.8zM470.2,243.9h.8v.8h-.8zM440.8,250.1h.8v.8h-.8zM448.9,281.5h.8v.8h-.8zM451.1,274.2h.8v.8h-.8zM448.5,253.8h.8v.8h-.8zM460.1,248.8h.8v.8h-.8zM453.9,257.8h.8v.8h-.8zM454.9,255.3h.8v.8h-.8zM447.0,247.7h.8v.8h-.8zM450.3,256.2h.8v.8h-.8zM460.5,252.5h.8v.8h-.8zM433.0,254.5h.8v.8h-.8zM444.0,243.7h.8v.8h-.8zM435.2,247.9h.8v.8h-.8zM466.9,242.9h.8v.8h-.8zM462.1,245.1h.8v.8h-.8zM459.5,251.1h.8v.8h-.8zM437.7,240.8h.8v.8h-.8zM448.5,247.2h.8v.8h-.8zM443.6,246.3h.8v.8h-.8zM482.0,228.9h.8v.8h-.8zM431.7,254.3h.8v.8h-.8zM455.7,260.8h.8v.8h-.8zM455.3,260.4h.8v.8h-.8zM470.3,250.4h.8v.8h-.8zM450.1,277.5h.8v.8h-.8zM455.3,259.5h.8v.8h-.8zM471.4,267.9h.8v.8h-.8zM452.8,277.2h.8v.8h-.8zM473.4,256.0h.8v.8h-.8zM464.1,266.2h.8v.8h-.8zM452.2,254.8h.8v.8h-.8zM452.6,278.7h.8v.8h-.8zM453.0,255.9h.8v.8h-.8zM431.5,279.4h.8v.8h-.8zM449.7,281.4h.8v.8h-.8zM451.0,268.5h.8v.8h-.8zM436.5,249.4h.8v.8h-.8zM448.9,255.4h.8v.8h-.8zM450.8,267.4h.8v.8h-.8zM435.4,243.4h.8v.8h-.8zM473.2,247.2h.8v.8h-.8zM472.2,241.5h.8v.8h-.8zM456.2,261.5h.8v.8h-.8zM465.8,244.7h.8v.8h-.8zM437.5,249.9h.8v.8h-.8zM461.2,256.7h.8v.8h-.8zM446.7,251.9h.8v.8h-.8zM457.4,242.6h.8v.8h-.8zM436.5,249.0h.8v.8h-.8zM462.5,260.3h.8v.8h-.8zM443.1,250.2h.8v.8h-.8zM472.2,258.6h.8v.8h-.8zM440.8,245.8h.8v.8h-.8zM460.8,245.2h.8v.8h-.8zM453.0,265.6h.8v.8h-.8zM436.9,245.3h.8v.8h-.8z" fill="#333"/>
</g>
<g clip-path="url(#ec2)">
<g fill="#000"><path d="M400.1,310l1.6,0 .4,.9-2.5,4.4-.5,1.6 2.4,10.4-.3,2.8-1.1,2.4-2.8,2-3.6,.3-3.6-1.7-2.9-3.7-1.2-.8-2.4,0-3.2,1.5-1.6,1.4-.4,1.4 2.9,6 .1,3.6-1.5,3.2-3.9,5-2.9,8.6-14.7,0-1.4-2.8-1.8-6.1-2-3.3 0-12.5 6.8-5.5 4.8-1 16.8-6.2 6.8-5.9 6.6-2.7 4.9-3.2z" fill-opacity="0.11" fill-rule="evenodd"/><path d="M393.3,316.9l2,.4 1.4,1.6 2.3,5.2 .8,3.6-.3,2.4-1.2,2-1.8,1.4-2,.5-2.4-.5-1.7-1-1.4-2-1.4-3.5-3.2-2.5 1.2-2.4 2.8-3.2 2.1-1.4 2.6-.6zM375.2,327.7l1.7,0-1.7,2.7-.2,1.7 3.7,6 .6,3.2-.9,2.8-3.6,5.6-2.6,8.8-.4,.8-11.8,0-2.2-3.2-2.2-8.1-2.4-4.9 .2-5.4 2.7-3.6 3.9-3.4 15-3z" fill-opacity="0.11" fill-rule="evenodd"/><path d="M392.1,321.3l1.6,.3 2,1.5 1.6,1.8 1.1,2 .2,2-.4,1.6-1.2,1.6-1.7,.9-2,.2-1.6-.6-1.5-1.3-.8-1.6-.2-2.4 1-4 .7-1.3 1.1-.7zM366.4,331.7l2.8-.3 2,.9 4.1,4.6 1.4,3.2-.2,2.4-2.5,5.4-2,7.8-2.1,3.6-2.9,0-2.6-2.7-3.2,1.3-1.6-.8-1.8-3.8-2.7-11.6 .6-4 3.5-4.8 2-.9 5.1-.3z" fill-opacity="0.11" fill-rule="evenodd"/><path d="M393.7,324.5l1.6,.3 1.2,.9 1.2,2.8-.3,1.6-.8,1.2-2.5,1.2-1.6-.3-1.2-.8-.9-1.3-.4-1.6 1.1-2.8 1.4-1 1.2-.2zM360.4,334.1l8.8,.1 2.7,1.9 1.8,2.8 .4,3.2-2.5,10.4-1.2,3.1-1.6,1.4-1.6-.5-2.4-3.1-.8,.2-2,1.9-1.2,.3-1.2-1-1-1.9-1.5-7.6-.3-4.8 1.3-4 2.3-2.4z" fill-opacity="0.11" fill-rule="evenodd"/><path d="M393.7,325.7l2,.6 1.1,2.2-.7,2.1-2,1-2.2-.7-1-2 .5-2 1.9-1.2zM360.4,336.4l1.6-.2 2.8,1.2 4-.4 1.3,.7 1.2,1.6 .6,2.8-.4,3.6-1.2,5.2-1.5,2.2-1.2-.4-2-3.7-.8-.5-3.2,4.7-1.2-.2-.8-1-1.2-4.3-.4-5.6 .8-3.6 1.5-2z" fill-opacity="0.11" fill-rule="evenodd"/><path d="M393.7,326.9l1.3,.4 .6,1.2-.3,1.4-1.2,.6-1.5-.4-.6-1.2 .5-1.4 1.1-.6zM360.8,339.6l.8-.1 .8,.6 .8,2.8-.6,4.4-1.4,2.2-1.2-1.2-.6-3.4 .2-3.2 1.1-2z" fill-opacity="0.11" fill-rule="evenodd"/></g><path d="M353.2,334.6l6.8-5.5 4.8-1 16-5.8 2.8-1.7 5.2-4.9 6.2-2.4 4.7-3.1 2.1-.1 .1,1.6-2.3,3.6-.5,1.6 2.4,9.6-.1,2.8-.8,2.4-2.5,2.4-3.6,.8-2.4-.5-1.6-1-3.3-4-1.2-.8-3.2,.2-3.4,2.1-.9,1.2-.1,1.2 2.8,5.2 .3,3.6-1.4,3.2-4.1,5.4-2.9,8.6M358.4,359.3l-1.4-2.8-1.8-6.1-2-3.3M353.2,336l4.4-4.3 2.4-1.8 4.8-.9 16-5.4 2.8-1.6 6-5.4 4.5-1.4 2.8,.2 3.5,10.3 .1,3.2-.7,2.4-1.3,1.6-1.6,1-2,.5-2-.2-3-1.7-2.7-4.4-2.4-.9-3.2,.8-3.8,2.5-.8,1.2-.1,1.2 3.2,5.6 .2,3.6-1.1,2.8-3.6,4.8-3.1,9.6M359,359.3l-1.6-3.2-2.2-7.4-2-3.3M353.2,338.1l2.2-3.2 4.6-4.2 4.4-.7 5.2-1.5 7.3-.8-1.7,2.7-.2,1.7 3.7,6 .5,3.6-.8,2.4-3.4,5.2-3.2,10M360,359.3l-2.2-3.2-2.2-8.1-2.4-4.9M364.5,359.3l-1.6,0M393.3,316.9l2,.4 1.4,1.6 2.3,5.2 .8,3.6-.3,2.4-1.2,2-1.8,1.4-2,.5-2.4-.5-1.7-1-1.4-2-1.4-3.5-3.2-2.5 1.2-2.4 2.8-3.2 2.1-1.4 2.6-.6zM365.8,359.3l-1.8-1.4-3.2,.9-2-1.8-4.6-14.5-.3-2.4 1.4-3.6 4.3-4.8 1.6-.6 3.2-.1 4.8-1.1 2,.4 1.2,.9 4.6,6.1 1,3.2-.5,2.8-3.1,5.5-1.8,6.9-1.6,3.6M391.7,318.8l2,0 1.6,1 3.7,7.1 .1,2-.6,2-1.3,1.6-1.9,.9-2,.1-2-.8-1.5-1.4-.8-1.6-1.5-6.8 1.3-2.4 2.5-1.6zM367,359.3l-2.6-2.7-3.2,1.3-1.2-.4-.8-1-1.7-4.4-2.4-11.6 1.3-4 3.2-3.9 1.6-.6 3.2,.1 4-.8 2,.5 2.4,2.2 3,3.7 .9,2.8-.4,2.4-2.3,5-2.1,8.2-2,3.2M392.1,321.3l1.6,.3 2,1.5 1.6,1.8 1.1,2 .2,2-.4,1.6-1.2,1.6-1.7,.9-2,.2-1.6-.6-1.5-1.3-.8-1.6-.2-2.4 1-4 .7-1.3 1.1-.7zM393.3,323.7l1.6,.2 1.6,1 .9,1.2 .7,2-.1,1.6-.8,1.6-1.1,1-1.6,.5-1.6-.1-1.6-.8-1.6-2.6 0-2 .6-1.6 1.4-1.5 1.4-.5zM361.2,332.9l3.6,.3 3.2-.5 2,.5 3.3,2.9 1.9,3.2 .1,2.8-3.6,12.4-1.3,2.8-1.6,1.2-1.6-.4-2.8-3-2.8,1.7-1.2-.1-1.2-1.3-1.1-2.5-1.9-9.6-.1-3.6 .8-2.4 1.4-2.4 1.3-1.3 1.5-.7zM393.7,324.5l1.6,.3 1.2,.9 1.2,2.8-.3,1.6-.8,1.2-2.5,1.2-1.6-.3-1.2-.8-.9-1.3-.4-1.6 1.1-2.8 1.4-1 1.2-.2zM360.4,334.1l8.8,.1 2.7,1.9 1.8,2.8 .4,3.2-2.5,10.4-1.2,3.1-1.6,1.4-1.6-.5-2.4-3.1-.8,.2-2,1.9-1.2,.3-1.2-1-1-1.9-1.5-7.6-.3-4.8 1.3-4 2.3-2.4zM392.9,325.2l2.4,.3 1.8,2.2-.2,2.4-2,1.8-2.4-.1-1.9-2.1 .1-2.4 .7-1.2 1.3-.8zM360.4,335.2l1.6-.2 2.8,.8 4-.3 2,1.1 1.6,2.3 .5,3.6-1.5,7.6-1.1,3.6-1.5,1.6-1.6-.6-2.4-3.5-3.2,3.3-1.2-.1-1.2-1.6-1.3-5.5-.4-6 .8-3.6 1.9-2.4zM393.7,325.7l2,.6 1.1,2.2-.7,2.1-2,1-2.2-.7-1-2 .5-2 1.9-1.2zM360.4,336.4l1.6-.2 2.8,1.2 4-.4 1.3,.7 1.2,1.6 .6,2.8-.4,3.6-1.2,5.2-1.5,2.2-1.2-.4-2-3.7-.8-.5-3.2,4.7-1.2-.2-.8-1-1.2-4.3-.4-5.6 .8-3.6 1.5-2zM392.9,326.4l2,.1 1.1,1.2 .1,2-1.2,1.2-2,0-1.3-1.2 0-2 1.1-1.2zM360.8,337.7l1.6,.2 2.4,2.1 3.2-1.2 1.2,.4 .8,.9 .6,2-.1,2.4-.8,3.6-.9,1.6-1.2-.4-2.4-4.6-.8,.6-2.4,5.8-1.2,.5-.8-.8-1.1-3.5-.2-4.8 .7-3.2 1.4-1.6zM393.7,326.9l1.3,.4 .6,1.2-.3,1.4-1.2,.6-1.5-.4-.6-1.2 .5-1.4 1.1-.6zM360.8,339.6l.8-.1 .8,.6 .8,2.8-.6,4.4-1.4,2.2-1.2-1.2-.6-3.4 .2-3.2 1.1-2zM393.3,328.1l1.2,0 0,1.2-1.2,.1-.1-1.3zM361.2,343.6l0,1.5-.1-1.4z" fill="none" stroke="#111" stroke-width="0.42" stroke-linejoin="round"/><path d="M361.4,319.9h.8v.8h-.8zM406.8,328.2h.8v.8h-.8zM383.6,318.0h.8v.8h-.8zM407.9,302.8h.8v.8h-.8zM380.2,320.6h.8v.8h-.8zM402.4,318.0h.8v.8h-.8zM401.8,306.4h.8v.8h-.8zM392.1,337.3h.8v.8h-.8zM408.8,309.1h.8v.8h-.8zM364.0,327.1h.8v.8h-.8zM397.9,338.5h.8v.8h-.8zM385.5,338.4h.8v.8h-.8zM385.4,343.1h.8v.8h-.8zM402.9,308.6h.8v.8h-.8zM385.8,339.3h.8v.8h-.8zM395.2,306.7h.8v.8h-.8zM361.6,324.4h.8v.8h-.8zM381.9,320.4h.8v.8h-.8zM401.6,312.7h.8v.8h-.8zM404.3,317.7h.8v.8h-.8zM403.8,306.0h.8v.8h-.8zM382.9,333.2h.8v.8h-.8zM420.3,292.5h.8v.8h-.8zM359.9,328.2h.8v.8h-.8zM394.0,298.6h.8v.8h-.8zM376.1,352.3h.8v.8h-.8zM393.6,344.8h.8v.8h-.8zM365.2,324.7h.8v.8h-.8zM400.0,341.0h.8v.8h-.8zM382.8,309.0h.8v.8h-.8zM370.5,325.1h.8v.8h-.8zM383.1,340.4h.8v.8h-.8zM402.0,319.4h.8v.8h-.8zM377.5,319.0h.8v.8h-.8zM372.9,324.1h.8v.8h-.8zM402.5,336.1h.8v.8h-.8zM377.9,348.6h.8v.8h-.8zM408.0,326.4h.8v.8h-.8zM388.6,313.2h.8v.8h-.8zM390.6,314.9h.8v.8h-.8zM380.4,331.8h.8v.8h-.8zM379.9,322.4h.8v.8h-.8zM363.8,327.3h.8v.8h-.8zM392.0,334.8h.8v.8h-.8zM382.7,337.9h.8v.8h-.8zM402.6,308.8h.8v.8h-.8zM399.8,319.5h.8v.8h-.8zM383.5,341.7h.8v.8h-.8zM361.1,328.6h.8v.8h-.8zM371.1,325.5h.8v.8h-.8zM360.0,326.6h.8v.8h-.8zM382.6,331.5h.8v.8h-.8zM380.2,302.2h.8v.8h-.8zM376.9,351.5h.8v.8h-.8zM367.7,326.4h.8v.8h-.8zM370.1,321.1h.8v.8h-.8zM375.6,320.4h.8v.8h-.8zM394.0,312.2h.8v.8h-.8zM380.1,330.8h.8v.8h-.8zM374.6,355.2h.8v.8h-.8zM413.0,300.5h.8v.8h-.8zM384.4,331.7h.8v.8h-.8zM379.6,353.0h.8v.8h-.8zM382.4,307.3h.8v.8h-.8zM384.2,333.0h.8v.8h-.8zM402.6,313.6h.8v.8h-.8zM403.9,306.9h.8v.8h-.8zM383.9,310.3h.8v.8h-.8zM384.4,312.0h.8v.8h-.8zM382.7,340.8h.8v.8h-.8zM408.1,295.4h.8v.8h-.8zM377.9,349.1h.8v.8h-.8zM387.5,343.2h.8v.8h-.8zM385.0,333.7h.8v.8h-.8zM365.5,327.5h.8v.8h-.8zM400.5,319.1h.8v.8h-.8zM398.3,305.8h.8v.8h-.8zM379.6,347.6h.8v.8h-.8zM410.2,336.4h.8v.8h-.8zM386.5,344.0h.8v.8h-.8zM365.7,312.7h.8v.8h-.8zM396.8,337.1h.8v.8h-.8zM416.5,300.0h.8v.8h-.8zM395.8,310.7h.8v.8h-.8zM379.0,348.9h.8v.8h-.8zM368.5,315.9h.8v.8h-.8zM364.2,326.9h.8v.8h-.8zM404.9,334.1h.8v.8h-.8zM368.3,325.6h.8v.8h-.8zM382.9,335.1h.8v.8h-.8zM360.0,326.2h.8v.8h-.8zM384.5,329.9h.8v.8h-.8zM388.2,331.7h.8v.8h-.8zM358.6,326.9h.8v.8h-.8zM396.6,336.1h.8v.8h-.8zM381.5,332.6h.8v.8h-.8zM389.0,336.7h.8v.8h-.8zM376.2,322.7h.8v.8h-.8zM387.0,331.1h.8v.8h-.8zM401.7,319.4h.8v.8h-.8zM387.7,330.8h.8v.8h-.8zM386.2,329.6h.8v.8h-.8zM401.9,323.2h.8v.8h-.8zM382.2,350.2h.8v.8h-.8zM399.6,335.9h.8v.8h-.8zM380.6,336.1h.8v.8h-.8zM368.2,322.4h.8v.8h-.8zM380.5,348.6h.8v.8h-.8zM399.6,317.1h.8v.8h-.8zM397.6,350.5h.8v.8h-.8z" fill="#333"/>
<ellipse cx="0" cy="0" rx="2.6" ry="2.4" fill="none" fill-opacity="1" stroke="#000" stroke-width="1.8" transform="translate(393.8 328.8) rotate(0)"/>
</g>
<g clip-path="url(#ec3)">
<g fill="#000"><path d="M476.7,308.1l.8-.1 .3,.6-.7,1.6-1.6,1.4-1.4,.2 .2-1.6 2.1-2zM463.8,316.5l4.8,.2 1.2,.8 1.2,1.7 1.9,3.4 .9,3.2-.1,2.8-1.1,2.4-3.6,3.1-3.6,.6-2-.6-1.4-1.1-2.6-5.1-1.6-.2-2,.9-1.3,1.3-.5,1.5 1.4,6.4-.3,3.7-1.5,3.2-3.5,5.5-3.9,9.3-12.3,0-3.5-8.1-2.8-3.2 0-13.8 7.2-7.6 4.5-.2 7.8-2.4 8.3-3.2 5.6-3.5 2.4-.9z" fill-opacity="0.11" fill-rule="evenodd"/><path d="M464.6,318.6l2.4,.2 2,1.4 2,2.8 .8,2.8-.2,3.2-1,2.4-1.6,1.8-2.4,.9-2.8-.4-1.7-1.5-1-2-.2-4-2.3-2.8 .7-1.6 1.6-1.6 3.5-1.6zM452.1,325.4l.8,.1 .2,.7-1.6,2.8-.4,2 1.9,6 0,3.2-1,2.9-2.7,4.7-3.2,9.3-1.8,2.4-3.7,0-2.1-1.6-2.5,.9-1.2-.2-1.8-2.7-2.6-7.3-2.8-4.4 0-6 .5-1.2 4.8-6.8 1.9-1.9 4.5,0 3.6-1.1 9.2-1.8z" fill-opacity="0.11" fill-rule="evenodd"/><path d="M465.4,323.2l1.2,.1 1.6,1 1.5,1.9 .6,2-.6,3.2-1.5,1.5-1.6,.6-1.6,0-1.6-.7-1.2-1.4-.5-1.6 .6-3.2 2.8-3.2zM442.5,329.4l2.8,.3 1.8,1.3 2.8,4.4 .8,3.2-.4,2.5-4.4,13.2-1.6,2.8-1.8,.9-1.2-.4-2.4-2.1-3.3,1.4-1.5-1-1.4-3.2-3.3-11.6 1.2-4.5 2.1-4 1.7-2.3 1.6-.6 3.3,.6 3.1-.9z" fill-opacity="0.11" fill-rule="evenodd"/><path d="M465,325.8l2.4,.2 1.9,2.2-.3,2.8-1,1.2-1.4,.7-2.4-.4-1.7-2.3 .4-2.8 2-1.6zM435.2,331.8l1.2-.1 2.5,.9 3.2-.7 1.6,.2 2.4,1.9 1.7,3 .2,4.1-2,8.8-1.5,3.8-1.6,1.5-1.6-.4-2.4-2.5-2.5,2.1-1.2,.3-1.1-1.2-.8-2-1.6-6.8-.3-4.9 1.5-5.2 1.1-1.8 1.2-1z" fill-opacity="0.11" fill-rule="evenodd"/><path d="M465,326.8l2,.1 1.5,1.7-.2,2-1.3,1.4-2,.1-1.6-1.5-.1-2 1.3-1.6zM435.2,334.1l1.2,0 2.5,1.6 4-.6 1.3,.7 1.1,1.6 .6,2.8-.3,4.5-1.1,4.4-1.6,2.3-1.2-.2-2.4-3-.8,.3-2.5,3.5-.8,0-1-1.3-1.2-4.4-.4-5.2 .8-4.5 1.7-2.4z" fill-opacity="0.11" fill-rule="evenodd"/><path d="M465,328.1l1.2-.2 1,.7 .3,1.2-.9,1.2-1.2,.1-.8-.5-.4-1.2 .6-1.2zM435.2,337.4l.8-.1 .9,.7 1,3.5-.8,4.8-1.5,2.2-1.2-1.5-.6-3.9 .4-3.7 1-2zM442.1,341.2l.5,.7-.1,1.6-.4,0-.4-.8 .1-1.2z" fill-opacity="0.11" fill-rule="evenodd"/></g><path d="M427.6,334.4l7.2-7.6 4.5-.2 7.8-2.4 8.3-3.2 5.6-3.5 2.4-.9 4.4-.1 2.4,1.5 2.3,3.8 1.2,3.2 .1,2.8-.7,2.4-3.3,3.4-2,.9-2,.3-2-.5-1.8-1.3-2.8-5.2-1.9,0-2.4,1.6-.9,2.4 1.4,5.6-.3,4.1-1.5,3.2-3.5,5.5-3.9,9.3M433.9,359.5l-3.5-8.1-2.8-3.2M476.7,308.1l.8-.1 .3,.6-.7,1.6-1.6,1.4-1.4,.2 .2-1.6 2.1-2zM427.6,336l5.9-7.4 1.7-1.2 4.1,.1 8.4-2.5 8.1-2.9 5.2-3.5 2.8-1.1 3.6,.1 1.6,.9 1.2,1.3 2.2,4 .5,3.6-1.3,3.6-2.6,2.6-3.2,.9-2.8-1-1.8-2.1-1-4.1-1.2-.9-2.8,.5-2.9,2.5-.6,2.4 1.6,5.6-.3,3.7-4.3,7.8-2.6,7.4-1.7,3.2M434.9,359.5l-1.9-2.4-2.6-7-2.8-3.6M439.3,359.5l-1.2-.5-1.3,.5M427.6,338.2l5.3-8 1.9-1.9 1.2-.2 2.9,.3 12.4-2.9 1.9,.3-2.1,4.8 1.9,6.4-.1,3.6-3.6,7.2-3,8.9-2,2.8M440.6,359.5l-2.1-1.6-2.9,1-1.6-1.1-3.6-9.2-2.8-4.4M464.6,318.6l2.4,.2 2,1.4 2,2.8 .8,2.8-.2,3.2-1,2.4-1.6,1.8-2.4,.9-2.8-.4-1.7-1.5-1-2-.2-4-2.3-2.8 .7-1.6 1.6-1.6 3.5-1.6zM464.6,320.2l2,.2 2,1.4 1.5,2.4 .8,2.8 0,2.4-.8,2-1.5,1.6-2,.8-2-.1-1.6-.9-1.1-1.4-.5-1.6 .6-4.8-.2-2.8 .9-1.2 1.8-.8zM443.3,328.2l3.2,.1 1.8,.7 3,6.4 .6,3.2-.5,2.9-2.5,5.2-2.9,9.2-1.6,2.4-1.9,.9-1.2-.3-2.4-2.1-3.3,1.1-1.6-1.1-3.2-8.9-2.2-4.4-.4-2.4 1.1-4.1 4.7-7.2 1.6-.9 3.3,.4 4-1.1zM465.4,323.2l1.2,.1 1.6,1 1.5,1.9 .6,2-.6,3.2-1.5,1.5-1.6,.6-1.6,0-1.6-.7-1.2-1.4-.5-1.6 .6-3.2 2.8-3.2zM442.5,329.4l2.8,.3 1.8,1.3 2.8,4.4 .8,3.2-.4,2.5-4.4,13.2-1.6,2.8-1.8,.9-1.2-.4-2.4-2.1-3.3,1.4-1.5-1-1.4-3.2-3.3-11.6 1.2-4.5 2.1-4 1.7-2.3 1.6-.6 3.3,.6 3.1-.9zM465.4,325l1.6,.1 1.2,.6 1.1,1.3 .5,1.6-.6,2.8-1,1.1-1.6,.7-1.6,0-1.6-.8-1.4-2.6 .7-2.8 1.1-1.3 1.5-.7zM442.5,330.6l2,.4 1.6,1.1 1.9,2.5 1.2,2.8 0,3.2-2.9,10.5-1.4,3.7-1.6,1.7-1.6,0-2.8-2.5-2.5,1.6-1.2,.2-1.9-2.7-2.3-8.8-.5-3.2 .5-3.3 2.1-4.8 1.7-2 1.2-.3 2.9,.7 3.5-.8zM465,325.8l2.4,.2 1.9,2.2-.3,2.8-1,1.2-1.4,.7-2.4-.4-1.7-2.3 .4-2.8 2-1.6zM435.2,331.8l1.2-.1 2.5,.9 3.2-.7 1.6,.2 2.4,1.9 1.7,3 .2,4.1-2,8.8-1.5,3.8-1.6,1.5-1.6-.4-2.4-2.5-2.5,2.1-1.2,.3-1.1-1.2-.8-2-1.6-6.8-.3-4.9 1.5-5.2 1.1-1.8 1.2-1zM465.8,326.2l2,.6 1.2,2.2-.7,2.4-2.1,1.2-2.4-.8-1-2 .6-2.4 2.1-1.2zM435.2,332.9l1.2,0 2.5,1.1 4.4-.5 1.7,1.1 1.5,2.4 .5,3.6-1.1,6.5-1.4,4.6-1.6,1.8-1.6-.5-2-2.5-.8,.1-1.6,2.2-1.3,.7-1.1-.8-.8-1.6-1.4-6-.3-4.9 1.1-4.4 1.9-2.8zM465,326.8l2,.1 1.5,1.7-.2,2-1.3,1.4-2,.1-1.6-1.5-.1-2 1.3-1.6zM435.2,334.1l1.2,0 2.5,1.6 4-.6 1.3,.7 1.1,1.6 .6,2.8-.3,4.5-1.1,4.4-1.6,2.3-1.2-.2-2.4-3-.8,.3-2.5,3.5-.8,0-1-1.3-1.2-4.4-.4-5.2 .8-4.5 1.7-2.4zM465,327.4l1.6,0 1.3,1.2 .1,1.6-1.4,1.4-1.6,0-1.3-1.4 .1-1.6 1.2-1.2zM435.6,335.4l1.3,.5 2.4,2.3 2.4-1.2 1.6,.4 1.1,1.6 .4,2.9-.7,4.4-1.2,2.3-1.2-.1-2.4-3.4-.8,.7-1.7,3.7-1.2,1-.8-.5-.8-1.7-.9-6 .8-4.9 .9-1.5 .8-.5zM465,328.1l1.2-.2 1,.7 .3,1.2-.9,1.2-1.2,.1-.8-.5-.4-1.2 .6-1.2zM435.2,337.4l.8-.1 .9,.7 1,3.5-.8,4.8-1.5,2.2-1.2-1.5-.6-3.9 .4-3.7 1-2zM442.1,341.2l.5,.7-.1,1.6-.4,0-.4-.8 .1-1.2zM465.4,329l.9,0-.1,1.1-.8,0-.1-1.1zM435.6,340.1l.8,1 .2,1.6-1,2.7-.8-2.3 .6-2.9z" fill="none" stroke="#111" stroke-width="0.42" stroke-linejoin="round"/><path d="M458.2,332.0h.8v.8h-.8zM477.4,307.0h.8v.8h-.8zM459.7,344.6h.8v.8h-.8zM458.4,329.4h.8v.8h-.8zM479.4,317.6h.8v.8h-.8zM457.1,354.1h.8v.8h-.8zM474.2,349.7h.8v.8h-.8zM451.9,320.4h.8v.8h-.8zM457.8,354.9h.8v.8h-.8zM435.8,321.9h.8v.8h-.8zM459.8,337.0h.8v.8h-.8zM458.3,335.6h.8v.8h-.8zM459.7,345.3h.8v.8h-.8zM478.2,345.4h.8v.8h-.8zM460.5,337.2h.8v.8h-.8zM454.8,331.6h.8v.8h-.8zM435.7,319.6h.8v.8h-.8zM450.0,323.1h.8v.8h-.8zM467.8,315.4h.8v.8h-.8zM486.4,300.9h.8v.8h-.8zM440.0,323.6h.8v.8h-.8zM459.7,335.8h.8v.8h-.8zM452.1,348.4h.8v.8h-.8zM459.7,338.2h.8v.8h-.8zM478.6,307.6h.8v.8h-.8zM457.0,354.4h.8v.8h-.8zM463.5,335.4h.8v.8h-.8zM451.5,355.4h.8v.8h-.8zM475.8,308.1h.8v.8h-.8zM436.2,325.6h.8v.8h-.8zM474.4,330.9h.8v.8h-.8zM449.9,352.3h.8v.8h-.8zM476.0,315.9h.8v.8h-.8zM473.8,313.8h.8v.8h-.8zM451.8,314.6h.8v.8h-.8zM467.0,309.6h.8v.8h-.8zM465.4,347.2h.8v.8h-.8zM431.6,326.6h.8v.8h-.8zM440.2,326.3h.8v.8h-.8zM457.2,333.8h.8v.8h-.8zM478.4,336.8h.8v.8h-.8zM452.8,320.9h.8v.8h-.8zM466.8,349.1h.8v.8h-.8zM471.5,335.6h.8v.8h-.8zM458.9,328.6h.8v.8h-.8zM431.1,327.1h.8v.8h-.8zM435.9,324.4h.8v.8h-.8zM448.1,323.3h.8v.8h-.8zM451.5,350.2h.8v.8h-.8zM437.0,322.6h.8v.8h-.8zM439.1,326.1h.8v.8h-.8zM431.6,319.1h.8v.8h-.8zM465.4,336.6h.8v.8h-.8zM454.3,349.4h.8v.8h-.8zM455.3,319.5h.8v.8h-.8zM455.1,334.9h.8v.8h-.8zM476.9,326.1h.8v.8h-.8zM455.5,352.4h.8v.8h-.8zM485.0,303.5h.8v.8h-.8zM454.9,347.0h.8v.8h-.8zM456.0,304.0h.8v.8h-.8zM458.5,346.3h.8v.8h-.8zM477.3,303.0h.8v.8h-.8zM458.3,330.0h.8v.8h-.8zM479.1,303.1h.8v.8h-.8zM475.7,307.8h.8v.8h-.8zM471.9,334.0h.8v.8h-.8zM459.5,316.0h.8v.8h-.8zM464.5,350.9h.8v.8h-.8zM454.1,331.2h.8v.8h-.8zM465.7,337.7h.8v.8h-.8zM458.6,330.0h.8v.8h-.8zM471.5,314.2h.8v.8h-.8zM455.9,330.3h.8v.8h-.8zM476.6,306.3h.8v.8h-.8zM462.1,311.4h.8v.8h-.8zM468.9,337.7h.8v.8h-.8zM458.9,344.1h.8v.8h-.8zM471.5,336.1h.8v.8h-.8zM474.1,329.9h.8v.8h-.8zM456.4,318.7h.8v.8h-.8zM469.4,334.7h.8v.8h-.8zM457.0,332.7h.8v.8h-.8zM483.3,299.9h.8v.8h-.8zM467.2,342.1h.8v.8h-.8zM475.4,324.6h.8v.8h-.8zM457.7,334.9h.8v.8h-.8zM473.6,309.2h.8v.8h-.8zM455.6,330.7h.8v.8h-.8zM471.0,315.1h.8v.8h-.8zM470.8,318.2h.8v.8h-.8zM449.1,315.6h.8v.8h-.8zM451.2,348.9h.8v.8h-.8zM464.7,312.2h.8v.8h-.8zM481.9,300.4h.8v.8h-.8zM441.9,322.8h.8v.8h-.8zM469.7,333.9h.8v.8h-.8zM479.5,338.9h.8v.8h-.8zM460.1,329.3h.8v.8h-.8zM464.0,336.4h.8v.8h-.8zM481.2,312.1h.8v.8h-.8zM453.8,346.4h.8v.8h-.8zM458.5,335.3h.8v.8h-.8zM446.4,306.6h.8v.8h-.8zM481.0,327.2h.8v.8h-.8zM475.2,312.4h.8v.8h-.8zM462.2,316.0h.8v.8h-.8zM465.4,335.1h.8v.8h-.8zM470.8,316.2h.8v.8h-.8zM453.5,347.1h.8v.8h-.8z" fill="#333"/>
<ellipse cx="0" cy="0" rx="2.4" ry="2.2" fill="none" fill-opacity="1" stroke="#000" stroke-width="1.7" transform="translate(465.8 329.6) rotate(0)"/>
</g>
<rect x="356.2" y="214.6" width="67.3" height="67.7" fill="none" stroke="#222" stroke-width="0.9"/>
<line x1="381.5" y1="214.6" x2="381.5" y2="282.3" stroke="#222" stroke-width="0.8"/>
<line x1="356.2" y1="260.8" x2="423.5" y2="260.8" stroke="#222" stroke-width="0.8"/>
<line x1="357.2" y1="282.3" x2="357.2" y2="284.3" stroke="#222" stroke-width="0.7"/>
<line x1="359.18" y1="282.3" x2="359.18" y2="283.5" stroke="#222" stroke-width="0.7"/>
<line x1="361.16" y1="282.3" x2="361.16" y2="283.5" stroke="#222" stroke-width="0.7"/>
<line x1="363.14" y1="282.3" x2="363.14" y2="283.5" stroke="#222" stroke-width="0.7"/>
<line x1="365.12" y1="282.3" x2="365.12" y2="283.5" stroke="#222" stroke-width="0.7"/>
<line x1="367.09" y1="282.3" x2="367.09" y2="283.5" stroke="#222" stroke-width="0.7"/>
<line x1="369.07" y1="282.3" x2="369.07" y2="284.3" stroke="#222" stroke-width="0.7"/>
<line x1="371.05" y1="282.3" x2="371.05" y2="283.5" stroke="#222" stroke-width="0.7"/>
<line x1="373.03" y1="282.3" x2="373.03" y2="283.5" stroke="#222" stroke-width="0.7"/>
<line x1="375.01" y1="282.3" x2="375.01" y2="283.5" stroke="#222" stroke-width="0.7"/>
<line x1="376.99" y1="282.3" x2="376.99" y2="283.5" stroke="#222" stroke-width="0.7"/>
<line x1="378.97" y1="282.3" x2="378.97" y2="283.5" stroke="#222" stroke-width="0.7"/>
<line x1="380.95" y1="282.3" x2="380.95" y2="284.3" stroke="#222" stroke-width="0.7"/>
<line x1="382.92" y1="282.3" x2="382.92" y2="283.5" stroke="#222" stroke-width="0.7"/>
<line x1="384.9" y1="282.3" x2="384.9" y2="283.5" stroke="#222" stroke-width="0.7"/>
<line x1="386.88" y1="282.3" x2="386.88" y2="283.5" stroke="#222" stroke-width="0.7"/>
<line x1="388.86" y1="282.3" x2="388.86" y2="283.5" stroke="#222" stroke-width="0.7"/>
<line x1="390.84" y1="282.3" x2="390.84" y2="283.5" stroke="#222" stroke-width="0.7"/>
<line x1="392.82" y1="282.3" x2="392.82" y2="284.3" stroke="#222" stroke-width="0.7"/>
<line x1="394.8" y1="282.3" x2="394.8" y2="283.5" stroke="#222" stroke-width="0.7"/>
<line x1="396.78" y1="282.3" x2="396.78" y2="283.5" stroke="#222" stroke-width="0.7"/>
<line x1="398.75" y1="282.3" x2="398.75" y2="283.5" stroke="#222" stroke-width="0.7"/>
<line x1="400.73" y1="282.3" x2="400.73" y2="283.5" stroke="#222" stroke-width="0.7"/>
<line x1="402.71" y1="282.3" x2="402.71" y2="283.5" stroke="#222" stroke-width="0.7"/>
<line x1="404.69" y1="282.3" x2="404.69" y2="284.3" stroke="#222" stroke-width="0.7"/>
<line x1="406.67" y1="282.3" x2="406.67" y2="283.5" stroke="#222" stroke-width="0.7"/>
<line x1="408.65" y1="282.3" x2="408.65" y2="283.5" stroke="#222" stroke-width="0.7"/>
<line x1="410.63" y1="282.3" x2="410.63" y2="283.5" stroke="#222" stroke-width="0.7"/>
<line x1="412.61" y1="282.3" x2="412.61" y2="283.5" stroke="#222" stroke-width="0.7"/>
<line x1="414.58" y1="282.3" x2="414.58" y2="283.5" stroke="#222" stroke-width="0.7"/>
<line x1="416.56" y1="282.3" x2="416.56" y2="284.3" stroke="#222" stroke-width="0.7"/>
<line x1="418.54" y1="282.3" x2="418.54" y2="283.5" stroke="#222" stroke-width="0.7"/>
<line x1="420.52" y1="282.3" x2="420.52" y2="283.5" stroke="#222" stroke-width="0.7"/>
<line x1="422.5" y1="282.3" x2="422.5" y2="283.5" stroke="#222" stroke-width="0.7"/>
<line x1="354.2" y1="216.6" x2="356.2" y2="216.6" stroke="#222" stroke-width="0.7"/>
<line x1="355" y1="218.83" x2="356.2" y2="218.83" stroke="#222" stroke-width="0.7"/>
<line x1="355" y1="221.06" x2="356.2" y2="221.06" stroke="#222" stroke-width="0.7"/>
<line x1="355" y1="223.29" x2="356.2" y2="223.29" stroke="#222" stroke-width="0.7"/>
<line x1="355" y1="225.52" x2="356.2" y2="225.52" stroke="#222" stroke-width="0.7"/>
<line x1="355" y1="227.76" x2="356.2" y2="227.76" stroke="#222" stroke-width="0.7"/>
<line x1="354.2" y1="229.99" x2="356.2" y2="229.99" stroke="#222" stroke-width="0.7"/>
<line x1="355" y1="232.22" x2="356.2" y2="232.22" stroke="#222" stroke-width="0.7"/>
<line x1="355" y1="234.45" x2="356.2" y2="234.45" stroke="#222" stroke-width="0.7"/>
<line x1="355" y1="236.68" x2="356.2" y2="236.68" stroke="#222" stroke-width="0.7"/>
<line x1="355" y1="238.91" x2="356.2" y2="238.91" stroke="#222" stroke-width="0.7"/>
<line x1="355" y1="241.14" x2="356.2" y2="241.14" stroke="#222" stroke-width="0.7"/>
<line x1="354.2" y1="243.37" x2="356.2" y2="243.37" stroke="#222" stroke-width="0.7"/>
<line x1="355" y1="245.6" x2="356.2" y2="245.6" stroke="#222" stroke-width="0.7"/>
<line x1="355" y1="247.83" x2="356.2" y2="247.83" stroke="#222" stroke-width="0.7"/>
<line x1="355" y1="250.07" x2="356.2" y2="250.07" stroke="#222" stroke-width="0.7"/>
<line x1="355" y1="252.3" x2="356.2" y2="252.3" stroke="#222" stroke-width="0.7"/>
<line x1="355" y1="254.53" x2="356.2" y2="254.53" stroke="#222" stroke-width="0.7"/>
<line x1="354.2" y1="256.76" x2="356.2" y2="256.76" stroke="#222" stroke-width="0.7"/>
<line x1="355" y1="258.99" x2="356.2" y2="258.99" stroke="#222" stroke-width="0.7"/>
<line x1="355" y1="261.22" x2="356.2" y2="261.22" stroke="#222" stroke-width="0.7"/>
<line x1="355" y1="263.45" x2="356.2" y2="263.45" stroke="#222" stroke-width="0.7"/>
<line x1="355" y1="265.68" x2="356.2" y2="265.68" stroke="#222" stroke-width="0.7"/>
<line x1="355" y1="267.91" x2="356.2" y2="267.91" stroke="#222" stroke-width="0.7"/>
<line x1="354.2" y1="270.14" x2="356.2" y2="270.14" stroke="#222" stroke-width="0.7"/>
<line x1="355" y1="272.38" x2="356.2" y2="272.38" stroke="#222" stroke-width="0.7"/>
<line x1="355" y1="274.61" x2="356.2" y2="274.61" stroke="#222" stroke-width="0.7"/>
<line x1="355" y1="276.84" x2="356.2" y2="276.84" stroke="#222" stroke-width="0.7"/>
<line x1="355" y1="279.07" x2="356.2" y2="279.07" stroke="#222" stroke-width="0.7"/>
<line x1="355" y1="281.3" x2="356.2" y2="281.3" stroke="#222" stroke-width="0.7"/>
<rect x="430.5" y="214.6" width="67.3" height="67.7" fill="none" stroke="#222" stroke-width="0.9"/>
<line x1="455.8" y1="214.6" x2="455.8" y2="282.3" stroke="#222" stroke-width="0.8"/>
<line x1="430.5" y1="261.2" x2="497.8" y2="261.2" stroke="#222" stroke-width="0.8"/>
<line x1="431.5" y1="282.3" x2="431.5" y2="284.3" stroke="#222" stroke-width="0.7"/>
<line x1="433.48" y1="282.3" x2="433.48" y2="283.5" stroke="#222" stroke-width="0.7"/>
<line x1="435.46" y1="282.3" x2="435.46" y2="283.5" stroke="#222" stroke-width="0.7"/>
<line x1="437.44" y1="282.3" x2="437.44" y2="283.5" stroke="#222" stroke-width="0.7"/>
<line x1="439.42" y1="282.3" x2="439.42" y2="283.5" stroke="#222" stroke-width="0.7"/>
<line x1="441.39" y1="282.3" x2="441.39" y2="283.5" stroke="#222" stroke-width="0.7"/>
<line x1="443.37" y1="282.3" x2="443.37" y2="284.3" stroke="#222" stroke-width="0.7"/>
<line x1="445.35" y1="282.3" x2="445.35" y2="283.5" stroke="#222" stroke-width="0.7"/>
<line x1="447.33" y1="282.3" x2="447.33" y2="283.5" stroke="#222" stroke-width="0.7"/>
<line x1="449.31" y1="282.3" x2="449.31" y2="283.5" stroke="#222" stroke-width="0.7"/>
<line x1="451.29" y1="282.3" x2="451.29" y2="283.5" stroke="#222" stroke-width="0.7"/>
<line x1="453.27" y1="282.3" x2="453.27" y2="283.5" stroke="#222" stroke-width="0.7"/>
<line x1="455.25" y1="282.3" x2="455.25" y2="284.3" stroke="#222" stroke-width="0.7"/>
<line x1="457.22" y1="282.3" x2="457.22" y2="283.5" stroke="#222" stroke-width="0.7"/>
<line x1="459.2" y1="282.3" x2="459.2" y2="283.5" stroke="#222" stroke-width="0.7"/>
<line x1="461.18" y1="282.3" x2="461.18" y2="283.5" stroke="#222" stroke-width="0.7"/>
<line x1="463.16" y1="282.3" x2="463.16" y2="283.5" stroke="#222" stroke-width="0.7"/>
<line x1="465.14" y1="282.3" x2="465.14" y2="283.5" stroke="#222" stroke-width="0.7"/>
<line x1="467.12" y1="282.3" x2="467.12" y2="284.3" stroke="#222" stroke-width="0.7"/>
<line x1="469.1" y1="282.3" x2="469.1" y2="283.5" stroke="#222" stroke-width="0.7"/>
<line x1="471.08" y1="282.3" x2="471.08" y2="283.5" stroke="#222" stroke-width="0.7"/>
<line x1="473.05" y1="282.3" x2="473.05" y2="283.5" stroke="#222" stroke-width="0.7"/>
<line x1="475.03" y1="282.3" x2="475.03" y2="283.5" stroke="#222" stroke-width="0.7"/>
<line x1="477.01" y1="282.3" x2="477.01" y2="283.5" stroke="#222" stroke-width="0.7"/>
<line x1="478.99" y1="282.3" x2="478.99" y2="284.3" stroke="#222" stroke-width="0.7"/>
<line x1="480.97" y1="282.3" x2="480.97" y2="283.5" stroke="#222" stroke-width="0.7"/>
<line x1="482.95" y1="282.3" x2="482.95" y2="283.5" stroke="#222" stroke-width="0.7"/>
<line x1="484.93" y1="282.3" x2="484.93" y2="283.5" stroke="#222" stroke-width="0.7"/>
<line x1="486.91" y1="282.3" x2="486.91" y2="283.5" stroke="#222" stroke-width="0.7"/>
<line x1="488.88" y1="282.3" x2="488.88" y2="283.5" stroke="#222" stroke-width="0.7"/>
<line x1="490.86" y1="282.3" x2="490.86" y2="284.3" stroke="#222" stroke-width="0.7"/>
<line x1="492.84" y1="282.3" x2="492.84" y2="283.5" stroke="#222" stroke-width="0.7"/>
<line x1="494.82" y1="282.3" x2="494.82" y2="283.5" stroke="#222" stroke-width="0.7"/>
<line x1="496.8" y1="282.3" x2="496.8" y2="283.5" stroke="#222" stroke-width="0.7"/>
<line x1="428.5" y1="216.6" x2="430.5" y2="216.6" stroke="#222" stroke-width="0.7"/>
<line x1="429.3" y1="218.83" x2="430.5" y2="218.83" stroke="#222" stroke-width="0.7"/>
<line x1="429.3" y1="221.06" x2="430.5" y2="221.06" stroke="#222" stroke-width="0.7"/>
<line x1="429.3" y1="223.29" x2="430.5" y2="223.29" stroke="#222" stroke-width="0.7"/>
<line x1="429.3" y1="225.52" x2="430.5" y2="225.52" stroke="#222" stroke-width="0.7"/>
<line x1="429.3" y1="227.76" x2="430.5" y2="227.76" stroke="#222" stroke-width="0.7"/>
<line x1="428.5" y1="229.99" x2="430.5" y2="229.99" stroke="#222" stroke-width="0.7"/>
<line x1="429.3" y1="232.22" x2="430.5" y2="232.22" stroke="#222" stroke-width="0.7"/>
<line x1="429.3" y1="234.45" x2="430.5" y2="234.45" stroke="#222" stroke-width="0.7"/>
<line x1="429.3" y1="236.68" x2="430.5" y2="236.68" stroke="#222" stroke-width="0.7"/>
<line x1="429.3" y1="238.91" x2="430.5" y2="238.91" stroke="#222" stroke-width="0.7"/>
<line x1="429.3" y1="241.14" x2="430.5" y2="241.14" stroke="#222" stroke-width="0.7"/>
<line x1="428.5" y1="243.37" x2="430.5" y2="243.37" stroke="#222" stroke-width="0.7"/>
<line x1="429.3" y1="245.6" x2="430.5" y2="245.6" stroke="#222" stroke-width="0.7"/>
<line x1="429.3" y1="247.83" x2="430.5" y2="247.83" stroke="#222" stroke-width="0.7"/>
<line x1="429.3" y1="250.07" x2="430.5" y2="250.07" stroke="#222" stroke-width="0.7"/>
<line x1="429.3" y1="252.3" x2="430.5" y2="252.3" stroke="#222" stroke-width="0.7"/>
<line x1="429.3" y1="254.53" x2="430.5" y2="254.53" stroke="#222" stroke-width="0.7"/>
<line x1="428.5" y1="256.76" x2="430.5" y2="256.76" stroke="#222" stroke-width="0.7"/>
<line x1="429.3" y1="258.99" x2="430.5" y2="258.99" stroke="#222" stroke-width="0.7"/>
<line x1="429.3" y1="261.22" x2="430.5" y2="261.22" stroke="#222" stroke-width="0.7"/>
<line x1="429.3" y1="263.45" x2="430.5" y2="263.45" stroke="#222" stroke-width="0.7"/>
<line x1="429.3" y1="265.68" x2="430.5" y2="265.68" stroke="#222" stroke-width="0.7"/>
<line x1="429.3" y1="267.91" x2="430.5" y2="267.91" stroke="#222" stroke-width="0.7"/>
<line x1="428.5" y1="270.14" x2="430.5" y2="270.14" stroke="#222" stroke-width="0.7"/>
<line x1="429.3" y1="272.38" x2="430.5" y2="272.38" stroke="#222" stroke-width="0.7"/>
<line x1="429.3" y1="274.61" x2="430.5" y2="274.61" stroke="#222" stroke-width="0.7"/>
<line x1="429.3" y1="276.84" x2="430.5" y2="276.84" stroke="#222" stroke-width="0.7"/>
<line x1="429.3" y1="279.07" x2="430.5" y2="279.07" stroke="#222" stroke-width="0.7"/>
<line x1="429.3" y1="281.3" x2="430.5" y2="281.3" stroke="#222" stroke-width="0.7"/>
<rect x="356.2" y="288.3" width="67.3" height="68" fill="none" stroke="#222" stroke-width="0.9"/>
<line x1="381.5" y1="288.3" x2="381.5" y2="356.3" stroke="#222" stroke-width="0.8"/>
<line x1="356.2" y1="334.2" x2="423.5" y2="334.2" stroke="#222" stroke-width="0.8"/>
<line x1="357.2" y1="356.3" x2="357.2" y2="358.3" stroke="#222" stroke-width="0.7"/>
<line x1="359.18" y1="356.3" x2="359.18" y2="357.5" stroke="#222" stroke-width="0.7"/>
<line x1="361.16" y1="356.3" x2="361.16" y2="357.5" stroke="#222" stroke-width="0.7"/>
<line x1="363.14" y1="356.3" x2="363.14" y2="357.5" stroke="#222" stroke-width="0.7"/>
<line x1="365.12" y1="356.3" x2="365.12" y2="357.5" stroke="#222" stroke-width="0.7"/>
<line x1="367.09" y1="356.3" x2="367.09" y2="357.5" stroke="#222" stroke-width="0.7"/>
<line x1="369.07" y1="356.3" x2="369.07" y2="358.3" stroke="#222" stroke-width="0.7"/>
<line x1="371.05" y1="356.3" x2="371.05" y2="357.5" stroke="#222" stroke-width="0.7"/>
<line x1="373.03" y1="356.3" x2="373.03" y2="357.5" stroke="#222" stroke-width="0.7"/>
<line x1="375.01" y1="356.3" x2="375.01" y2="357.5" stroke="#222" stroke-width="0.7"/>
<line x1="376.99" y1="356.3" x2="376.99" y2="357.5" stroke="#222" stroke-width="0.7"/>
<line x1="378.97" y1="356.3" x2="378.97" y2="357.5" stroke="#222" stroke-width="0.7"/>
<line x1="380.95" y1="356.3" x2="380.95" y2="358.3" stroke="#222" stroke-width="0.7"/>
<line x1="382.92" y1="356.3" x2="382.92" y2="357.5" stroke="#222" stroke-width="0.7"/>
<line x1="384.9" y1="356.3" x2="384.9" y2="357.5" stroke="#222" stroke-width="0.7"/>
<line x1="386.88" y1="356.3" x2="386.88" y2="357.5" stroke="#222" stroke-width="0.7"/>
<line x1="388.86" y1="356.3" x2="388.86" y2="357.5" stroke="#222" stroke-width="0.7"/>
<line x1="390.84" y1="356.3" x2="390.84" y2="357.5" stroke="#222" stroke-width="0.7"/>
<line x1="392.82" y1="356.3" x2="392.82" y2="358.3" stroke="#222" stroke-width="0.7"/>
<line x1="394.8" y1="356.3" x2="394.8" y2="357.5" stroke="#222" stroke-width="0.7"/>
<line x1="396.78" y1="356.3" x2="396.78" y2="357.5" stroke="#222" stroke-width="0.7"/>
<line x1="398.75" y1="356.3" x2="398.75" y2="357.5" stroke="#222" stroke-width="0.7"/>
<line x1="400.73" y1="356.3" x2="400.73" y2="357.5" stroke="#222" stroke-width="0.7"/>
<line x1="402.71" y1="356.3" x2="402.71" y2="357.5" stroke="#222" stroke-width="0.7"/>
<line x1="404.69" y1="356.3" x2="404.69" y2="358.3" stroke="#222" stroke-width="0.7"/>
<line x1="406.67" y1="356.3" x2="406.67" y2="357.5" stroke="#222" stroke-width="0.7"/>
<line x1="408.65" y1="356.3" x2="408.65" y2="357.5" stroke="#222" stroke-width="0.7"/>
<line x1="410.63" y1="356.3" x2="410.63" y2="357.5" stroke="#222" stroke-width="0.7"/>
<line x1="412.61" y1="356.3" x2="412.61" y2="357.5" stroke="#222" stroke-width="0.7"/>
<line x1="414.58" y1="356.3" x2="414.58" y2="357.5" stroke="#222" stroke-width="0.7"/>
<line x1="416.56" y1="356.3" x2="416.56" y2="358.3" stroke="#222" stroke-width="0.7"/>
<line x1="418.54" y1="356.3" x2="418.54" y2="357.5" stroke="#222" stroke-width="0.7"/>
<line x1="420.52" y1="356.3" x2="420.52" y2="357.5" stroke="#222" stroke-width="0.7"/>
<line x1="422.5" y1="356.3" x2="422.5" y2="357.5" stroke="#222" stroke-width="0.7"/>
<line x1="354.2" y1="290.3" x2="356.2" y2="290.3" stroke="#222" stroke-width="0.7"/>
<line x1="355" y1="292.54" x2="356.2" y2="292.54" stroke="#222" stroke-width="0.7"/>
<line x1="355" y1="294.78" x2="356.2" y2="294.78" stroke="#222" stroke-width="0.7"/>
<line x1="355" y1="297.02" x2="356.2" y2="297.02" stroke="#222" stroke-width="0.7"/>
<line x1="355" y1="299.27" x2="356.2" y2="299.27" stroke="#222" stroke-width="0.7"/>
<line x1="355" y1="301.51" x2="356.2" y2="301.51" stroke="#222" stroke-width="0.7"/>
<line x1="354.2" y1="303.75" x2="356.2" y2="303.75" stroke="#222" stroke-width="0.7"/>
<line x1="355" y1="305.99" x2="356.2" y2="305.99" stroke="#222" stroke-width="0.7"/>
<line x1="355" y1="308.23" x2="356.2" y2="308.23" stroke="#222" stroke-width="0.7"/>
<line x1="355" y1="310.47" x2="356.2" y2="310.47" stroke="#222" stroke-width="0.7"/>
<line x1="355" y1="312.71" x2="356.2" y2="312.71" stroke="#222" stroke-width="0.7"/>
<line x1="355" y1="314.96" x2="356.2" y2="314.96" stroke="#222" stroke-width="0.7"/>
<line x1="354.2" y1="317.2" x2="356.2" y2="317.2" stroke="#222" stroke-width="0.7"/>
<line x1="355" y1="319.44" x2="356.2" y2="319.44" stroke="#222" stroke-width="0.7"/>
<line x1="355" y1="321.68" x2="356.2" y2="321.68" stroke="#222" stroke-width="0.7"/>
<line x1="355" y1="323.92" x2="356.2" y2="323.92" stroke="#222" stroke-width="0.7"/>
<line x1="355" y1="326.16" x2="356.2" y2="326.16" stroke="#222" stroke-width="0.7"/>
<line x1="355" y1="328.4" x2="356.2" y2="328.4" stroke="#222" stroke-width="0.7"/>
<line x1="354.2" y1="330.64" x2="356.2" y2="330.64" stroke="#222" stroke-width="0.7"/>
<line x1="355" y1="332.89" x2="356.2" y2="332.89" stroke="#222" stroke-width="0.7"/>
<line x1="355" y1="335.13" x2="356.2" y2="335.13" stroke="#222" stroke-width="0.7"/>
<line x1="355" y1="337.37" x2="356.2" y2="337.37" stroke="#222" stroke-width="0.7"/>
<line x1="355" y1="339.61" x2="356.2" y2="339.61" stroke="#222" stroke-width="0.7"/>
<line x1="355" y1="341.85" x2="356.2" y2="341.85" stroke="#222" stroke-width="0.7"/>
<line x1="354.2" y1="344.09" x2="356.2" y2="344.09" stroke="#222" stroke-width="0.7"/>
<line x1="355" y1="346.33" x2="356.2" y2="346.33" stroke="#222" stroke-width="0.7"/>
<line x1="355" y1="348.58" x2="356.2" y2="348.58" stroke="#222" stroke-width="0.7"/>
<line x1="355" y1="350.82" x2="356.2" y2="350.82" stroke="#222" stroke-width="0.7"/>
<line x1="355" y1="353.06" x2="356.2" y2="353.06" stroke="#222" stroke-width="0.7"/>
<line x1="355" y1="355.3" x2="356.2" y2="355.3" stroke="#222" stroke-width="0.7"/>
<rect x="430.6" y="288.3" width="67.2" height="68.2" fill="none" stroke="#222" stroke-width="0.9"/>
<line x1="456" y1="288.3" x2="456" y2="356.5" stroke="#222" stroke-width="0.8"/>
<line x1="430.6" y1="334.2" x2="497.8" y2="334.2" stroke="#222" stroke-width="0.8"/>
<line x1="431.6" y1="356.5" x2="431.6" y2="358.5" stroke="#222" stroke-width="0.7"/>
<line x1="433.58" y1="356.5" x2="433.58" y2="357.7" stroke="#222" stroke-width="0.7"/>
<line x1="435.55" y1="356.5" x2="435.55" y2="357.7" stroke="#222" stroke-width="0.7"/>
<line x1="437.53" y1="356.5" x2="437.53" y2="357.7" stroke="#222" stroke-width="0.7"/>
<line x1="439.5" y1="356.5" x2="439.5" y2="357.7" stroke="#222" stroke-width="0.7"/>
<line x1="441.48" y1="356.5" x2="441.48" y2="357.7" stroke="#222" stroke-width="0.7"/>
<line x1="443.45" y1="356.5" x2="443.45" y2="358.5" stroke="#222" stroke-width="0.7"/>
<line x1="445.43" y1="356.5" x2="445.43" y2="357.7" stroke="#222" stroke-width="0.7"/>
<line x1="447.41" y1="356.5" x2="447.41" y2="357.7" stroke="#222" stroke-width="0.7"/>
<line x1="449.38" y1="356.5" x2="449.38" y2="357.7" stroke="#222" stroke-width="0.7"/>
<line x1="451.36" y1="356.5" x2="451.36" y2="357.7" stroke="#222" stroke-width="0.7"/>
<line x1="453.33" y1="356.5" x2="453.33" y2="357.7" stroke="#222" stroke-width="0.7"/>
<line x1="455.31" y1="356.5" x2="455.31" y2="358.5" stroke="#222" stroke-width="0.7"/>
<line x1="457.28" y1="356.5" x2="457.28" y2="357.7" stroke="#222" stroke-width="0.7"/>
<line x1="459.26" y1="356.5" x2="459.26" y2="357.7" stroke="#222" stroke-width="0.7"/>
<line x1="461.24" y1="356.5" x2="461.24" y2="357.7" stroke="#222" stroke-width="0.7"/>
<line x1="463.21" y1="356.5" x2="463.21" y2="357.7" stroke="#222" stroke-width="0.7"/>
<line x1="465.19" y1="356.5" x2="465.19" y2="357.7" stroke="#222" stroke-width="0.7"/>
<line x1="467.16" y1="356.5" x2="467.16" y2="358.5" stroke="#222" stroke-width="0.7"/>
<line x1="469.14" y1="356.5" x2="469.14" y2="357.7" stroke="#222" stroke-width="0.7"/>
<line x1="471.12" y1="356.5" x2="471.12" y2="357.7" stroke="#222" stroke-width="0.7"/>
<line x1="473.09" y1="356.5" x2="473.09" y2="357.7" stroke="#222" stroke-width="0.7"/>
<line x1="475.07" y1="356.5" x2="475.07" y2="357.7" stroke="#222" stroke-width="0.7"/>
<line x1="477.04" y1="356.5" x2="477.04" y2="357.7" stroke="#222" stroke-width="0.7"/>
<line x1="479.02" y1="356.5" x2="479.02" y2="358.5" stroke="#222" stroke-width="0.7"/>
<line x1="480.99" y1="356.5" x2="480.99" y2="357.7" stroke="#222" stroke-width="0.7"/>
<line x1="482.97" y1="356.5" x2="482.97" y2="357.7" stroke="#222" stroke-width="0.7"/>
<line x1="484.95" y1="356.5" x2="484.95" y2="357.7" stroke="#222" stroke-width="0.7"/>
<line x1="486.92" y1="356.5" x2="486.92" y2="357.7" stroke="#222" stroke-width="0.7"/>
<line x1="488.9" y1="356.5" x2="488.9" y2="357.7" stroke="#222" stroke-width="0.7"/>
<line x1="490.87" y1="356.5" x2="490.87" y2="358.5" stroke="#222" stroke-width="0.7"/>
<line x1="492.85" y1="356.5" x2="492.85" y2="357.7" stroke="#222" stroke-width="0.7"/>
<line x1="494.82" y1="356.5" x2="494.82" y2="357.7" stroke="#222" stroke-width="0.7"/>
<line x1="496.8" y1="356.5" x2="496.8" y2="357.7" stroke="#222" stroke-width="0.7"/>
<line x1="428.6" y1="290.3" x2="430.6" y2="290.3" stroke="#222" stroke-width="0.7"/>
<line x1="429.4" y1="292.55" x2="430.6" y2="292.55" stroke="#222" stroke-width="0.7"/>
<line x1="429.4" y1="294.8" x2="430.6" y2="294.8" stroke="#222" stroke-width="0.7"/>
<line x1="429.4" y1="297.04" x2="430.6" y2="297.04" stroke="#222" stroke-width="0.7"/>
<line x1="429.4" y1="299.29" x2="430.6" y2="299.29" stroke="#222" stroke-width="0.7"/>
<line x1="429.4" y1="301.54" x2="430.6" y2="301.54" stroke="#222" stroke-width="0.7"/>
<line x1="428.6" y1="303.79" x2="430.6" y2="303.79" stroke="#222" stroke-width="0.7"/>
<line x1="429.4" y1="306.04" x2="430.6" y2="306.04" stroke="#222" stroke-width="0.7"/>
<line x1="429.4" y1="308.29" x2="430.6" y2="308.29" stroke="#222" stroke-width="0.7"/>
<line x1="429.4" y1="310.53" x2="430.6" y2="310.53" stroke="#222" stroke-width="0.7"/>
<line x1="429.4" y1="312.78" x2="430.6" y2="312.78" stroke="#222" stroke-width="0.7"/>
<line x1="429.4" y1="315.03" x2="430.6" y2="315.03" stroke="#222" stroke-width="0.7"/>
<line x1="428.6" y1="317.28" x2="430.6" y2="317.28" stroke="#222" stroke-width="0.7"/>
<line x1="429.4" y1="319.53" x2="430.6" y2="319.53" stroke="#222" stroke-width="0.7"/>
<line x1="429.4" y1="321.78" x2="430.6" y2="321.78" stroke="#222" stroke-width="0.7"/>
<line x1="429.4" y1="324.02" x2="430.6" y2="324.02" stroke="#222" stroke-width="0.7"/>
<line x1="429.4" y1="326.27" x2="430.6" y2="326.27" stroke="#222" stroke-width="0.7"/>
<line x1="429.4" y1="328.52" x2="430.6" y2="328.52" stroke="#222" stroke-width="0.7"/>
<line x1="428.6" y1="330.77" x2="430.6" y2="330.77" stroke="#222" stroke-width="0.7"/>
<line x1="429.4" y1="333.02" x2="430.6" y2="333.02" stroke="#222" stroke-width="0.7"/>
<line x1="429.4" y1="335.27" x2="430.6" y2="335.27" stroke="#222" stroke-width="0.7"/>
<line x1="429.4" y1="337.51" x2="430.6" y2="337.51" stroke="#222" stroke-width="0.7"/>
<line x1="429.4" y1="339.76" x2="430.6" y2="339.76" stroke="#222" stroke-width="0.7"/>
<line x1="429.4" y1="342.01" x2="430.6" y2="342.01" stroke="#222" stroke-width="0.7"/>
<line x1="428.6" y1="344.26" x2="430.6" y2="344.26" stroke="#222" stroke-width="0.7"/>
<line x1="429.4" y1="346.51" x2="430.6" y2="346.51" stroke="#222" stroke-width="0.7"/>
<line x1="429.4" y1="348.76" x2="430.6" y2="348.76" stroke="#222" stroke-width="0.7"/>
<line x1="429.4" y1="351" x2="430.6" y2="351" stroke="#222" stroke-width="0.7"/>
<line x1="429.4" y1="353.25" x2="430.6" y2="353.25" stroke="#222" stroke-width="0.7"/>
<line x1="429.4" y1="355.5" x2="430.6" y2="355.5" stroke="#222" stroke-width="0.7"/>
<text font-size="6.6" text-anchor="middle" fill="#111" transform="translate(361.5 221.6) scale(1.08 1)" stroke="#111" stroke-width="0.15">16</text>
<text font-size="6.6" text-anchor="middle" fill="#111" transform="translate(417.7 221.6) scale(1.08 1)" stroke="#111" stroke-width="0.15">13</text>
<rect x="357.73" y="275.2" width="8.54" height="6.6" fill="#fff" stroke="none" stroke-width="1"/>
<text font-size="6.6" text-anchor="middle" fill="#111" transform="translate(362 280.9) scale(1.08 1)" stroke="#111" stroke-width="0.15">70</text>
<text font-size="6.6" text-anchor="middle" fill="#111" transform="translate(417 280.9) scale(1.08 1)" stroke="#111" stroke-width="0.15">0.5</text>
<text font-size="6.6" text-anchor="middle" fill="#111" transform="translate(435.4 221.6) scale(1.08 1)" stroke="#111" stroke-width="0.15">16</text>
<text font-size="6.6" text-anchor="middle" fill="#111" transform="translate(491 221.6) scale(1.08 1)" stroke="#111" stroke-width="0.15">9.5</text>
<rect x="431.53" y="275.2" width="8.54" height="6.6" fill="#fff" stroke="none" stroke-width="1"/>
<text font-size="6.6" text-anchor="middle" fill="#111" transform="translate(435.8 280.9) scale(1.08 1)" stroke="#111" stroke-width="0.15">74</text>
<text font-size="6.6" text-anchor="middle" fill="#111" transform="translate(490.8 280.9) scale(1.08 1)" stroke="#111" stroke-width="0.15">0.7</text>
<text font-size="6.6" text-anchor="middle" fill="#111" transform="translate(361.5 295.9) scale(1.08 1)" stroke="#111" stroke-width="0.15">13</text>
<text font-size="6.6" text-anchor="middle" fill="#111" transform="translate(417.5 295.9) scale(1.08 1)" stroke="#111" stroke-width="0.15">28</text>
<rect x="357.23" y="348.7" width="8.54" height="6.6" fill="#fff" stroke="none" stroke-width="1"/>
<text font-size="6.6" text-anchor="middle" fill="#111" transform="translate(361.5 354.4) scale(1.08 1)" stroke="#111" stroke-width="0.15">57</text>
<text font-size="6.6" text-anchor="middle" fill="#111" transform="translate(417.4 354.4) scale(1.08 1)" stroke="#111" stroke-width="0.15">1.7</text>
<text font-size="6.6" text-anchor="middle" fill="#111" transform="translate(435.4 295.9) scale(1.08 1)" stroke="#111" stroke-width="0.15">24</text>
<text font-size="6.6" text-anchor="middle" fill="#111" transform="translate(492 295.9) scale(1.08 1)" stroke="#111" stroke-width="0.15">18</text>
<rect x="431.53" y="348.7" width="8.54" height="6.6" fill="#fff" stroke="none" stroke-width="1"/>
<text font-size="6.6" text-anchor="middle" fill="#111" transform="translate(435.8 354.4) scale(1.08 1)" stroke="#111" stroke-width="0.15">56</text>
<text font-size="6.6" text-anchor="middle" fill="#111" transform="translate(491 354.4) scale(1.08 1)" stroke="#111" stroke-width="0.15">1.9</text>
<text font-size="7.8" text-anchor="end" fill="#111" transform="translate(354.8 223.1)" stroke="#111" stroke-width="0.15">10<tspan font-size="6.08" dy="-3.12">5</tspan></text>
<text font-size="7.8" text-anchor="end" fill="#111" transform="translate(354.8 239.2)" stroke="#111" stroke-width="0.15">10<tspan font-size="6.08" dy="-3.12">4</tspan></text>
<text font-size="7.8" text-anchor="end" fill="#111" transform="translate(354.8 254.2)" stroke="#111" stroke-width="0.15">10<tspan font-size="6.08" dy="-3.12">3</tspan></text>
<text font-size="7.8" text-anchor="end" fill="#111" transform="translate(354.8 270)" stroke="#111" stroke-width="0.15">10<tspan font-size="6.08" dy="-3.12">2</tspan></text>
<text font-size="7.8" text-anchor="end" fill="#111" transform="translate(354.8 296.5)" stroke="#111" stroke-width="0.15">10<tspan font-size="6.08" dy="-3.12">5</tspan></text>
<text font-size="7.8" text-anchor="end" fill="#111" transform="translate(354.8 311.9)" stroke="#111" stroke-width="0.15">10<tspan font-size="6.08" dy="-3.12">4</tspan></text>
<text font-size="7.8" text-anchor="end" fill="#111" transform="translate(354.8 327.9)" stroke="#111" stroke-width="0.15">10<tspan font-size="6.08" dy="-3.12">3</tspan></text>
<text font-size="7.8" text-anchor="end" fill="#111" transform="translate(354.8 343.7)" stroke="#111" stroke-width="0.15">10<tspan font-size="6.08" dy="-3.12">2</tspan></text>
<text font-size="7.2" text-anchor="end" fill="#111" transform="translate(349.4 278.3) scale(1.08 1)" stroke="#111" stroke-width="0.15">0</text>
<text font-size="7.2" text-anchor="end" fill="#111" transform="translate(349.4 352) scale(1.08 1)" stroke="#111" stroke-width="0.15">0</text>
<text font-size="7" text-anchor="middle" fill="#111" transform="translate(361.7 367.5) scale(1.08 1)" stroke="#111" stroke-width="0.15">0</text>
<text font-size="7" text-anchor="middle" fill="#111" transform="translate(371.5 367.5)" stroke="#111" stroke-width="0.15">10<tspan font-size="5.46" dy="-2.8">2</tspan></text>
<text font-size="7" text-anchor="middle" fill="#111" transform="translate(386.5 367.5)" stroke="#111" stroke-width="0.15">10<tspan font-size="5.46" dy="-2.8">3</tspan></text>
<text font-size="7" text-anchor="middle" fill="#111" transform="translate(402.7 367.5)" stroke="#111" stroke-width="0.15">10<tspan font-size="5.46" dy="-2.8">4</tspan></text>
<text font-size="7" text-anchor="middle" fill="#111" transform="translate(417.2 367.5)" stroke="#111" stroke-width="0.15">10<tspan font-size="5.46" dy="-2.8">5</tspan></text>
<text font-size="7" text-anchor="middle" fill="#111" transform="translate(436.1 367.5) scale(1.08 1)" stroke="#111" stroke-width="0.15">0</text>
<text font-size="7" text-anchor="middle" fill="#111" transform="translate(445.9 367.5)" stroke="#111" stroke-width="0.15">10<tspan font-size="5.46" dy="-2.8">2</tspan></text>
<text font-size="7" text-anchor="middle" fill="#111" transform="translate(460.9 367.5)" stroke="#111" stroke-width="0.15">10<tspan font-size="5.46" dy="-2.8">3</tspan></text>
<text font-size="7" text-anchor="middle" fill="#111" transform="translate(477.1 367.5)" stroke="#111" stroke-width="0.15">10<tspan font-size="5.46" dy="-2.8">4</tspan></text>
<text font-size="7" text-anchor="middle" fill="#111" transform="translate(491.6 367.5)" stroke="#111" stroke-width="0.15">10<tspan font-size="5.46" dy="-2.8">5</tspan></text>
<line x1="335.3" y1="219" x2="335.3" y2="313.3" stroke="#111" stroke-width="0.9"/>
<path d="M335.3,215.5 L333.2,220.5 L337.4,220.5 Z" fill="#111"/>
<text x="0" y="0" font-size="8.8" text-anchor="middle" transform="translate(338.3 336.2) rotate(-90)" fill="#111" stroke="#111" stroke-width="0.15">Annexin V</text>
<text font-size="8.3" text-anchor="start" fill="#111" transform="translate(356.8 378.2) scale(1.08 1)" stroke="#111" stroke-width="0.15">7-AAD</text>
<line x1="385" y1="375.4" x2="492" y2="375.4" stroke="#111" stroke-width="0.9"/>
<path d="M496.5,375.4 L490.8,373.2 L490.8,377.6 Z" fill="#111"/>
<line x1="374.6" y1="390.2" x2="374.6" y2="486.9" stroke="#111" stroke-width="1.2"/>
<line x1="374" y1="486.3" x2="460.4" y2="486.3" stroke="#111" stroke-width="1.2"/>
<line x1="371.6" y1="393.9" x2="374.6" y2="393.9" stroke="#111" stroke-width="1"/>
<text font-size="7" text-anchor="end" fill="#111" transform="translate(369.8 396.42) scale(1.08 1)" stroke="#111" stroke-width="0.15">30</text>
<line x1="371.6" y1="424.7" x2="374.6" y2="424.7" stroke="#111" stroke-width="1"/>
<text font-size="7" text-anchor="end" fill="#111" transform="translate(369.8 427.22) scale(1.08 1)" stroke="#111" stroke-width="0.15">20</text>
<line x1="371.6" y1="455.5" x2="374.6" y2="455.5" stroke="#111" stroke-width="1"/>
<text font-size="7" text-anchor="end" fill="#111" transform="translate(369.8 458.02) scale(1.08 1)" stroke="#111" stroke-width="0.15">10</text>
<line x1="371.6" y1="486.3" x2="374.6" y2="486.3" stroke="#111" stroke-width="1"/>
<text font-size="7" text-anchor="end" fill="#111" transform="translate(369.8 488.82) scale(1.08 1)" stroke="#111" stroke-width="0.15">0</text>
<text x="0" y="0" font-size="8.4" text-anchor="middle" textLength="57" lengthAdjust="spacingAndGlyphs" transform="translate(356.5 437.0) rotate(-90)" fill="#111" stroke="#111" stroke-width="0.15">% Annexin V<tspan font-size="5.5" dy="-3">+</tspan><tspan dy="3">7AAD</tspan><tspan font-size="5.5" dy="-3">+</tspan></text>
<rect x="383" y="445.8" width="9.8" height="40.5" fill="#e08696" stroke="none" stroke-width="1"/>
<rect x="399.4" y="400.8" width="9.9" height="85.5" fill="#88a8c5" stroke="none" stroke-width="1"/>
<rect x="426" y="456.7" width="10.7" height="29.6" fill="#e08696" stroke="none" stroke-width="1"/>
<rect x="442.5" y="431.2" width="10.6" height="55.1" fill="#88a8c5" stroke="none" stroke-width="1"/>
<line x1="387.9" y1="445.8" x2="387.9" y2="443.5" stroke="#222" stroke-width="0.8"/>
<line x1="386.4" y1="443.5" x2="389.4" y2="443.5" stroke="#222" stroke-width="0.8"/>
<line x1="404.3" y1="400.8" x2="404.3" y2="399.8" stroke="#222" stroke-width="0.8"/>
<line x1="402.8" y1="399.8" x2="405.8" y2="399.8" stroke="#222" stroke-width="0.8"/>
<line x1="431.3" y1="456.7" x2="431.3" y2="451.5" stroke="#222" stroke-width="0.8"/>
<line x1="429.8" y1="451.5" x2="432.8" y2="451.5" stroke="#222" stroke-width="0.8"/>
<line x1="447.8" y1="431.2" x2="447.8" y2="428.8" stroke="#222" stroke-width="0.8"/>
<line x1="446.3" y1="428.8" x2="449.3" y2="428.8" stroke="#222" stroke-width="0.8"/>
<rect x="383.6" y="441.9" width="3.8" height="3.8" fill="#cc0a30" stroke="none" stroke-width="1"/>
<rect x="387.6" y="444.3" width="3.8" height="3.8" fill="#cc0a30" stroke="none" stroke-width="1"/>
<rect x="385.1" y="445.6" width="3.8" height="3.8" fill="#cc0a30" stroke="none" stroke-width="1"/>
<rect x="426.6" y="458.1" width="3.8" height="3.8" fill="#cc0a30" stroke="none" stroke-width="1"/>
<rect x="430.1" y="451.6" width="3.8" height="3.8" fill="#cc0a30" stroke="none" stroke-width="1"/>
<rect x="432.6" y="455.1" width="3.8" height="3.8" fill="#cc0a30" stroke="none" stroke-width="1"/>
<path d="M401.5,398.3 L399,402.8 L404,402.8 Z" fill="#1c5290"/>
<path d="M404.3,397.3 L401.8,401.8 L406.8,401.8 Z" fill="#1c5290"/>
<path d="M407,398.3 L404.5,402.8 L409.5,402.8 Z" fill="#1c5290"/>
<path d="M446,425.8 L443.5,430.3 L448.5,430.3 Z" fill="#1c5290"/>
<path d="M448,428.8 L445.5,433.3 L450.5,433.3 Z" fill="#1c5290"/>
<path d="M450.5,430.3 L448,434.8 L453,434.8 Z" fill="#1c5290"/>
<line x1="383.7" y1="393.9" x2="406.7" y2="393.9" stroke="#444" stroke-width="1"/>
<line x1="383.7" y1="391.7" x2="383.7" y2="396.1" stroke="#444" stroke-width="1"/>
<line x1="406.7" y1="391.7" x2="406.7" y2="396.1" stroke="#444" stroke-width="1"/>
<text font-size="8" text-anchor="middle" font-weight="bold" fill="#222" transform="translate(395.2 392) scale(1.05 1)" stroke="#222" stroke-width="0.15">****</text>
<line x1="407.8" y1="393.9" x2="449.8" y2="393.9" stroke="#444" stroke-width="1"/>
<line x1="407.8" y1="391.7" x2="407.8" y2="396.1" stroke="#444" stroke-width="1"/>
<line x1="449.8" y1="391.7" x2="449.8" y2="396.1" stroke="#444" stroke-width="1"/>
<text font-size="8" text-anchor="middle" font-weight="bold" fill="#222" transform="translate(428.8 392) scale(1.05 1)" stroke="#222" stroke-width="0.15">****</text>
<line x1="428.6" y1="420.2" x2="449.8" y2="420.2" stroke="#444" stroke-width="1"/>
<line x1="428.6" y1="418" x2="428.6" y2="422.4" stroke="#444" stroke-width="1"/>
<line x1="449.8" y1="418" x2="449.8" y2="422.4" stroke="#444" stroke-width="1"/>
<text font-size="8" text-anchor="middle" font-weight="bold" fill="#222" transform="translate(439.2 418.3) scale(1.05 1)" stroke="#222" stroke-width="0.15">***</text>
<text font-size="7.3" text-anchor="middle" fill="#111" transform="translate(392.8 495) scale(1.08 1)" stroke="#111" stroke-width="0.15">PBS</text>
<text font-size="7.3" text-anchor="middle" fill="#111" transform="translate(437.8 495) scale(1.08 1)" stroke="#111" stroke-width="0.15">DMOG</text>
<text font-size="8.8" text-anchor="middle" fill="#111" transform="translate(65.8 511) scale(1.08 1)" stroke="#111" stroke-width="0.15">PBS</text>
<text font-size="8.8" text-anchor="middle" fill="#111" transform="translate(138.6 511) scale(1.08 1)" stroke="#111" stroke-width="0.15">DMOG</text>
<text font-size="7.2" text-anchor="middle" fill="#111" transform="translate(180.8 547.8) scale(1.08 1)" stroke="#111" stroke-width="0.15">WT</text>
<text font-size="7.2" text-anchor="middle" fill="#111" transform="translate(180.4 625.3) scale(1.08 1)" stroke="#111" stroke-width="0.15">KO</text>
<defs>
<clipPath id="fc0"><rect x="32.7" y="514.4" width="66.1" height="66.4"/></clipPath>
<clipPath id="fc1"><rect x="105.4" y="514.4" width="67.3" height="66.4"/></clipPath>
<clipPath id="fc2"><rect x="32.7" y="586.3" width="66.1" height="67.7"/></clipPath>
<clipPath id="fc3"><rect x="105.4" y="586.3" width="67.3" height="67.4"/></clipPath>
</defs>
<g clip-path="url(#fc0)">
<g fill="#000"><path d="M69,536.7l2,0 1.8,1.2 3.4,7 4-2.9 2-.7 2.8,0 2.8,1.5 2,2.4 1.1,2.8 .4,3.6-.6,3.6-1.5,4.1-2.2,3.2-2.4,1.7-2.8,.5-2.4-.8-2-1.8-1.1-2.4-1-4.5-.7-1.1-5.3,8-2.7,3.1-3.3,2-3.2,.3-2.5-1.8-1.3-3.2-.3-4.8 1.1-5.7 2-5.2 2.9-4.8 3.3-3.5 3.5-1.8z" fill-opacity="0.12" fill-rule="evenodd"/><path d="M68.6,537.9l2.8,.3 1.9,2.6 .9,5.2-.6,5.2-2.4,6.1-3.4,5-3.7,2.9-3.2,.4-2.2-1.5-1.3-2.8-.3-4.4 .9-4.9 1.6-4.4 2.6-4.4 3.1-3.5 3.1-1.8zM82.2,543.6l2.8,0 2.4,1.6 1.5,2.4 .7,3.2-.5,3.6-1.8,4.5-2.3,2.7-2.4,.9-2.4-.6-1.6-1.8-.8-2.8-.6-5.3 .2-2.8 1-2.4 1.8-2.2 1.9-1z" fill-opacity="0.12" fill-rule="evenodd"/><path d="M68.6,539.1l2.4,.3 1.7,2.6 .4,4.4-.8,5.2-2,5.3-2.9,4.2-3.3,2.4-2.8,.2-1.7-1.2-1.2-2.8-.2-3.7 .8-4.4 1.4-3.6 2.3-4 2.9-3.2 2.6-1.6zM82.6,546.8l1.6-.1 1.5,.9 1,1.6 .4,2-.4,2.4-1,2.4-1.5,1.9-1.6,.6-1.2-.7-.8-1.3-.8-4.5 .6-3.2 2.1-2z" fill-opacity="0.12" fill-rule="evenodd"/><path d="M68.6,540.3l2,.5 1.3,2.4 .2,4-1,4.8-1.8,4.4-2.3,3.3-2.5,1.8-2.4,.2-1.6-1.2-.9-2.4-.1-3.3 .7-3.6 1.7-4 2.1-3.2 2.2-2.4 2.3-1.2z" fill-opacity="0.12" fill-rule="evenodd"/><path d="M68.2,542l1.6,.2 1.1,1.8 .1,3.2-.9,4-1.5,3.6-1.6,2.6-2.1,1.6-2,.3-1.2-.9-.7-2 .6-5.2 2.9-6 2.1-2.3 1.5-.9z" fill-opacity="0.12" fill-rule="evenodd"/><path d="M67.8,544.2l1.2,.2 .5,1.2-.5,4-2.4,4.9-1.3,1-1.2,.2-.9-1.7 .3-3.2 1.7-4 2.2-2.4z" fill-opacity="0.12" fill-rule="evenodd"/></g><path d="M69,536.7l2,0 1.8,1.2 3.4,7 4-2.9 2-.7 2.8,0 2.8,1.5 2,2.4 1.1,2.8 .4,3.6-.6,3.6-1.5,4.1-2.2,3.2-2.4,1.7-2.8,.5-2.4-.8-2-1.8-1.1-2.4-1-4.5-.7-1.1-5.3,8-2.7,3.1-3.3,2-3.2,.3-2.5-1.8-1.3-3.2-.3-4.8 1.1-5.7 2-5.2 2.9-4.8 3.3-3.5 3.5-1.8zM68.2,537.5l2.8-.1 1.2,.7 1.1,1.5 1.4,4.8 .4,5.2-3.6,8.1-3.5,5.2-3.9,3.1-2,.6-1.6-.1-2.3-1.6-1.4-3.2-.2-4.4 .8-4.9 1.7-4.8 2.6-4.4 3.2-3.8 3-1.9zM82.2,542.3l3.2,.2 2.7,1.9 1.8,3.2 .6,3.6-.9,4.8-2.1,4.5-2.5,2.4-2.8,.8-2.8-1-1.8-2.2-.9-3.2-.9-7.3 .5-2 1.8-2.8 2.1-2 1.9-.8zM68.6,537.9l2.8,.3 1.9,2.6 .9,5.2-.6,5.2-2.4,6.1-3.4,5-3.7,2.9-3.2,.4-2.2-1.5-1.3-2.8-.3-4.4 .9-4.9 1.6-4.4 2.6-4.4 3.1-3.5 3.1-1.8zM82.2,543.6l2.8,0 2.4,1.6 1.5,2.4 .7,3.2-.5,3.6-1.8,4.5-2.3,2.7-2.4,.9-2.4-.6-1.6-1.8-.8-2.8-.6-5.3 .2-2.8 1-2.4 1.8-2.2 1.9-1zM69.4,538.3l2.4,1 1.5,3.1 .3,5.2-1.1,5.2-2.1,4.9-3.2,4.4-3.1,2.3-1.6,.4-1.6-.2-2-1.7-1.1-3.2 0-4.5 1-4.4 1.9-4.4 2.7-4 3.2-3 2.7-1.1zM81.8,545.2l2.4-.4 2,1 1.6,2.2 .7,2.8-.4,3.2-1.5,3.7-2,2.5-2,.8-1.7-.5-1.3-1.6-1.2-6.1 .1-2.8 .6-2 1.1-1.6 1.6-1.2zM68.6,539.1l2.4,.3 1.7,2.6 .4,4.4-.8,5.2-2,5.3-2.9,4.2-3.3,2.4-2.8,.2-1.7-1.2-1.2-2.8-.2-3.7 .8-4.4 1.4-3.6 2.3-4 2.9-3.2 2.6-1.6zM82.6,546.8l1.6-.1 1.5,.9 1,1.6 .4,2-.4,2.4-1,2.4-1.5,1.9-1.6,.6-1.2-.7-.8-1.3-.8-4.5 .6-3.2 2.1-2zM67.8,539.9l1.6-.3 1.2,.3 1.5,2.1 .5,4-.7,5.2-2,5.2-2.5,3.8-2.9,2.2-2.8,.4-1.6-1.2-1-2.3-.3-3.3 .6-4 1.3-3.6 2.1-3.6 2.5-3.2 2.4-1.6zM83,550.2l.8-.1 .7,1.1-.3,1.6-.8,.7-1-1.1 .3-2zM68.6,540.3l2,.5 1.3,2.4 .2,4-1,4.8-1.8,4.4-2.3,3.3-2.5,1.8-2.4,.2-1.6-1.2-.9-2.4-.1-3.3 .7-3.6 1.7-4 2.1-3.2 2.2-2.4 2.3-1.2zM68.2,541.2l2,.2 1.2,2.2 .2,3.2-.9,4.4-1.5,4-2.1,3.3-2.6,1.9-2,.2-1.3-.9-.9-2-.1-2.9 .5-3.2 1.2-3.2 2.2-3.6 2.1-2.4 1.9-1.2zM68.2,542l1.6,.2 1.1,1.8 .1,3.2-.9,4-1.5,3.6-1.6,2.6-2.1,1.6-2,.3-1.2-.9-.7-2 .6-5.2 2.9-6 2.1-2.3 1.5-.9zM67.8,543l1.6,.1 .8,1.3 .2,2.4-.6,2.8-2.7,6-1.8,1.8-1.6,.4-1-.5-.6-1.3 .2-4.4 2.2-5.2 2.9-3.2zM67.8,544.2l1.2,.2 .5,1.2-.5,4-2.4,4.9-1.3,1-1.2,.2-.9-1.7 .3-3.2 1.7-4 2.2-2.4zM67.4,546.3l.8,.4-.1,1.7-1.1,2.5-1.2,1-.5-.7 .1-1.6 .8-1.9 1.1-1.3z" fill="none" stroke="#000" stroke-width="0.42" stroke-linejoin="round"/><path d="M80.7,566.7h.8v.8h-.8zM54.1,547.8h.8v.8h-.8zM74.3,530.9h.8v.8h-.8zM84.8,565.7h.8v.8h-.8zM95.8,523.9h.8v.8h-.8zM76.2,541.4h.8v.8h-.8zM47.0,557.8h.8v.8h-.8zM47.1,578.9h.8v.8h-.8zM89.4,561.9h.8v.8h-.8zM69.4,563.7h.8v.8h-.8zM62.1,530.7h.8v.8h-.8zM52.3,570.7h.8v.8h-.8zM45.3,568.8h.8v.8h-.8zM94.3,550.5h.8v.8h-.8zM74.0,555.7h.8v.8h-.8zM88.6,561.4h.8v.8h-.8zM38.4,560.2h.8v.8h-.8zM67.5,533.9h.8v.8h-.8zM81.6,565.2h.8v.8h-.8zM74.1,537.8h.8v.8h-.8zM65.8,538.1h.8v.8h-.8zM94.8,545.8h.8v.8h-.8zM71.5,563.5h.8v.8h-.8zM91.2,559.0h.8v.8h-.8zM89.1,559.9h.8v.8h-.8zM54.4,568.3h.8v.8h-.8zM48.2,530.4h.8v.8h-.8zM76.7,533.6h.8v.8h-.8zM69.3,536.3h.8v.8h-.8zM82.9,570.4h.8v.8h-.8zM88.6,543.0h.8v.8h-.8zM71.9,536.6h.8v.8h-.8zM64.7,535.5h.8v.8h-.8zM75.8,537.8h.8v.8h-.8zM90.8,558.8h.8v.8h-.8zM76.9,541.9h.8v.8h-.8zM92.5,547.4h.8v.8h-.8zM87.4,537.6h.8v.8h-.8zM78.0,538.7h.8v.8h-.8zM75.2,556.5h.8v.8h-.8zM81.0,536.4h.8v.8h-.8zM83.2,567.6h.8v.8h-.8zM97.2,559.3h.8v.8h-.8zM58.4,538.8h.8v.8h-.8zM55.9,551.0h.8v.8h-.8zM66.7,535.9h.8v.8h-.8zM88.7,529.8h.8v.8h-.8zM72.3,560.6h.8v.8h-.8zM75.1,531.7h.8v.8h-.8zM73.7,563.8h.8v.8h-.8zM58.5,545.5h.8v.8h-.8zM74.5,523.8h.8v.8h-.8zM93.6,524.3h.8v.8h-.8zM55.6,562.5h.8v.8h-.8zM54.4,521.9h.8v.8h-.8zM60.2,568.9h.8v.8h-.8zM58.4,547.4h.8v.8h-.8zM59.6,545.2h.8v.8h-.8zM54.7,548.3h.8v.8h-.8zM71.5,529.7h.8v.8h-.8zM63.0,537.5h.8v.8h-.8zM72.6,531.8h.8v.8h-.8zM91.3,548.9h.8v.8h-.8zM59.0,544.7h.8v.8h-.8zM66.1,536.2h.8v.8h-.8zM77.1,541.2h.8v.8h-.8zM59.1,545.7h.8v.8h-.8zM75.3,556.0h.8v.8h-.8zM61.7,574.3h.8v.8h-.8zM76.4,560.3h.8v.8h-.8zM59.5,545.1h.8v.8h-.8zM65.0,529.1h.8v.8h-.8zM60.1,543.4h.8v.8h-.8zM63.0,534.2h.8v.8h-.8zM56.4,570.9h.8v.8h-.8zM59.7,543.2h.8v.8h-.8zM51.9,568.2h.8v.8h-.8zM83.3,531.9h.8v.8h-.8zM91.4,562.7h.8v.8h-.8zM47.3,554.8h.8v.8h-.8zM64.0,530.7h.8v.8h-.8zM89.9,559.2h.8v.8h-.8zM92.7,543.7h.8v.8h-.8zM72.0,534.4h.8v.8h-.8zM63.5,538.0h.8v.8h-.8zM73.4,559.9h.8v.8h-.8zM91.9,565.0h.8v.8h-.8zM62.3,573.0h.8v.8h-.8zM71.5,534.8h.8v.8h-.8zM59.5,545.3h.8v.8h-.8zM59.4,518.7h.8v.8h-.8zM71.8,531.2h.8v.8h-.8zM87.3,562.5h.8v.8h-.8zM74.2,536.8h.8v.8h-.8zM96.6,530.3h.8v.8h-.8zM45.2,562.8h.8v.8h-.8zM78.0,564.0h.8v.8h-.8zM49.0,550.3h.8v.8h-.8zM50.6,563.6h.8v.8h-.8zM91.3,548.2h.8v.8h-.8zM73.7,554.9h.8v.8h-.8zM77.2,536.3h.8v.8h-.8zM78.5,566.0h.8v.8h-.8zM47.2,541.3h.8v.8h-.8zM35.4,557.6h.8v.8h-.8zM78.0,543.5h.8v.8h-.8zM91.9,552.9h.8v.8h-.8zM94.8,549.8h.8v.8h-.8zM80.2,538.8h.8v.8h-.8zM79.4,534.7h.8v.8h-.8zM59.8,544.7h.8v.8h-.8zM68.4,536.7h.8v.8h-.8zM50.2,548.5h.8v.8h-.8zM92.4,544.6h.8v.8h-.8zM85.0,567.1h.8v.8h-.8zM38.4,570.6h.8v.8h-.8zM72.9,530.2h.8v.8h-.8zM92.9,547.6h.8v.8h-.8zM38.6,559.4h.8v.8h-.8zM91.5,545.3h.8v.8h-.8zM53.9,558.4h.8v.8h-.8zM79.6,541.6h.8v.8h-.8zM74.2,533.9h.8v.8h-.8zM73.5,566.2h.8v.8h-.8zM88.5,543.3h.8v.8h-.8zM64.4,531.9h.8v.8h-.8zM50.9,568.2h.8v.8h-.8zM76.8,543.3h.8v.8h-.8zM89.7,559.6h.8v.8h-.8zM54.6,557.4h.8v.8h-.8zM74.5,554.6h.8v.8h-.8zM58.6,568.2h.8v.8h-.8zM59.1,546.2h.8v.8h-.8zM77.1,538.8h.8v.8h-.8zM59.5,569.2h.8v.8h-.8zM97.2,529.8h.8v.8h-.8zM74.0,534.4h.8v.8h-.8zM49.5,573.2h.8v.8h-.8zM54.5,561.4h.8v.8h-.8zM77.2,563.7h.8v.8h-.8zM95.7,546.9h.8v.8h-.8zM56.8,564.6h.8v.8h-.8zM55.8,554.9h.8v.8h-.8zM52.1,575.5h.8v.8h-.8zM58.9,540.5h.8v.8h-.8zM61.7,542.2h.8v.8h-.8zM63.3,538.2h.8v.8h-.8zM71.0,562.1h.8v.8h-.8zM76.2,564.0h.8v.8h-.8zM72.1,566.0h.8v.8h-.8zM55.3,571.0h.8v.8h-.8zM93.2,560.6h.8v.8h-.8zM83.7,566.8h.8v.8h-.8zM83.6,538.7h.8v.8h-.8zM54.6,550.6h.8v.8h-.8zM50.1,572.1h.8v.8h-.8zM84.2,569.6h.8v.8h-.8zM56.1,548.8h.8v.8h-.8zM62.2,540.2h.8v.8h-.8zM84.3,537.6h.8v.8h-.8zM45.8,569.4h.8v.8h-.8zM56.2,553.1h.8v.8h-.8zM62.0,536.2h.8v.8h-.8zM78.6,535.0h.8v.8h-.8zM73.3,559.8h.8v.8h-.8zM63.2,570.2h.8v.8h-.8zM55.0,550.7h.8v.8h-.8zM73.7,560.5h.8v.8h-.8zM54.8,539.4h.8v.8h-.8zM72.4,562.7h.8v.8h-.8zM96.5,549.8h.8v.8h-.8zM70.9,562.7h.8v.8h-.8zM61.1,538.7h.8v.8h-.8zM63.3,538.5h.8v.8h-.8zM57.8,541.3h.8v.8h-.8zM46.6,557.6h.8v.8h-.8zM54.7,550.9h.8v.8h-.8zM67.0,534.9h.8v.8h-.8zM46.5,567.1h.8v.8h-.8zM92.4,554.9h.8v.8h-.8zM49.3,521.2h.8v.8h-.8zM36.1,558.0h.8v.8h-.8zM66.6,535.2h.8v.8h-.8zM62.1,529.1h.8v.8h-.8zM95.1,549.7h.8v.8h-.8zM45.4,563.4h.8v.8h-.8zM35.0,568.6h.8v.8h-.8zM55.9,557.3h.8v.8h-.8zM66.8,566.0h.8v.8h-.8zM68.8,566.5h.8v.8h-.8zM43.8,548.4h.8v.8h-.8zM50.4,556.5h.8v.8h-.8zM58.8,519.7h.8v.8h-.8zM73.7,538.8h.8v.8h-.8zM80.8,564.8h.8v.8h-.8zM48.4,534.4h.8v.8h-.8zM78.3,542.5h.8v.8h-.8zM76.2,537.5h.8v.8h-.8zM66.5,567.7h.8v.8h-.8zM79.4,564.8h.8v.8h-.8zM58.8,534.6h.8v.8h-.8zM84.1,568.0h.8v.8h-.8zM55.1,569.5h.8v.8h-.8zM64.6,569.9h.8v.8h-.8zM41.6,568.7h.8v.8h-.8zM73.4,538.5h.8v.8h-.8zM79.9,529.7h.8v.8h-.8zM71.1,534.5h.8v.8h-.8zM75.8,562.3h.8v.8h-.8zM75.1,540.1h.8v.8h-.8zM91.5,560.6h.8v.8h-.8zM69.9,561.3h.8v.8h-.8zM43.2,553.0h.8v.8h-.8zM57.7,550.0h.8v.8h-.8zM51.9,566.0h.8v.8h-.8zM80.2,564.5h.8v.8h-.8zM53.5,569.2h.8v.8h-.8zM52.5,570.2h.8v.8h-.8zM93.8,544.6h.8v.8h-.8zM66.9,578.8h.8v.8h-.8zM59.8,569.1h.8v.8h-.8zM38.3,560.1h.8v.8h-.8zM77.2,534.4h.8v.8h-.8zM75.0,556.8h.8v.8h-.8zM50.9,544.7h.8v.8h-.8zM59.0,545.5h.8v.8h-.8zM53.7,559.3h.8v.8h-.8zM58.7,566.9h.8v.8h-.8zM64.9,573.5h.8v.8h-.8zM97.1,558.7h.8v.8h-.8zM81.0,539.5h.8v.8h-.8zM54.6,551.0h.8v.8h-.8zM70.9,529.4h.8v.8h-.8zM76.0,539.7h.8v.8h-.8zM62.9,540.8h.8v.8h-.8zM73.5,538.8h.8v.8h-.8zM71.4,574.0h.8v.8h-.8zM60.7,533.2h.8v.8h-.8zM54.7,545.6h.8v.8h-.8zM65.5,573.3h.8v.8h-.8z" fill="#333"/>
</g>
<g clip-path="url(#fc1)">
<g fill="#000"><path d="M141.7,534.7l2.4,.2 2,1.4 1.2,2 1.6,4.8 4-1.7 2-.4 2.8,.7 2.1,1.5 1.7,2.4 .9,3.2-.1,3.2-1,2.8-1.6,2.1-2,1.4-2,.6-2.4-.2-2-.9-1.6-1.4-1.5-2.4-1.3-3.5-.8-.2-8.9,10.9-3.6,3.3-5.2,2.4-2.4,.2-2-.6-1.6-1.6-.7-2.8 .5-3.2 1.3-3.3 5.3-7.3 5.6-9.1 3.2-3 3.7-1.5z" fill-opacity="0.12" fill-rule="evenodd"/><path d="M140.5,535.9l2-.2 1.6,.5 1.3,.9 1,1.7 .7,4.8-1.3,4.4-3.7,5.3-8.1,8.8-4.4,2.3-2,.3-1.6-.4-1.4-1.4-.5-2 .2-2.4 1.1-2.9 3.8-5.7 3.1-6.3 2.1-3.2 2.8-2.9 3.2-1.6zM153.3,543.2l2.4-.3 2.4,1 1.8,2.1 .9,2.4 .1,2.8-1,2.8-1.8,2-2,1-2.4,0-2-1.1-1.7-1.9-.9-2.4-.1-2.8 .7-2.4 1.5-2 2.1-1.2z" fill-opacity="0.12" fill-rule="evenodd"/><path d="M140.1,537.1l3.2,.1 1.2,.8 1,1.6 .5,4-1.4,4.4-3.3,4.7-7.3,6.6-3.2,1.9-2.4,.1-1.3-1.6 .2-2.4 2.9-6.1 2.4-6.4 3.2-4.8 2.2-2 2-.9zM153.7,545.6l1.6-.3 1.6,.6 1.2,1.2 .7,1.7 .1,2-.5,1.6-1.1,1.4-1.6,.8-1.6,0-1.2-.6-1.7-2.8 .2-3.2 1.1-1.6 1.2-.8z" fill-opacity="0.12" fill-rule="evenodd"/><path d="M140.1,538.3l2.8,.2 1.6,1.8 .4,2.9-.8,3.6-1.9,3.2-2.9,3-3.7,2-2.6,.2-.8-1.2-.1-2.4 1.4-6.4 2.8-4.4 1.7-1.5 2-1z" fill-opacity="0.12" fill-rule="evenodd"/><path d="M139.7,539.9l2,0 1.4,1.3 .5,2-.4,2.8-1.2,2.4-1.9,2.2-2.5,1.4-2,.2-1.2-1-.4-1.2 .4-4 2-3.8 3.2-2.2z" fill-opacity="0.12" fill-rule="evenodd"/><path d="M140.1,542l1.1,.4 .5,.8-.3,3.2-2.1,2.6-1.3,.5-1.2-.1-.9-1.8 .4-2.4 1.7-2.4 1.9-.8z" fill-opacity="0.12" fill-rule="evenodd"/></g><path d="M141.7,534.7l2.4,.2 2,1.4 1.2,2 1.6,4.8 4-1.7 2-.4 2.8,.7 2.1,1.5 1.7,2.4 .9,3.2-.1,3.2-1,2.8-1.6,2.1-2,1.4-2,.6-2.4-.2-2-.9-1.6-1.4-1.5-2.4-1.3-3.5-.8-.2-8.9,10.9-3.6,3.3-5.2,2.4-2.4,.2-2-.6-1.6-1.6-.7-2.8 .5-3.2 1.3-3.3 5.3-7.3 5.6-9.1 3.2-3 3.7-1.5zM140.5,535.4l3.2,0 1.6,.8 1.1,1.3 1.1,3.7 0,5.6-9.5,12.3-3.6,3.7-4.8,2.8-2.4,.4-2-.5-1.6-1.3-.7-2.1 .2-2.8 1.1-3.3 5-7.3 4.7-8.3 2.9-3.1 3.3-1.8zM154.5,541.9l2.8,.5 2.2,1.6 1.5,2.4 .7,3.2-.3,2.8-1.3,2.9-2,1.9-2.8,.9-2.8-.6-2.4-1.9-1.6-2.8-.6-3.6 .1-2.4 1-1.6 2.7-2.3 2.5-.9zM140.5,535.9l2-.2 1.6,.5 1.3,.9 1,1.7 .7,4.8-1.3,4.4-3.7,5.3-8.1,8.8-4.4,2.3-2,.3-1.6-.4-1.4-1.4-.5-2 .2-2.4 1.1-2.9 3.8-5.7 3.1-6.3 2.1-3.2 2.8-2.9 3.2-1.6zM153.3,543.2l2.4-.3 2.4,1 1.8,2.1 .9,2.4 .1,2.8-1,2.8-1.8,2-2,1-2.4,0-2-1.1-1.7-1.9-.9-2.4-.1-2.8 .7-2.4 1.5-2 2.1-1.2zM141.3,536.3l1.6,.1 1.6,.7 1.7,2.9 .2,4.4-1.4,4-3.3,4.6-7.7,7.8-4,2.2-3-.1-1.5-2 .2-3.2 4.3-7.9 2.7-6.2 3.7-4.9 2.4-1.7 2.3-.7zM154.9,544l2,.4 1.5,1.2 1.2,2 .4,2-.2,2.4-1.1,2-1.4,1.4-2,.6-2-.3-1.6-1.1-1.2-1.8-.6-2.4 .3-2.4 1-2 1.7-1.5 1.9-.5zM140.1,537.1l3.2,.1 1.2,.8 1,1.6 .5,4-1.4,4.4-3.3,4.7-7.3,6.6-3.2,1.9-2.4,.1-1.3-1.6 .2-2.4 2.9-6.1 2.4-6.4 3.2-4.8 2.2-2 2-.9zM153.7,545.6l1.6-.3 1.6,.6 1.2,1.2 .7,1.7 .1,2-.5,1.6-1.1,1.4-1.6,.8-1.6,0-1.2-.6-1.7-2.8 .2-3.2 1.1-1.6 1.2-.8zM140.9,537.5l2.8,.7 1.5,2.2 .2,3.6-1.1,3.6-2.2,3.5-3.3,3-6.4,4.4-2.4,.2-.5-.6-.1-1.7 4.1-12.4 3.3-4.5 2-1.3 2-.7zM154.1,547.5l2,.1 1.1,1.6-.1,2-1.4,1.4-1.6-.1-1.2-1.4-.1-1.9 1.1-1.6zM140.1,538.3l2.8,.2 1.6,1.8 .4,2.9-.8,3.6-1.9,3.2-2.9,3-3.7,2-2.6,.2-.8-1.2-.1-2.4 1.4-6.4 2.8-4.4 1.7-1.5 2-1zM140.1,539l2.4,.3 1.4,1.5 .4,2.4-.5,2.8-1.4,2.8-2.3,2.7-2.9,1.7-2.4,.3-1-.7-.6-1.6-.1-2.4 .6-2.8 2.5-4.4 3.5-2.4zM139.7,539.9l2,0 1.4,1.3 .5,2-.4,2.8-1.2,2.4-1.9,2.2-2.5,1.4-2,.2-1.2-1-.4-1.2 .4-4 2-3.8 3.2-2.2zM140.1,540.8l1.6,.3 1,1.3 .1,2-.5,2-1.2,2-1.8,1.8-1.7,.7-1.5-.1-.9-.8-.3-1.2 .5-3.6 1.8-2.8 2.8-1.6zM140.1,542l1.1,.4 .5,.8-.3,3.2-2.1,2.6-1.3,.5-1.2-.1-.9-1.8 .4-2.4 1.7-2.4 1.9-.8zM139.3,543.9l.9,.5-.1,1.6-.8,1.1-1.3,.3-.5-.6 .1-1.2 1.5-1.6z" fill="none" stroke="#000" stroke-width="0.42" stroke-linejoin="round"/><path d="M114.3,566.8h.8v.8h-.8zM165.5,547.5h.8v.8h-.8zM144.3,534.7h.8v.8h-.8zM110.1,555.0h.8v.8h-.8zM119.8,565.2h.8v.8h-.8zM131.1,544.2h.8v.8h-.8zM138.3,523.6h.8v.8h-.8zM166.7,545.1h.8v.8h-.8zM147.7,532.7h.8v.8h-.8zM133.9,539.5h.8v.8h-.8zM157.5,541.3h.8v.8h-.8zM124.9,580.3h.8v.8h-.8zM145.2,553.7h.8v.8h-.8zM154.6,534.6h.8v.8h-.8zM167.1,551.3h.8v.8h-.8zM124.4,545.5h.8v.8h-.8zM152.2,536.8h.8v.8h-.8zM139.2,560.3h.8v.8h-.8zM124.0,572.8h.8v.8h-.8zM136.9,532.0h.8v.8h-.8zM113.7,539.9h.8v.8h-.8zM124.0,553.6h.8v.8h-.8zM134.2,564.7h.8v.8h-.8zM140.5,523.7h.8v.8h-.8zM138.0,535.5h.8v.8h-.8zM155.0,563.5h.8v.8h-.8zM136.9,562.2h.8v.8h-.8zM162.8,551.0h.8v.8h-.8zM157.0,559.8h.8v.8h-.8zM135.4,567.3h.8v.8h-.8zM149.4,558.1h.8v.8h-.8zM147.7,537.3h.8v.8h-.8zM124.1,549.9h.8v.8h-.8zM125.1,550.5h.8v.8h-.8zM124.4,548.6h.8v.8h-.8zM168.4,521.4h.8v.8h-.8zM145.5,555.2h.8v.8h-.8zM144.5,558.2h.8v.8h-.8zM128.2,544.2h.8v.8h-.8zM147.6,537.3h.8v.8h-.8zM161.9,562.8h.8v.8h-.8zM145.9,559.6h.8v.8h-.8zM134.3,533.8h.8v.8h-.8zM151.2,532.8h.8v.8h-.8zM155.0,539.8h.8v.8h-.8zM133.1,539.0h.8v.8h-.8zM155.1,534.8h.8v.8h-.8zM125.3,577.1h.8v.8h-.8zM133.4,536.8h.8v.8h-.8zM115.7,563.8h.8v.8h-.8zM143.6,534.5h.8v.8h-.8zM150.1,540.6h.8v.8h-.8zM150.4,541.4h.8v.8h-.8zM125.9,550.9h.8v.8h-.8zM157.6,559.4h.8v.8h-.8zM120.2,565.5h.8v.8h-.8zM128.2,546.0h.8v.8h-.8zM149.5,525.8h.8v.8h-.8zM143.6,557.9h.8v.8h-.8zM153.1,538.3h.8v.8h-.8zM112.6,566.2h.8v.8h-.8zM143.4,556.4h.8v.8h-.8zM161.5,558.5h.8v.8h-.8zM127.2,542.0h.8v.8h-.8zM162.7,555.1h.8v.8h-.8zM133.1,565.7h.8v.8h-.8zM149.8,526.4h.8v.8h-.8zM139.1,567.7h.8v.8h-.8zM146.6,529.4h.8v.8h-.8zM129.7,545.7h.8v.8h-.8zM156.1,537.5h.8v.8h-.8zM162.3,544.9h.8v.8h-.8zM146.7,536.2h.8v.8h-.8zM120.5,566.0h.8v.8h-.8zM135.6,537.5h.8v.8h-.8zM134.2,570.7h.8v.8h-.8zM144.5,564.3h.8v.8h-.8zM140.2,534.8h.8v.8h-.8zM129.8,546.1h.8v.8h-.8zM117.7,558.2h.8v.8h-.8zM148.0,534.9h.8v.8h-.8zM133.4,519.6h.8v.8h-.8zM126.2,547.9h.8v.8h-.8zM126.2,570.2h.8v.8h-.8zM141.9,530.7h.8v.8h-.8zM153.9,538.5h.8v.8h-.8zM152.7,539.3h.8v.8h-.8zM106.8,550.3h.8v.8h-.8zM165.1,550.3h.8v.8h-.8zM118.3,531.4h.8v.8h-.8zM111.9,565.9h.8v.8h-.8zM143.1,554.1h.8v.8h-.8zM129.9,545.6h.8v.8h-.8zM144.9,534.6h.8v.8h-.8zM139.6,529.8h.8v.8h-.8zM124.7,549.7h.8v.8h-.8zM117.0,570.5h.8v.8h-.8zM139.5,526.4h.8v.8h-.8zM124.3,547.5h.8v.8h-.8zM137.2,563.8h.8v.8h-.8zM122.5,552.0h.8v.8h-.8zM130.1,546.0h.8v.8h-.8zM113.4,577.3h.8v.8h-.8zM118.5,575.5h.8v.8h-.8zM120.2,567.1h.8v.8h-.8zM126.9,547.1h.8v.8h-.8zM123.6,570.3h.8v.8h-.8zM149.6,529.1h.8v.8h-.8zM135.5,536.3h.8v.8h-.8zM153.4,563.5h.8v.8h-.8zM139.9,567.7h.8v.8h-.8zM142.8,557.3h.8v.8h-.8zM119.0,554.1h.8v.8h-.8zM124.6,548.8h.8v.8h-.8zM142.6,554.7h.8v.8h-.8zM125.7,542.3h.8v.8h-.8zM143.1,554.4h.8v.8h-.8zM129.7,545.1h.8v.8h-.8zM130.4,566.8h.8v.8h-.8zM119.5,573.7h.8v.8h-.8zM116.2,573.0h.8v.8h-.8zM135.6,536.3h.8v.8h-.8zM143.5,553.6h.8v.8h-.8zM160.7,541.6h.8v.8h-.8zM133.5,537.5h.8v.8h-.8zM135.8,533.9h.8v.8h-.8zM155.7,561.7h.8v.8h-.8zM146.9,550.9h.8v.8h-.8zM136.0,535.0h.8v.8h-.8zM154.9,560.5h.8v.8h-.8zM141.8,533.4h.8v.8h-.8zM122.0,566.9h.8v.8h-.8zM165.3,546.0h.8v.8h-.8zM147.0,522.7h.8v.8h-.8zM124.4,552.1h.8v.8h-.8zM161.3,541.9h.8v.8h-.8zM121.8,555.9h.8v.8h-.8zM131.1,568.8h.8v.8h-.8zM136.2,534.9h.8v.8h-.8zM115.3,528.7h.8v.8h-.8zM144.2,534.5h.8v.8h-.8zM123.3,554.7h.8v.8h-.8zM141.4,556.2h.8v.8h-.8zM156.2,560.2h.8v.8h-.8zM144.5,556.5h.8v.8h-.8zM145.5,535.7h.8v.8h-.8zM133.3,567.4h.8v.8h-.8zM128.5,548.2h.8v.8h-.8zM152.9,539.3h.8v.8h-.8zM131.7,540.5h.8v.8h-.8zM109.9,564.8h.8v.8h-.8zM144.5,561.5h.8v.8h-.8zM121.4,568.8h.8v.8h-.8zM148.3,534.9h.8v.8h-.8zM146.2,553.7h.8v.8h-.8zM141.0,561.2h.8v.8h-.8zM132.0,567.5h.8v.8h-.8zM146.7,554.7h.8v.8h-.8zM132.3,565.5h.8v.8h-.8zM140.2,561.6h.8v.8h-.8zM161.5,540.7h.8v.8h-.8zM142.0,556.6h.8v.8h-.8zM131.4,542.5h.8v.8h-.8zM140.1,532.5h.8v.8h-.8zM147.1,556.5h.8v.8h-.8zM142.8,561.2h.8v.8h-.8zM164.7,519.2h.8v.8h-.8zM141.1,528.9h.8v.8h-.8zM125.1,568.3h.8v.8h-.8zM117.5,560.5h.8v.8h-.8zM129.3,567.1h.8v.8h-.8zM151.8,529.7h.8v.8h-.8zM138.6,534.1h.8v.8h-.8zM110.5,569.9h.8v.8h-.8zM150.6,539.5h.8v.8h-.8zM151.1,534.0h.8v.8h-.8zM131.7,540.7h.8v.8h-.8zM122.5,569.2h.8v.8h-.8zM142.4,533.7h.8v.8h-.8zM119.3,537.2h.8v.8h-.8zM162.9,563.5h.8v.8h-.8zM126.0,552.0h.8v.8h-.8zM130.4,539.0h.8v.8h-.8zM139.5,566.0h.8v.8h-.8zM163.2,549.8h.8v.8h-.8zM148.0,534.3h.8v.8h-.8zM143.6,532.4h.8v.8h-.8zM127.2,547.3h.8v.8h-.8zM148.8,542.3h.8v.8h-.8zM162.2,554.7h.8v.8h-.8zM132.6,539.2h.8v.8h-.8zM116.9,564.7h.8v.8h-.8zM152.6,575.0h.8v.8h-.8zM136.3,537.0h.8v.8h-.8zM117.8,554.8h.8v.8h-.8zM144.9,534.6h.8v.8h-.8zM146.4,534.1h.8v.8h-.8zM121.5,562.2h.8v.8h-.8zM146.6,535.5h.8v.8h-.8zM165.3,563.7h.8v.8h-.8zM137.5,571.9h.8v.8h-.8zM144.3,533.1h.8v.8h-.8zM145.2,556.2h.8v.8h-.8zM155.0,539.3h.8v.8h-.8zM131.4,543.1h.8v.8h-.8zM153.8,540.6h.8v.8h-.8zM167.0,542.8h.8v.8h-.8zM142.1,555.8h.8v.8h-.8zM131.8,567.3h.8v.8h-.8zM125.4,547.6h.8v.8h-.8zM159.5,541.2h.8v.8h-.8zM138.4,565.8h.8v.8h-.8zM145.4,555.9h.8v.8h-.8zM137.5,563.7h.8v.8h-.8zM137.5,565.5h.8v.8h-.8zM136.9,535.6h.8v.8h-.8zM167.4,521.4h.8v.8h-.8zM125.0,515.3h.8v.8h-.8zM135.5,537.2h.8v.8h-.8zM152.2,560.2h.8v.8h-.8zM136.1,536.3h.8v.8h-.8zM161.7,539.6h.8v.8h-.8zM153.5,563.2h.8v.8h-.8zM128.9,568.8h.8v.8h-.8zM155.8,538.4h.8v.8h-.8zM142.4,559.4h.8v.8h-.8zM115.0,553.8h.8v.8h-.8zM136.2,564.0h.8v.8h-.8zM145.7,535.8h.8v.8h-.8zM147.7,538.1h.8v.8h-.8zM122.7,549.2h.8v.8h-.8zM145.1,555.3h.8v.8h-.8zM138.6,565.9h.8v.8h-.8zM143.5,532.4h.8v.8h-.8zM148.0,556.2h.8v.8h-.8zM139.1,535.0h.8v.8h-.8zM163.5,547.0h.8v.8h-.8zM137.3,535.7h.8v.8h-.8zM166.7,546.2h.8v.8h-.8zM155.3,536.6h.8v.8h-.8z" fill="#333"/>
</g>
<g clip-path="url(#fc2)">
<g fill="#000"><path d="M67.8,608.9l2,.2 1.1,1.4 .7,2.4-.1,3.2-3.9,12.9-3.1,3.7-4,2.4-3.2,.9-6-.2-10.8,.9-3.6-.4-1.6-.9 .3-1.2 2.9-1.6 4.8-1.4 7.6-1.1 2.8-1.6 2.3-2.3 2.8-6 6-8.9 2.9-2.4zM80.6,612.5l2.8-.2 2.8,.8 2.3,1.8 1.2,2.4 0,2.9-1.6,7.2-1.9,2.7-2.4,1.3-2.8-.4-2.2-2-1.2-2.4-2.2-7.3 0-2 .8-2 2-1.8 2.2-1z" fill-opacity="0.12" fill-rule="evenodd"/><path d="M67.8,609.7l1.6,.2 .9,1 .6,1.6 .1,2.8-.7,3.6-2.8,6.1-.6,3.6-.8,1.6-3.2,2.9-4,1.8-4,0-3.9-1.5-.1-.8 6.7-6.8 7.1-13.3 1.5-1.8 1.5-1zM82.2,612.9l2.4,.3 2.4,1.2 1.5,1.7 .5,2-2.2,8.5-1.4,2-2,.9-2-.4-1.8-1.7-3.5-8.9 .3-2 1.4-1.8 2-1.3 2.1-.5z" fill-opacity="0.12" fill-rule="evenodd"/><path d="M68.2,610.5l1.2,.5 .7,1.1 .3,4-1.2,4.1-2.7,4.8-1,4.8-2.2,2.3-2.8,1.6-3.2,.6-2.6-.5-1.1-1.2 .3-1.6 5.1-5.6 6.1-12.5 1.5-1.7 1.4-.7zM81.4,613.7l2-.1 2.4,.8 1.5,1.3 .8,2 0,1.6-.8,2.1-2.3,4.2-1.6,1.1-1.2-.1-1.1-.8-3.2-4.8-.9-2.1 .1-1.6 .7-1.6 1.6-1.3 1.8-.7z" fill-opacity="0.12" fill-rule="evenodd"/><path d="M67.4,611.6l1.2,0 .9,.9 .3,3.6-1,3.6-3.4,5.3-.2,3.2-.5,1.6-1.8,1.8-2.8,1.6-2.4,.4-2-.5-.8-.9 .2-1.6 5.1-5.2 2.7-5.6 1.9-5.3 2.3-2.8zM81.4,614.5l2-.1 1.6,.5 1.5,1.2 .6,1.2 .1,1.6-.6,1.5-2.8,2.4-1.6,.1-2-1-1.4-1.3-.8-1.7 0-1.6 .6-1.2 2.7-1.6z" fill-opacity="0.12" fill-rule="evenodd"/><path d="M67,612.9l1.2-.2 .8,1 .2,2-.3,2-1.9,3.4-3.3,2.6-.3-.7 1.3-6.5 1.1-2.3 1.1-1.3zM82.6,615.3l2.4,.9 1,1.9-.8,2.1-2.2,1-2.8-.9-1.1-2.2 1-2 2.4-.8zM62.5,625.3l.8,.7 .8,2.2-1,2.4-1.8,1.3-2,.7-1.6,.1-1.2-.5-.4-1.2 .9-1.6 5.5-4z" fill-opacity="0.12" fill-rule="evenodd"/><path d="M67,614.4l.8,0 .4,.4 .1,1.7-.9,2.4-1.2,.9-.7-.5-.1-1.6 .5-2 .9-1.2zM82.2,616.9l1.2,.1 .7,.7 0,.8-.7,.8-1.5,0-.9-.8 0-.8 .9-.8zM60.5,628l1.9,.2 .2,.8-.5,1.2-2,1.2-2.1,0-.3-.8 .4-.8 2.1-1.6z" fill-opacity="0.12" fill-rule="evenodd"/></g><path d="M67.8,608.9l2,.2 1.1,1.4 .7,2.4-.1,3.2-3.9,12.9-3.1,3.7-4,2.4-3.2,.9-6-.2-10.8,.9-3.6-.4-1.6-.9 .3-1.2 2.9-1.6 4.8-1.4 7.6-1.1 2.8-1.6 2.3-2.3 2.8-6 6-8.9 2.9-2.4zM80.6,612.5l2.8-.2 2.8,.8 2.3,1.8 1.2,2.4 0,2.9-1.6,7.2-1.9,2.7-2.4,1.3-2.8-.4-2.2-2-1.2-2.4-2.2-7.3 0-2 .8-2 2-1.8 2.2-1zM67.8,609.3l1.6,.1 1.3,1.5 .6,2-.1,3.2-.9,3.6-2.4,5.7-.8,3.6-2.2,2.9-3.6,2.5-3.6,1.1-6.8-.6-8.8,.9-3.5-.8 0-.8 1.9-1.2 3.6-1.1 6.8-1 2.8-1.8 3.3-3.3 2.2-4.8 5.7-9.3 2.8-2.4zM80.6,612.8l2.8-.2 2.8,.8 2,1.7 1.1,2.2-.1,2.9-1.7,6.8-1.7,2.4-2,1.1-2.4-.3-2-1.7-3.6-9.2 0-2 .9-2 1.5-1.4 2-1zM67.8,609.7l1.6,.2 .9,1 .6,1.6 .1,2.8-.7,3.6-2.8,6.1-.6,3.6-.8,1.6-3.2,2.9-4,1.8-4,0-3.9-1.5-.1-.8 6.7-6.8 7.1-13.3 1.5-1.8 1.5-1zM82.2,612.9l2.4,.3 2.4,1.2 1.5,1.7 .5,2-2.2,8.5-1.4,2-2,.9-2-.4-1.8-1.7-3.5-8.9 .3-2 1.4-1.8 2-1.3 2.1-.5zM68.2,610.1l1.2,.3 .9,1.3 .4,4-1.2,4.5-2.5,4.9-1.1,4.7-2.6,2.7-3.6,1.8-3.2,.4-2.8-.8-1-1.3 .6-1.6 4.9-5.2 6.5-12.9 1.5-1.8 1.6-1zM81.8,613.3l2.4,.1 2,.8 1.6,1.5 .8,2-.3,2.5-2.1,5.6-1.2,1.7-1.6,.8-1.6-.3-1.3-1-3.9-8.1 .1-2 .9-1.6 1.8-1.3 2.1-.7zM68.2,610.5l1.2,.5 .7,1.1 .3,4-1.2,4.1-2.7,4.8-1,4.8-2.2,2.3-2.8,1.6-3.2,.6-2.6-.5-1.1-1.2 .3-1.6 5.1-5.6 6.1-12.5 1.5-1.7 1.4-.7zM81.4,613.7l2-.1 2.4,.8 1.5,1.3 .8,2 0,1.6-.8,2.1-2.3,4.2-1.6,1.1-1.2-.1-1.1-.8-3.2-4.8-.9-2.1 .1-1.6 .7-1.6 1.6-1.3 1.8-.7zM67.4,611.1l1.2-.1 1.1,1.1 .4,4-1,3.6-3.1,5.3-.9,4.8-2.2,2.2-2.8,1.5-2.4,.5-2.4-.5-1.1-1.3 .4-1.6 5-5.2 5.1-11.3 2.3-2.8zM81.4,614.1l2-.1 2,.7 1.6,1.4 .7,1.6-.8,3.3-1.9,2.3-1.6,1.2-1.2-.1-2.4-2-1.6-1.8-.7-1.7 0-1.6 .7-1.3 1.2-1.1 1.8-.8zM67.4,611.6l1.2,0 .9,.9 .3,3.6-1,3.6-3.4,5.3-.2,3.2-.5,1.6-1.8,1.8-2.8,1.6-2.4,.4-2-.5-.8-.9 .2-1.6 5.1-5.2 2.7-5.6 1.9-5.3 2.3-2.8zM81.4,614.5l2-.1 1.6,.5 1.5,1.2 .6,1.2 .1,1.6-.6,1.5-2.8,2.4-1.6,.1-2-1-1.4-1.3-.8-1.7 0-1.6 .6-1.2 2.7-1.6zM67.4,612.1l1.2,.1 .6,.7 .3,3.6-1.3,3.7-3.6,4.8-.2,4.4-1.2,1.6-2.3,1.5-2.4,.7-2-.3-1-1.1 .2-1.2 1.2-1.6 4.1-3.6 2.2-4.8 2-6.1 2.1-2.4zM81.8,614.9l3.2,.6 1.1,1 .5,1.2-.1,1.6-.7,1.2-2.4,1.5-2.8-.6-2-2.5 .4-2.4 2.5-1.6zM67,612.9l1.2-.2 .8,1 .2,2-.3,2-1.9,3.4-3.3,2.6-.3-.7 1.3-6.5 1.1-2.3 1.1-1.3zM82.6,615.3l2.4,.9 1,1.9-.8,2.1-2.2,1-2.8-.9-1.1-2.2 1-2 2.4-.8zM62.5,625.3l.8,.7 .8,2.2-1,2.4-1.8,1.3-2,.7-1.6,.1-1.2-.5-.4-1.2 .9-1.6 5.5-4zM67,613.6l.8-.2 .8,.6 .1,2.9-1.3,2.9-2.1,1.3-.6-.9 .1-2.5 .8-2.4 1.1-1.6zM81.8,616l2,.2 1.2,1.1 .1,1.6-1.3,1.3-2,.2-1.6-1.2-.2-1.9 1.5-1.2zM61.7,626.9l1.2,.4 .5,.9-.1,1.2-.8,1.2-2.8,1.5-1.6,.1-1-.4-.2-1.2 .7-1.2 4-2.4zM67,614.4l.8,0 .4,.4 .1,1.7-.9,2.4-1.2,.9-.7-.5-.1-1.6 .5-2 .9-1.2zM82.2,616.9l1.2,.1 .7,.7 0,.8-.7,.8-1.5,0-.9-.8 0-.8 .9-.8zM60.5,628l1.9,.2 .2,.8-.5,1.2-2,1.2-2.1,0-.3-.8 .4-.8 2.1-1.6zM67,615.9l.4,.1 0,.9-.8,1 .1-1.8zM60.5,629l.9,.4-.5,.8-1.7,.4 0-.8 1.3-.8z" fill="none" stroke="#000" stroke-width="0.42" stroke-linejoin="round"/><path d="M56.5,612.5h.8v.8h-.8zM54.9,649.8h.8v.8h-.8zM53.4,648.4h.8v.8h-.8zM91.2,616.4h.8v.8h-.8zM44.2,600.0h.8v.8h-.8zM68.5,630.7h.8v.8h-.8zM82.7,635.0h.8v.8h-.8zM74.0,610.8h.8v.8h-.8zM88.8,612.3h.8v.8h-.8zM49.5,639.4h.8v.8h-.8zM73.9,618.0h.8v.8h-.8zM34.9,647.5h.8v.8h-.8zM73.2,627.3h.8v.8h-.8zM56.8,621.9h.8v.8h-.8zM56.1,613.1h.8v.8h-.8zM91.7,621.9h.8v.8h-.8zM54.9,640.0h.8v.8h-.8zM70.0,609.0h.8v.8h-.8zM61.0,652.8h.8v.8h-.8zM60.8,636.5h.8v.8h-.8zM65.6,594.9h.8v.8h-.8zM73.0,639.4h.8v.8h-.8zM74.1,636.3h.8v.8h-.8zM81.0,612.3h.8v.8h-.8zM54.4,640.7h.8v.8h-.8zM58.4,619.0h.8v.8h-.8zM70.1,605.8h.8v.8h-.8zM75.9,614.8h.8v.8h-.8zM57.1,636.1h.8v.8h-.8zM90.3,605.2h.8v.8h-.8zM70.5,606.6h.8v.8h-.8zM89.0,627.5h.8v.8h-.8zM60.6,614.4h.8v.8h-.8zM57.2,637.5h.8v.8h-.8zM73.4,618.0h.8v.8h-.8zM65.5,593.7h.8v.8h-.8zM87.0,612.1h.8v.8h-.8zM79.0,630.4h.8v.8h-.8zM77.9,609.9h.8v.8h-.8zM84.0,631.7h.8v.8h-.8zM34.3,629.1h.8v.8h-.8zM33.6,633.7h.8v.8h-.8zM74.2,622.7h.8v.8h-.8zM60.3,613.2h.8v.8h-.8zM74.0,605.1h.8v.8h-.8zM57.9,637.2h.8v.8h-.8zM87.7,634.3h.8v.8h-.8zM65.9,632.8h.8v.8h-.8zM57.2,621.3h.8v.8h-.8zM90.3,617.9h.8v.8h-.8zM76.4,614.5h.8v.8h-.8zM74.7,618.9h.8v.8h-.8zM35.3,628.4h.8v.8h-.8zM72.2,622.4h.8v.8h-.8zM45.2,630.6h.8v.8h-.8zM81.6,632.5h.8v.8h-.8zM53.5,636.1h.8v.8h-.8zM56.8,636.7h.8v.8h-.8zM93.4,617.7h.8v.8h-.8zM85.4,609.5h.8v.8h-.8zM69.8,608.7h.8v.8h-.8zM39.0,627.3h.8v.8h-.8zM48.1,639.6h.8v.8h-.8zM40.0,636.9h.8v.8h-.8zM71.5,609.8h.8v.8h-.8zM92.1,627.2h.8v.8h-.8zM55.7,625.0h.8v.8h-.8zM56.5,621.5h.8v.8h-.8zM74.6,611.8h.8v.8h-.8zM75.7,615.5h.8v.8h-.8zM74.9,615.1h.8v.8h-.8zM43.4,629.9h.8v.8h-.8zM35.2,633.7h.8v.8h-.8zM39.6,643.0h.8v.8h-.8zM76.8,591.1h.8v.8h-.8zM82.9,633.2h.8v.8h-.8zM79.5,612.0h.8v.8h-.8zM37.2,648.7h.8v.8h-.8zM40.5,645.5h.8v.8h-.8zM81.6,612.0h.8v.8h-.8zM89.5,616.1h.8v.8h-.8zM74.4,636.8h.8v.8h-.8zM80.4,631.6h.8v.8h-.8zM73.2,619.2h.8v.8h-.8zM73.7,620.0h.8v.8h-.8zM75.2,602.1h.8v.8h-.8zM97.4,626.5h.8v.8h-.8zM64.7,633.4h.8v.8h-.8zM69.1,595.9h.8v.8h-.8zM64.1,633.3h.8v.8h-.8zM42.3,643.9h.8v.8h-.8zM61.7,593.0h.8v.8h-.8zM74.4,614.5h.8v.8h-.8zM36.2,627.9h.8v.8h-.8zM44.2,637.5h.8v.8h-.8zM54.8,620.3h.8v.8h-.8zM50.2,622.3h.8v.8h-.8zM90.6,617.3h.8v.8h-.8zM50.1,628.9h.8v.8h-.8zM46.9,643.2h.8v.8h-.8zM47.2,600.8h.8v.8h-.8zM79.9,610.4h.8v.8h-.8zM82.9,633.8h.8v.8h-.8zM68.6,626.2h.8v.8h-.8zM91.9,616.7h.8v.8h-.8zM91.2,612.3h.8v.8h-.8zM73.3,615.1h.8v.8h-.8zM58.5,619.1h.8v.8h-.8zM63.5,634.3h.8v.8h-.8zM83.8,611.1h.8v.8h-.8zM71.8,621.1h.8v.8h-.8zM39.8,628.9h.8v.8h-.8zM70.2,648.2h.8v.8h-.8zM87.8,612.6h.8v.8h-.8zM40.2,628.4h.8v.8h-.8zM53.9,620.4h.8v.8h-.8zM41.2,639.7h.8v.8h-.8zM74.8,619.1h.8v.8h-.8zM71.1,608.9h.8v.8h-.8zM56.1,636.3h.8v.8h-.8zM70.4,620.8h.8v.8h-.8zM92.7,602.1h.8v.8h-.8zM73.8,590.2h.8v.8h-.8zM74.6,619.6h.8v.8h-.8zM78.2,629.0h.8v.8h-.8zM48.8,596.5h.8v.8h-.8zM61.5,613.6h.8v.8h-.8zM51.3,620.5h.8v.8h-.8zM64.6,588.9h.8v.8h-.8zM52.6,638.0h.8v.8h-.8zM72.9,611.9h.8v.8h-.8zM66.2,637.5h.8v.8h-.8zM88.5,628.9h.8v.8h-.8zM70.2,635.0h.8v.8h-.8zM87.6,613.6h.8v.8h-.8zM87.5,632.3h.8v.8h-.8zM80.9,591.4h.8v.8h-.8zM72.7,649.7h.8v.8h-.8zM74.7,624.2h.8v.8h-.8zM58.6,609.5h.8v.8h-.8zM72.4,612.0h.8v.8h-.8zM75.5,623.7h.8v.8h-.8zM74.5,618.8h.8v.8h-.8zM85.7,636.0h.8v.8h-.8zM71.9,615.8h.8v.8h-.8zM51.9,651.8h.8v.8h-.8zM68.6,605.5h.8v.8h-.8zM68.2,630.4h.8v.8h-.8zM42.8,601.5h.8v.8h-.8zM74.4,619.5h.8v.8h-.8zM33.2,640.4h.8v.8h-.8zM90.6,625.4h.8v.8h-.8zM88.6,614.6h.8v.8h-.8zM72.9,628.6h.8v.8h-.8zM57.0,592.6h.8v.8h-.8zM34.5,646.0h.8v.8h-.8zM77.3,612.4h.8v.8h-.8zM63.4,609.4h.8v.8h-.8zM70.7,628.6h.8v.8h-.8zM90.1,623.4h.8v.8h-.8zM71.7,613.3h.8v.8h-.8zM93.3,626.4h.8v.8h-.8zM73.0,631.6h.8v.8h-.8zM72.9,626.8h.8v.8h-.8zM86.9,589.2h.8v.8h-.8zM88.5,626.8h.8v.8h-.8zM57.5,619.8h.8v.8h-.8zM79.6,633.9h.8v.8h-.8zM67.0,633.1h.8v.8h-.8zM69.4,630.1h.8v.8h-.8zM70.8,610.2h.8v.8h-.8zM73.7,609.8h.8v.8h-.8zM33.2,637.6h.8v.8h-.8zM56.5,621.7h.8v.8h-.8zM58.5,588.9h.8v.8h-.8zM61.8,634.8h.8v.8h-.8zM63.2,611.5h.8v.8h-.8zM74.2,612.0h.8v.8h-.8zM58.6,641.7h.8v.8h-.8zM47.4,636.9h.8v.8h-.8zM55.2,626.1h.8v.8h-.8zM70.5,608.5h.8v.8h-.8zM71.6,596.7h.8v.8h-.8zM80.3,634.3h.8v.8h-.8zM89.5,615.8h.8v.8h-.8zM73.4,610.0h.8v.8h-.8zM62.5,634.6h.8v.8h-.8zM36.6,632.9h.8v.8h-.8zM62.8,634.7h.8v.8h-.8zM71.2,619.0h.8v.8h-.8zM91.0,619.7h.8v.8h-.8zM73.2,609.9h.8v.8h-.8zM88.3,613.4h.8v.8h-.8zM66.0,606.6h.8v.8h-.8zM79.8,611.9h.8v.8h-.8zM58.8,638.1h.8v.8h-.8zM64.2,642.6h.8v.8h-.8zM71.7,612.6h.8v.8h-.8zM56.7,622.7h.8v.8h-.8zM89.8,624.0h.8v.8h-.8zM89.5,628.7h.8v.8h-.8zM75.1,618.7h.8v.8h-.8zM55.7,598.9h.8v.8h-.8zM71.0,623.8h.8v.8h-.8zM72.4,619.8h.8v.8h-.8zM63.0,613.1h.8v.8h-.8zM66.1,633.7h.8v.8h-.8zM78.3,637.8h.8v.8h-.8zM44.4,639.3h.8v.8h-.8zM75.0,623.3h.8v.8h-.8zM81.6,631.3h.8v.8h-.8zM56.8,599.8h.8v.8h-.8zM62.7,636.4h.8v.8h-.8zM88.6,612.7h.8v.8h-.8zM71.6,595.5h.8v.8h-.8zM75.5,627.3h.8v.8h-.8zM64.2,609.8h.8v.8h-.8zM63.8,612.1h.8v.8h-.8zM73.8,617.6h.8v.8h-.8zM71.7,625.0h.8v.8h-.8zM53.1,628.2h.8v.8h-.8zM66.4,601.3h.8v.8h-.8zM83.0,611.3h.8v.8h-.8zM41.2,642.4h.8v.8h-.8zM60.8,644.0h.8v.8h-.8zM92.2,612.8h.8v.8h-.8zM60.6,646.2h.8v.8h-.8zM80.4,605.5h.8v.8h-.8zM54.7,640.5h.8v.8h-.8zM77.9,637.3h.8v.8h-.8zM83.8,638.6h.8v.8h-.8zM68.9,607.7h.8v.8h-.8zM86.6,609.4h.8v.8h-.8zM83.8,611.5h.8v.8h-.8zM71.8,610.5h.8v.8h-.8zM82.7,610.3h.8v.8h-.8zM44.7,637.1h.8v.8h-.8zM89.9,614.9h.8v.8h-.8zM64.6,610.0h.8v.8h-.8zM61.8,608.2h.8v.8h-.8z" fill="#333"/>
</g>
<g clip-path="url(#fc3)">
<g fill="#000"><path d="M140.1,607.3l3.2,0 2.4,1.2 1.3,1.7 1.7,4 5.4-2 2.4,.4 2,1.2 1.8,2.4 .9,2.8 0,3.2-1.2,3.2-1.5,1.8-2,1.2-2.4,.3-2-.5-1.6-1-1.6-1.8-2.4-5.6-2.4,2.2-7.1,9-3.8,3.4-2.8,1.6-3.2,1.1-2.8,.1-2-.7-1.8-1.9-.7-2.8 .5-3.2 1.7-3.6 6.5-9.2 3-3.6 4-3.2 4.1-1.6z" fill-opacity="0.12" fill-rule="evenodd"/><path d="M140.5,608.2l3.6,.6 1.2,1 .9,1.6 .3,4-1.8,4-8.3,9.6-3.6,3.2-4.8,2.1-2,.1-1.6-.6-1.6-2.4 .1-3.2 1.4-3.2 4.8-8.4 2.4-3.2 2.9-2.7 2.8-1.6 3.2-.9zM153.7,614.1l2,.1 2,1.2 1.5,2 .6,2.4-.2,2.4-1,2.4-1.7,1.6-2,.7-2-.3-1.9-1.2-1.3-2-.6-2.4 .1-2.4 .9-2 1.6-1.6 1.8-.8z" fill-opacity="0.12" fill-rule="evenodd"/><path d="M139.3,609.3l3.6,.2 2,1.9 .5,3.2-1.2,3.6-3.3,4.4-6.5,5.4-4,2.4-2.8,0-1.1-1.4-.1-2 3.3-9.6 1.9-2.8 2.4-2.6 2.4-1.6 2.7-1zM153.3,617l1.2-.3 1.2,.3 1.2,1 .6,1.4-.2,2.9-2,1.9-2.4-.4-1.4-2 0-2.8 1.7-2z" fill-opacity="0.12" fill-rule="evenodd"/><path d="M138.8,610.5l2.9,0 2,1.7 .5,2.8-1.1,3.2-2.5,3.2-3.4,2.7-3.6,1.5-2.4-.2-1.1-1.2-.3-2 1.2-4.8 3.4-4.4 4.3-2.4z" fill-opacity="0.12" fill-rule="evenodd"/><path d="M138,612.1l2.5-.2 1.7,1.1 .5,2-.6,2.4-1.6,2.5-2.5,2-2.8,1.2-2-.1-.9-.8-.5-1.2 .4-3.2 2.2-3.4 3.4-2.2z" fill-opacity="0.12" fill-rule="evenodd"/><path d="M137.6,614l1.2-.2 1.3,.4 .6,1.2-.2,1.6-2.5,2.9-1.6,.8-1.4-.1-1-1 .1-1.8 1.1-2 2.1-1.6z" fill-opacity="0.12" fill-rule="evenodd"/></g><path d="M140.1,607.3l3.2,0 2.4,1.2 1.3,1.7 1.7,4 5.4-2 2.4,.4 2,1.2 1.8,2.4 .9,2.8 0,3.2-1.2,3.2-1.5,1.8-2,1.2-2.4,.3-2-.5-1.6-1-1.6-1.8-2.4-5.6-2.4,2.2-7.1,9-3.8,3.4-2.8,1.6-3.2,1.1-2.8,.1-2-.7-1.8-1.9-.7-2.8 .5-3.2 1.7-3.6 6.5-9.2 3-3.6 4-3.2 4.1-1.6zM140.1,607.7l3.6,.3 1.6,.9 1,1.3 .8,2 .2,2.4-1.1,3.6-9,11.2-4,3.8-2.8,1.7-2.8,.9-2.4,0-2-.7-1.5-1.7-.5-2.4 .6-3.2 1.6-3.2 5.7-8.8 2.6-3.2 3.9-3.1 4.3-1.7zM152.9,613.3l2.4-.1 2.4,1 1.8,2 1,2.8 0,2.8-.9,2.8-1.9,2.2-2.4,1-2.4-.2-2-1.1-1.8-2.3-.9-2.8-.1-2.8 .7-2 1.8-2 2.2-1.2zM140.5,608.2l3.6,.6 1.2,1 .9,1.6 .3,4-1.8,4-8.3,9.6-3.6,3.2-4.8,2.1-2,.1-1.6-.6-1.6-2.4 .1-3.2 1.4-3.2 4.8-8.4 2.4-3.2 2.9-2.7 2.8-1.6 3.2-.9zM153.7,614.1l2,.1 2,1.2 1.5,2 .6,2.4-.2,2.4-1,2.4-1.7,1.6-2,.7-2-.3-1.9-1.2-1.3-2-.6-2.4 .1-2.4 .9-2 1.6-1.6 1.8-.8zM138.8,608.9l3.7-.1 1.6,.7 1,1.1 .7,1.6 .2,2-1.2,4-3.5,4.8-8.1,7.5-4,2.1-3.2-.2-1.5-1.8-.1-2.4 4.5-10.4 2.1-3.2 2.2-2.4 2.4-1.8 3.2-1.4zM153.7,615.3l1.6,0 1.6,.8 1.2,1.4 .7,1.9 0,2-.6,2-1.3,1.5-1.6,.8-1.6,0-1.6-.8-1.3-1.5-.7-2 .6-3.6 1.2-1.6 1.5-.8zM139.3,609.3l3.6,.2 2,1.9 .5,3.2-1.2,3.6-3.3,4.4-6.5,5.4-4,2.4-2.8,0-1.1-1.4-.1-2 3.3-9.6 1.9-2.8 2.4-2.6 2.4-1.6 2.7-1zM153.3,617l1.2-.3 1.2,.3 1.2,1 .6,1.4-.2,2.9-2,1.9-2.4-.4-1.4-2 0-2.8 1.7-2zM140.1,609.8l2.8,.5 1.6,1.9 .2,3.2-1.3,3.2-2.5,3.3-4.1,3.3-4.4,2.3-2.8,.2-.9-1.5-.1-2.8 .7-3.6 1.5-3.2 1.7-2.4 2.3-2.2 2.8-1.6 2.3-.6zM154.5,619.3l.8,.5 .2,.8-1,1.1-1-1.1 .7-1.2zM138.8,610.5l2.9,0 2,1.7 .5,2.8-1.1,3.2-2.5,3.2-3.4,2.7-3.6,1.5-2.4-.2-1.1-1.2-.3-2 1.2-4.8 3.4-4.4 4.3-2.4zM138.4,611.3l2.5-.2 2,1.2 .6,2.3-.7,2.8-1.9,3-2.9,2.4-3.2,1.4-2.4-.1-.9-.7-.7-1.6 .6-4 2.8-4 3.9-2.4zM138,612.1l2.5-.2 1.7,1.1 .5,2-.6,2.4-1.6,2.5-2.5,2-2.8,1.2-2-.1-.9-.8-.5-1.2 .4-3.2 2.2-3.4 3.4-2.2zM138,612.9l2.1-.1 1.4,1 .4,1.6-.6,2-1.3,2-2,1.6-2,.9-2-.1-1.2-1.6 .4-2.8 2-2.8 2.6-1.6zM137.6,614l1.2-.2 1.3,.4 .6,1.2-.2,1.6-2.5,2.9-1.6,.8-1.4-.1-1-1 .1-1.8 1.1-2 2.1-1.6zM137.2,615.8l1.5,0 .2,1.2-.9,1.2-1.6,.6-.6-.6 0-.8 1.4-1.6z" fill="none" stroke="#000" stroke-width="0.42" stroke-linejoin="round"/><path d="M161.6,629.6h.8v.8h-.8zM166.6,590.0h.8v.8h-.8zM154.6,612.0h.8v.8h-.8zM140.2,601.3h.8v.8h-.8zM149.3,630.7h.8v.8h-.8zM122.5,615.5h.8v.8h-.8zM151.1,603.0h.8v.8h-.8zM129.6,637.1h.8v.8h-.8zM127.1,591.7h.8v.8h-.8zM147.9,626.3h.8v.8h-.8zM144.3,607.4h.8v.8h-.8zM150.4,603.6h.8v.8h-.8zM126.5,637.7h.8v.8h-.8zM146.5,608.9h.8v.8h-.8zM144.9,627.0h.8v.8h-.8zM155.3,611.4h.8v.8h-.8zM119.4,624.8h.8v.8h-.8zM122.8,644.9h.8v.8h-.8zM144.8,622.3h.8v.8h-.8zM126.8,617.5h.8v.8h-.8zM139.2,643.1h.8v.8h-.8zM129.2,639.8h.8v.8h-.8zM146.1,620.7h.8v.8h-.8zM109.5,635.2h.8v.8h-.8zM137.1,631.7h.8v.8h-.8zM160.9,631.0h.8v.8h-.8zM114.0,638.1h.8v.8h-.8zM153.7,605.2h.8v.8h-.8zM147.0,643.1h.8v.8h-.8zM146.8,596.8h.8v.8h-.8zM124.8,638.9h.8v.8h-.8zM157.5,612.0h.8v.8h-.8zM143.2,624.6h.8v.8h-.8zM126.9,617.1h.8v.8h-.8zM147.8,605.2h.8v.8h-.8zM123.9,643.5h.8v.8h-.8zM123.0,646.0h.8v.8h-.8zM110.3,621.8h.8v.8h-.8zM139.4,639.1h.8v.8h-.8zM126.0,619.0h.8v.8h-.8zM140.1,604.4h.8v.8h-.8zM155.0,636.9h.8v.8h-.8zM109.6,587.4h.8v.8h-.8zM161.8,614.6h.8v.8h-.8zM120.1,636.9h.8v.8h-.8zM139.4,607.2h.8v.8h-.8zM114.2,640.1h.8v.8h-.8zM148.5,611.4h.8v.8h-.8zM134.6,609.6h.8v.8h-.8zM157.9,635.0h.8v.8h-.8zM138.5,607.7h.8v.8h-.8zM154.5,606.4h.8v.8h-.8zM115.8,642.4h.8v.8h-.8zM133.9,634.2h.8v.8h-.8zM126.5,645.5h.8v.8h-.8zM114.6,620.0h.8v.8h-.8zM149.4,607.8h.8v.8h-.8zM111.5,650.2h.8v.8h-.8zM139.1,606.8h.8v.8h-.8zM136.5,631.7h.8v.8h-.8zM152.7,610.3h.8v.8h-.8zM157.1,634.5h.8v.8h-.8zM160.7,624.3h.8v.8h-.8zM135.5,603.4h.8v.8h-.8zM121.5,640.3h.8v.8h-.8zM151.2,608.7h.8v.8h-.8zM121.2,607.9h.8v.8h-.8zM129.2,591.4h.8v.8h-.8zM125.7,616.9h.8v.8h-.8zM123.2,639.2h.8v.8h-.8zM116.1,642.1h.8v.8h-.8zM115.8,635.5h.8v.8h-.8zM117.0,638.1h.8v.8h-.8zM167.6,639.1h.8v.8h-.8zM158.1,631.7h.8v.8h-.8zM117.9,628.5h.8v.8h-.8zM124.3,638.3h.8v.8h-.8zM111.7,600.4h.8v.8h-.8zM128.4,648.7h.8v.8h-.8zM145.5,625.9h.8v.8h-.8zM130.7,642.1h.8v.8h-.8zM124.7,637.3h.8v.8h-.8zM153.5,610.3h.8v.8h-.8zM119.8,620.8h.8v.8h-.8zM147.7,588.0h.8v.8h-.8zM139.2,603.8h.8v.8h-.8zM148.0,608.0h.8v.8h-.8zM155.1,642.1h.8v.8h-.8zM133.6,638.6h.8v.8h-.8zM162.5,626.9h.8v.8h-.8zM153.2,611.7h.8v.8h-.8zM154.3,600.5h.8v.8h-.8zM120.9,637.0h.8v.8h-.8zM158.3,633.5h.8v.8h-.8zM133.5,636.0h.8v.8h-.8zM139.4,631.8h.8v.8h-.8zM143.2,624.2h.8v.8h-.8zM107.3,617.7h.8v.8h-.8zM166.4,615.3h.8v.8h-.8zM144.8,633.7h.8v.8h-.8zM161.3,618.3h.8v.8h-.8zM122.8,640.9h.8v.8h-.8zM107.9,607.6h.8v.8h-.8zM145.6,640.4h.8v.8h-.8zM123.3,644.5h.8v.8h-.8zM147.3,623.2h.8v.8h-.8zM140.1,636.1h.8v.8h-.8zM110.7,635.7h.8v.8h-.8zM108.8,646.6h.8v.8h-.8zM119.7,641.9h.8v.8h-.8zM154.0,608.0h.8v.8h-.8zM123.6,612.2h.8v.8h-.8zM146.2,623.9h.8v.8h-.8zM145.4,607.0h.8v.8h-.8zM117.5,629.9h.8v.8h-.8zM164.3,624.1h.8v.8h-.8zM145.8,606.1h.8v.8h-.8zM154.8,630.1h.8v.8h-.8zM145.9,606.8h.8v.8h-.8zM133.3,607.9h.8v.8h-.8zM149.3,608.7h.8v.8h-.8zM154.4,641.3h.8v.8h-.8zM161.8,629.9h.8v.8h-.8zM125.9,638.5h.8v.8h-.8zM160.9,628.9h.8v.8h-.8zM139.9,630.9h.8v.8h-.8zM151.7,630.2h.8v.8h-.8zM137.3,632.0h.8v.8h-.8zM161.9,613.0h.8v.8h-.8zM139.7,606.6h.8v.8h-.8zM147.3,606.6h.8v.8h-.8zM158.1,612.2h.8v.8h-.8zM163.3,625.5h.8v.8h-.8zM133.2,640.8h.8v.8h-.8zM163.2,619.0h.8v.8h-.8zM151.2,602.6h.8v.8h-.8zM148.1,613.3h.8v.8h-.8zM147.2,595.1h.8v.8h-.8zM131.2,610.7h.8v.8h-.8zM153.0,632.4h.8v.8h-.8zM137.8,607.1h.8v.8h-.8zM140.0,606.2h.8v.8h-.8zM149.4,607.0h.8v.8h-.8zM152.2,597.0h.8v.8h-.8zM139.4,606.7h.8v.8h-.8zM143.7,624.9h.8v.8h-.8zM120.6,645.6h.8v.8h-.8zM156.9,610.7h.8v.8h-.8zM118.7,624.3h.8v.8h-.8zM112.2,620.4h.8v.8h-.8zM153.7,643.8h.8v.8h-.8zM166.3,615.6h.8v.8h-.8zM138.7,607.1h.8v.8h-.8zM148.4,611.8h.8v.8h-.8zM148.6,612.4h.8v.8h-.8zM129.3,638.4h.8v.8h-.8zM122.5,623.2h.8v.8h-.8zM147.2,606.5h.8v.8h-.8zM150.3,596.6h.8v.8h-.8zM145.4,638.8h.8v.8h-.8zM116.2,631.8h.8v.8h-.8zM131.9,603.8h.8v.8h-.8zM158.7,591.9h.8v.8h-.8zM158.7,606.1h.8v.8h-.8zM115.0,635.3h.8v.8h-.8zM106.8,630.3h.8v.8h-.8zM161.4,624.1h.8v.8h-.8zM149.0,611.0h.8v.8h-.8zM155.4,607.1h.8v.8h-.8zM128.1,614.1h.8v.8h-.8zM130.3,638.7h.8v.8h-.8zM117.9,642.9h.8v.8h-.8zM119.1,640.1h.8v.8h-.8zM154.9,601.3h.8v.8h-.8zM143.3,629.8h.8v.8h-.8zM117.5,639.5h.8v.8h-.8zM130.0,613.9h.8v.8h-.8zM146.4,622.3h.8v.8h-.8zM160.6,602.3h.8v.8h-.8zM141.4,606.3h.8v.8h-.8zM141.7,634.7h.8v.8h-.8zM135.6,605.7h.8v.8h-.8zM142.2,626.2h.8v.8h-.8zM126.0,618.8h.8v.8h-.8zM143.3,627.0h.8v.8h-.8zM130.9,608.9h.8v.8h-.8zM129.0,610.0h.8v.8h-.8zM140.9,632.6h.8v.8h-.8zM116.5,633.3h.8v.8h-.8zM145.7,601.5h.8v.8h-.8zM128.1,641.7h.8v.8h-.8zM124.6,619.4h.8v.8h-.8zM138.5,639.2h.8v.8h-.8zM144.7,623.8h.8v.8h-.8zM123.6,652.2h.8v.8h-.8zM144.4,592.1h.8v.8h-.8zM161.1,607.2h.8v.8h-.8zM133.9,604.5h.8v.8h-.8zM142.1,596.5h.8v.8h-.8zM129.2,613.8h.8v.8h-.8zM129.5,612.0h.8v.8h-.8zM120.8,625.1h.8v.8h-.8zM154.6,609.2h.8v.8h-.8zM136.8,632.1h.8v.8h-.8zM111.9,637.8h.8v.8h-.8zM147.3,624.9h.8v.8h-.8zM143.4,640.1h.8v.8h-.8zM119.5,627.1h.8v.8h-.8zM127.8,616.7h.8v.8h-.8zM110.2,622.7h.8v.8h-.8zM154.3,632.2h.8v.8h-.8zM128.8,611.7h.8v.8h-.8zM137.1,606.2h.8v.8h-.8zM143.5,605.9h.8v.8h-.8zM144.7,624.1h.8v.8h-.8zM140.2,607.0h.8v.8h-.8zM111.7,627.6h.8v.8h-.8zM133.7,652.4h.8v.8h-.8zM121.1,640.1h.8v.8h-.8zM127.4,612.9h.8v.8h-.8zM163.1,613.4h.8v.8h-.8zM127.7,614.5h.8v.8h-.8zM142.8,625.4h.8v.8h-.8zM161.3,621.9h.8v.8h-.8zM133.2,610.7h.8v.8h-.8zM147.1,607.9h.8v.8h-.8zM119.6,649.9h.8v.8h-.8zM129.4,612.4h.8v.8h-.8zM145.7,607.5h.8v.8h-.8zM141.4,605.3h.8v.8h-.8zM146.5,621.2h.8v.8h-.8zM163.9,615.9h.8v.8h-.8zM125.7,640.3h.8v.8h-.8zM143.0,598.6h.8v.8h-.8zM117.4,632.7h.8v.8h-.8zM156.5,632.3h.8v.8h-.8zM148.5,612.0h.8v.8h-.8zM137.8,631.1h.8v.8h-.8zM134.0,636.0h.8v.8h-.8zM138.8,605.6h.8v.8h-.8z" fill="#333"/>
</g>
<rect x="32.7" y="514.4" width="66.1" height="66.4" fill="none" stroke="#222" stroke-width="0.9"/>
<line x1="75.6" y1="514.4" x2="75.6" y2="580.8" stroke="#222" stroke-width="0.8"/>
<line x1="32.7" y1="551.5" x2="98.8" y2="551.5" stroke="#222" stroke-width="0.8"/>
<line x1="33.7" y1="580.8" x2="33.7" y2="582.8" stroke="#222" stroke-width="0.7"/>
<line x1="35.64" y1="580.8" x2="35.64" y2="582" stroke="#222" stroke-width="0.7"/>
<line x1="37.58" y1="580.8" x2="37.58" y2="582" stroke="#222" stroke-width="0.7"/>
<line x1="39.53" y1="580.8" x2="39.53" y2="582" stroke="#222" stroke-width="0.7"/>
<line x1="41.47" y1="580.8" x2="41.47" y2="582" stroke="#222" stroke-width="0.7"/>
<line x1="43.41" y1="580.8" x2="43.41" y2="582" stroke="#222" stroke-width="0.7"/>
<line x1="45.35" y1="580.8" x2="45.35" y2="582.8" stroke="#222" stroke-width="0.7"/>
<line x1="47.3" y1="580.8" x2="47.3" y2="582" stroke="#222" stroke-width="0.7"/>
<line x1="49.24" y1="580.8" x2="49.24" y2="582" stroke="#222" stroke-width="0.7"/>
<line x1="51.18" y1="580.8" x2="51.18" y2="582" stroke="#222" stroke-width="0.7"/>
<line x1="53.12" y1="580.8" x2="53.12" y2="582" stroke="#222" stroke-width="0.7"/>
<line x1="55.07" y1="580.8" x2="55.07" y2="582" stroke="#222" stroke-width="0.7"/>
<line x1="57.01" y1="580.8" x2="57.01" y2="582.8" stroke="#222" stroke-width="0.7"/>
<line x1="58.95" y1="580.8" x2="58.95" y2="582" stroke="#222" stroke-width="0.7"/>
<line x1="60.89" y1="580.8" x2="60.89" y2="582" stroke="#222" stroke-width="0.7"/>
<line x1="62.84" y1="580.8" x2="62.84" y2="582" stroke="#222" stroke-width="0.7"/>
<line x1="64.78" y1="580.8" x2="64.78" y2="582" stroke="#222" stroke-width="0.7"/>
<line x1="66.72" y1="580.8" x2="66.72" y2="582" stroke="#222" stroke-width="0.7"/>
<line x1="68.66" y1="580.8" x2="68.66" y2="582.8" stroke="#222" stroke-width="0.7"/>
<line x1="70.61" y1="580.8" x2="70.61" y2="582" stroke="#222" stroke-width="0.7"/>
<line x1="72.55" y1="580.8" x2="72.55" y2="582" stroke="#222" stroke-width="0.7"/>
<line x1="74.49" y1="580.8" x2="74.49" y2="582" stroke="#222" stroke-width="0.7"/>
<line x1="76.43" y1="580.8" x2="76.43" y2="582" stroke="#222" stroke-width="0.7"/>
<line x1="78.38" y1="580.8" x2="78.38" y2="582" stroke="#222" stroke-width="0.7"/>
<line x1="80.32" y1="580.8" x2="80.32" y2="582.8" stroke="#222" stroke-width="0.7"/>
<line x1="82.26" y1="580.8" x2="82.26" y2="582" stroke="#222" stroke-width="0.7"/>
<line x1="84.2" y1="580.8" x2="84.2" y2="582" stroke="#222" stroke-width="0.7"/>
<line x1="86.15" y1="580.8" x2="86.15" y2="582" stroke="#222" stroke-width="0.7"/>
<line x1="88.09" y1="580.8" x2="88.09" y2="582" stroke="#222" stroke-width="0.7"/>
<line x1="90.03" y1="580.8" x2="90.03" y2="582" stroke="#222" stroke-width="0.7"/>
<line x1="91.97" y1="580.8" x2="91.97" y2="582.8" stroke="#222" stroke-width="0.7"/>
<line x1="93.92" y1="580.8" x2="93.92" y2="582" stroke="#222" stroke-width="0.7"/>
<line x1="95.86" y1="580.8" x2="95.86" y2="582" stroke="#222" stroke-width="0.7"/>
<line x1="97.8" y1="580.8" x2="97.8" y2="582" stroke="#222" stroke-width="0.7"/>
<line x1="30.7" y1="516.4" x2="32.7" y2="516.4" stroke="#222" stroke-width="0.7"/>
<line x1="31.5" y1="518.59" x2="32.7" y2="518.59" stroke="#222" stroke-width="0.7"/>
<line x1="31.5" y1="520.77" x2="32.7" y2="520.77" stroke="#222" stroke-width="0.7"/>
<line x1="31.5" y1="522.96" x2="32.7" y2="522.96" stroke="#222" stroke-width="0.7"/>
<line x1="31.5" y1="525.14" x2="32.7" y2="525.14" stroke="#222" stroke-width="0.7"/>
<line x1="31.5" y1="527.33" x2="32.7" y2="527.33" stroke="#222" stroke-width="0.7"/>
<line x1="30.7" y1="529.52" x2="32.7" y2="529.52" stroke="#222" stroke-width="0.7"/>
<line x1="31.5" y1="531.7" x2="32.7" y2="531.7" stroke="#222" stroke-width="0.7"/>
<line x1="31.5" y1="533.89" x2="32.7" y2="533.89" stroke="#222" stroke-width="0.7"/>
<line x1="31.5" y1="536.08" x2="32.7" y2="536.08" stroke="#222" stroke-width="0.7"/>
<line x1="31.5" y1="538.26" x2="32.7" y2="538.26" stroke="#222" stroke-width="0.7"/>
<line x1="31.5" y1="540.45" x2="32.7" y2="540.45" stroke="#222" stroke-width="0.7"/>
<line x1="30.7" y1="542.63" x2="32.7" y2="542.63" stroke="#222" stroke-width="0.7"/>
<line x1="31.5" y1="544.82" x2="32.7" y2="544.82" stroke="#222" stroke-width="0.7"/>
<line x1="31.5" y1="547.01" x2="32.7" y2="547.01" stroke="#222" stroke-width="0.7"/>
<line x1="31.5" y1="549.19" x2="32.7" y2="549.19" stroke="#222" stroke-width="0.7"/>
<line x1="31.5" y1="551.38" x2="32.7" y2="551.38" stroke="#222" stroke-width="0.7"/>
<line x1="31.5" y1="553.57" x2="32.7" y2="553.57" stroke="#222" stroke-width="0.7"/>
<line x1="30.7" y1="555.75" x2="32.7" y2="555.75" stroke="#222" stroke-width="0.7"/>
<line x1="31.5" y1="557.94" x2="32.7" y2="557.94" stroke="#222" stroke-width="0.7"/>
<line x1="31.5" y1="560.12" x2="32.7" y2="560.12" stroke="#222" stroke-width="0.7"/>
<line x1="31.5" y1="562.31" x2="32.7" y2="562.31" stroke="#222" stroke-width="0.7"/>
<line x1="31.5" y1="564.5" x2="32.7" y2="564.5" stroke="#222" stroke-width="0.7"/>
<line x1="31.5" y1="566.68" x2="32.7" y2="566.68" stroke="#222" stroke-width="0.7"/>
<line x1="30.7" y1="568.87" x2="32.7" y2="568.87" stroke="#222" stroke-width="0.7"/>
<line x1="31.5" y1="571.06" x2="32.7" y2="571.06" stroke="#222" stroke-width="0.7"/>
<line x1="31.5" y1="573.24" x2="32.7" y2="573.24" stroke="#222" stroke-width="0.7"/>
<line x1="31.5" y1="575.43" x2="32.7" y2="575.43" stroke="#222" stroke-width="0.7"/>
<line x1="31.5" y1="577.61" x2="32.7" y2="577.61" stroke="#222" stroke-width="0.7"/>
<line x1="31.5" y1="579.8" x2="32.7" y2="579.8" stroke="#222" stroke-width="0.7"/>
<rect x="105.4" y="514.4" width="67.3" height="66.4" fill="none" stroke="#222" stroke-width="0.9"/>
<line x1="148.3" y1="514.4" x2="148.3" y2="580.8" stroke="#222" stroke-width="0.8"/>
<line x1="105.4" y1="551.5" x2="172.7" y2="551.5" stroke="#222" stroke-width="0.8"/>
<line x1="106.4" y1="580.8" x2="106.4" y2="582.8" stroke="#222" stroke-width="0.7"/>
<line x1="108.38" y1="580.8" x2="108.38" y2="582" stroke="#222" stroke-width="0.7"/>
<line x1="110.36" y1="580.8" x2="110.36" y2="582" stroke="#222" stroke-width="0.7"/>
<line x1="112.34" y1="580.8" x2="112.34" y2="582" stroke="#222" stroke-width="0.7"/>
<line x1="114.32" y1="580.8" x2="114.32" y2="582" stroke="#222" stroke-width="0.7"/>
<line x1="116.29" y1="580.8" x2="116.29" y2="582" stroke="#222" stroke-width="0.7"/>
<line x1="118.27" y1="580.8" x2="118.27" y2="582.8" stroke="#222" stroke-width="0.7"/>
<line x1="120.25" y1="580.8" x2="120.25" y2="582" stroke="#222" stroke-width="0.7"/>
<line x1="122.23" y1="580.8" x2="122.23" y2="582" stroke="#222" stroke-width="0.7"/>
<line x1="124.21" y1="580.8" x2="124.21" y2="582" stroke="#222" stroke-width="0.7"/>
<line x1="126.19" y1="580.8" x2="126.19" y2="582" stroke="#222" stroke-width="0.7"/>
<line x1="128.17" y1="580.8" x2="128.17" y2="582" stroke="#222" stroke-width="0.7"/>
<line x1="130.15" y1="580.8" x2="130.15" y2="582.8" stroke="#222" stroke-width="0.7"/>
<line x1="132.12" y1="580.8" x2="132.12" y2="582" stroke="#222" stroke-width="0.7"/>
<line x1="134.1" y1="580.8" x2="134.1" y2="582" stroke="#222" stroke-width="0.7"/>
<line x1="136.08" y1="580.8" x2="136.08" y2="582" stroke="#222" stroke-width="0.7"/>
<line x1="138.06" y1="580.8" x2="138.06" y2="582" stroke="#222" stroke-width="0.7"/>
<line x1="140.04" y1="580.8" x2="140.04" y2="582" stroke="#222" stroke-width="0.7"/>
<line x1="142.02" y1="580.8" x2="142.02" y2="582.8" stroke="#222" stroke-width="0.7"/>
<line x1="144" y1="580.8" x2="144" y2="582" stroke="#222" stroke-width="0.7"/>
<line x1="145.98" y1="580.8" x2="145.98" y2="582" stroke="#222" stroke-width="0.7"/>
<line x1="147.95" y1="580.8" x2="147.95" y2="582" stroke="#222" stroke-width="0.7"/>
<line x1="149.93" y1="580.8" x2="149.93" y2="582" stroke="#222" stroke-width="0.7"/>
<line x1="151.91" y1="580.8" x2="151.91" y2="582" stroke="#222" stroke-width="0.7"/>
<line x1="153.89" y1="580.8" x2="153.89" y2="582.8" stroke="#222" stroke-width="0.7"/>
<line x1="155.87" y1="580.8" x2="155.87" y2="582" stroke="#222" stroke-width="0.7"/>
<line x1="157.85" y1="580.8" x2="157.85" y2="582" stroke="#222" stroke-width="0.7"/>
<line x1="159.83" y1="580.8" x2="159.83" y2="582" stroke="#222" stroke-width="0.7"/>
<line x1="161.81" y1="580.8" x2="161.81" y2="582" stroke="#222" stroke-width="0.7"/>
<line x1="163.78" y1="580.8" x2="163.78" y2="582" stroke="#222" stroke-width="0.7"/>
<line x1="165.76" y1="580.8" x2="165.76" y2="582.8" stroke="#222" stroke-width="0.7"/>
<line x1="167.74" y1="580.8" x2="167.74" y2="582" stroke="#222" stroke-width="0.7"/>
<line x1="169.72" y1="580.8" x2="169.72" y2="582" stroke="#222" stroke-width="0.7"/>
<line x1="171.7" y1="580.8" x2="171.7" y2="582" stroke="#222" stroke-width="0.7"/>
<line x1="103.4" y1="516.4" x2="105.4" y2="516.4" stroke="#222" stroke-width="0.7"/>
<line x1="104.2" y1="518.59" x2="105.4" y2="518.59" stroke="#222" stroke-width="0.7"/>
<line x1="104.2" y1="520.77" x2="105.4" y2="520.77" stroke="#222" stroke-width="0.7"/>
<line x1="104.2" y1="522.96" x2="105.4" y2="522.96" stroke="#222" stroke-width="0.7"/>
<line x1="104.2" y1="525.14" x2="105.4" y2="525.14" stroke="#222" stroke-width="0.7"/>
<line x1="104.2" y1="527.33" x2="105.4" y2="527.33" stroke="#222" stroke-width="0.7"/>
<line x1="103.4" y1="529.52" x2="105.4" y2="529.52" stroke="#222" stroke-width="0.7"/>
<line x1="104.2" y1="531.7" x2="105.4" y2="531.7" stroke="#222" stroke-width="0.7"/>
<line x1="104.2" y1="533.89" x2="105.4" y2="533.89" stroke="#222" stroke-width="0.7"/>
<line x1="104.2" y1="536.08" x2="105.4" y2="536.08" stroke="#222" stroke-width="0.7"/>
<line x1="104.2" y1="538.26" x2="105.4" y2="538.26" stroke="#222" stroke-width="0.7"/>
<line x1="104.2" y1="540.45" x2="105.4" y2="540.45" stroke="#222" stroke-width="0.7"/>
<line x1="103.4" y1="542.63" x2="105.4" y2="542.63" stroke="#222" stroke-width="0.7"/>
<line x1="104.2" y1="544.82" x2="105.4" y2="544.82" stroke="#222" stroke-width="0.7"/>
<line x1="104.2" y1="547.01" x2="105.4" y2="547.01" stroke="#222" stroke-width="0.7"/>
<line x1="104.2" y1="549.19" x2="105.4" y2="549.19" stroke="#222" stroke-width="0.7"/>
<line x1="104.2" y1="551.38" x2="105.4" y2="551.38" stroke="#222" stroke-width="0.7"/>
<line x1="104.2" y1="553.57" x2="105.4" y2="553.57" stroke="#222" stroke-width="0.7"/>
<line x1="103.4" y1="555.75" x2="105.4" y2="555.75" stroke="#222" stroke-width="0.7"/>
<line x1="104.2" y1="557.94" x2="105.4" y2="557.94" stroke="#222" stroke-width="0.7"/>
<line x1="104.2" y1="560.12" x2="105.4" y2="560.12" stroke="#222" stroke-width="0.7"/>
<line x1="104.2" y1="562.31" x2="105.4" y2="562.31" stroke="#222" stroke-width="0.7"/>
<line x1="104.2" y1="564.5" x2="105.4" y2="564.5" stroke="#222" stroke-width="0.7"/>
<line x1="104.2" y1="566.68" x2="105.4" y2="566.68" stroke="#222" stroke-width="0.7"/>
<line x1="103.4" y1="568.87" x2="105.4" y2="568.87" stroke="#222" stroke-width="0.7"/>
<line x1="104.2" y1="571.06" x2="105.4" y2="571.06" stroke="#222" stroke-width="0.7"/>
<line x1="104.2" y1="573.24" x2="105.4" y2="573.24" stroke="#222" stroke-width="0.7"/>
<line x1="104.2" y1="575.43" x2="105.4" y2="575.43" stroke="#222" stroke-width="0.7"/>
<line x1="104.2" y1="577.61" x2="105.4" y2="577.61" stroke="#222" stroke-width="0.7"/>
<line x1="104.2" y1="579.8" x2="105.4" y2="579.8" stroke="#222" stroke-width="0.7"/>
<rect x="32.7" y="586.3" width="66.1" height="67.7" fill="none" stroke="#222" stroke-width="0.9"/>
<line x1="75.6" y1="586.3" x2="75.6" y2="654" stroke="#222" stroke-width="0.8"/>
<line x1="32.7" y1="623.3" x2="98.8" y2="623.3" stroke="#222" stroke-width="0.8"/>
<line x1="33.7" y1="654" x2="33.7" y2="656" stroke="#222" stroke-width="0.7"/>
<line x1="35.64" y1="654" x2="35.64" y2="655.2" stroke="#222" stroke-width="0.7"/>
<line x1="37.58" y1="654" x2="37.58" y2="655.2" stroke="#222" stroke-width="0.7"/>
<line x1="39.53" y1="654" x2="39.53" y2="655.2" stroke="#222" stroke-width="0.7"/>
<line x1="41.47" y1="654" x2="41.47" y2="655.2" stroke="#222" stroke-width="0.7"/>
<line x1="43.41" y1="654" x2="43.41" y2="655.2" stroke="#222" stroke-width="0.7"/>
<line x1="45.35" y1="654" x2="45.35" y2="656" stroke="#222" stroke-width="0.7"/>
<line x1="47.3" y1="654" x2="47.3" y2="655.2" stroke="#222" stroke-width="0.7"/>
<line x1="49.24" y1="654" x2="49.24" y2="655.2" stroke="#222" stroke-width="0.7"/>
<line x1="51.18" y1="654" x2="51.18" y2="655.2" stroke="#222" stroke-width="0.7"/>
<line x1="53.12" y1="654" x2="53.12" y2="655.2" stroke="#222" stroke-width="0.7"/>
<line x1="55.07" y1="654" x2="55.07" y2="655.2" stroke="#222" stroke-width="0.7"/>
<line x1="57.01" y1="654" x2="57.01" y2="656" stroke="#222" stroke-width="0.7"/>
<line x1="58.95" y1="654" x2="58.95" y2="655.2" stroke="#222" stroke-width="0.7"/>
<line x1="60.89" y1="654" x2="60.89" y2="655.2" stroke="#222" stroke-width="0.7"/>
<line x1="62.84" y1="654" x2="62.84" y2="655.2" stroke="#222" stroke-width="0.7"/>
<line x1="64.78" y1="654" x2="64.78" y2="655.2" stroke="#222" stroke-width="0.7"/>
<line x1="66.72" y1="654" x2="66.72" y2="655.2" stroke="#222" stroke-width="0.7"/>
<line x1="68.66" y1="654" x2="68.66" y2="656" stroke="#222" stroke-width="0.7"/>
<line x1="70.61" y1="654" x2="70.61" y2="655.2" stroke="#222" stroke-width="0.7"/>
<line x1="72.55" y1="654" x2="72.55" y2="655.2" stroke="#222" stroke-width="0.7"/>
<line x1="74.49" y1="654" x2="74.49" y2="655.2" stroke="#222" stroke-width="0.7"/>
<line x1="76.43" y1="654" x2="76.43" y2="655.2" stroke="#222" stroke-width="0.7"/>
<line x1="78.38" y1="654" x2="78.38" y2="655.2" stroke="#222" stroke-width="0.7"/>
<line x1="80.32" y1="654" x2="80.32" y2="656" stroke="#222" stroke-width="0.7"/>
<line x1="82.26" y1="654" x2="82.26" y2="655.2" stroke="#222" stroke-width="0.7"/>
<line x1="84.2" y1="654" x2="84.2" y2="655.2" stroke="#222" stroke-width="0.7"/>
<line x1="86.15" y1="654" x2="86.15" y2="655.2" stroke="#222" stroke-width="0.7"/>
<line x1="88.09" y1="654" x2="88.09" y2="655.2" stroke="#222" stroke-width="0.7"/>
<line x1="90.03" y1="654" x2="90.03" y2="655.2" stroke="#222" stroke-width="0.7"/>
<line x1="91.97" y1="654" x2="91.97" y2="656" stroke="#222" stroke-width="0.7"/>
<line x1="93.92" y1="654" x2="93.92" y2="655.2" stroke="#222" stroke-width="0.7"/>
<line x1="95.86" y1="654" x2="95.86" y2="655.2" stroke="#222" stroke-width="0.7"/>
<line x1="97.8" y1="654" x2="97.8" y2="655.2" stroke="#222" stroke-width="0.7"/>
<line x1="30.7" y1="588.3" x2="32.7" y2="588.3" stroke="#222" stroke-width="0.7"/>
<line x1="31.5" y1="590.53" x2="32.7" y2="590.53" stroke="#222" stroke-width="0.7"/>
<line x1="31.5" y1="592.76" x2="32.7" y2="592.76" stroke="#222" stroke-width="0.7"/>
<line x1="31.5" y1="594.99" x2="32.7" y2="594.99" stroke="#222" stroke-width="0.7"/>
<line x1="31.5" y1="597.22" x2="32.7" y2="597.22" stroke="#222" stroke-width="0.7"/>
<line x1="31.5" y1="599.46" x2="32.7" y2="599.46" stroke="#222" stroke-width="0.7"/>
<line x1="30.7" y1="601.69" x2="32.7" y2="601.69" stroke="#222" stroke-width="0.7"/>
<line x1="31.5" y1="603.92" x2="32.7" y2="603.92" stroke="#222" stroke-width="0.7"/>
<line x1="31.5" y1="606.15" x2="32.7" y2="606.15" stroke="#222" stroke-width="0.7"/>
<line x1="31.5" y1="608.38" x2="32.7" y2="608.38" stroke="#222" stroke-width="0.7"/>
<line x1="31.5" y1="610.61" x2="32.7" y2="610.61" stroke="#222" stroke-width="0.7"/>
<line x1="31.5" y1="612.84" x2="32.7" y2="612.84" stroke="#222" stroke-width="0.7"/>
<line x1="30.7" y1="615.07" x2="32.7" y2="615.07" stroke="#222" stroke-width="0.7"/>
<line x1="31.5" y1="617.3" x2="32.7" y2="617.3" stroke="#222" stroke-width="0.7"/>
<line x1="31.5" y1="619.53" x2="32.7" y2="619.53" stroke="#222" stroke-width="0.7"/>
<line x1="31.5" y1="621.77" x2="32.7" y2="621.77" stroke="#222" stroke-width="0.7"/>
<line x1="31.5" y1="624" x2="32.7" y2="624" stroke="#222" stroke-width="0.7"/>
<line x1="31.5" y1="626.23" x2="32.7" y2="626.23" stroke="#222" stroke-width="0.7"/>
<line x1="30.7" y1="628.46" x2="32.7" y2="628.46" stroke="#222" stroke-width="0.7"/>
<line x1="31.5" y1="630.69" x2="32.7" y2="630.69" stroke="#222" stroke-width="0.7"/>
<line x1="31.5" y1="632.92" x2="32.7" y2="632.92" stroke="#222" stroke-width="0.7"/>
<line x1="31.5" y1="635.15" x2="32.7" y2="635.15" stroke="#222" stroke-width="0.7"/>
<line x1="31.5" y1="637.38" x2="32.7" y2="637.38" stroke="#222" stroke-width="0.7"/>
<line x1="31.5" y1="639.61" x2="32.7" y2="639.61" stroke="#222" stroke-width="0.7"/>
<line x1="30.7" y1="641.84" x2="32.7" y2="641.84" stroke="#222" stroke-width="0.7"/>
<line x1="31.5" y1="644.08" x2="32.7" y2="644.08" stroke="#222" stroke-width="0.7"/>
<line x1="31.5" y1="646.31" x2="32.7" y2="646.31" stroke="#222" stroke-width="0.7"/>
<line x1="31.5" y1="648.54" x2="32.7" y2="648.54" stroke="#222" stroke-width="0.7"/>
<line x1="31.5" y1="650.77" x2="32.7" y2="650.77" stroke="#222" stroke-width="0.7"/>
<line x1="31.5" y1="653" x2="32.7" y2="653" stroke="#222" stroke-width="0.7"/>
<rect x="105.4" y="586.3" width="67.3" height="67.4" fill="none" stroke="#222" stroke-width="0.9"/>
<line x1="148.3" y1="586.3" x2="148.3" y2="653.7" stroke="#222" stroke-width="0.8"/>
<line x1="105.4" y1="623.3" x2="172.7" y2="623.3" stroke="#222" stroke-width="0.8"/>
<line x1="106.4" y1="653.7" x2="106.4" y2="655.7" stroke="#222" stroke-width="0.7"/>
<line x1="108.38" y1="653.7" x2="108.38" y2="654.9" stroke="#222" stroke-width="0.7"/>
<line x1="110.36" y1="653.7" x2="110.36" y2="654.9" stroke="#222" stroke-width="0.7"/>
<line x1="112.34" y1="653.7" x2="112.34" y2="654.9" stroke="#222" stroke-width="0.7"/>
<line x1="114.32" y1="653.7" x2="114.32" y2="654.9" stroke="#222" stroke-width="0.7"/>
<line x1="116.29" y1="653.7" x2="116.29" y2="654.9" stroke="#222" stroke-width="0.7"/>
<line x1="118.27" y1="653.7" x2="118.27" y2="655.7" stroke="#222" stroke-width="0.7"/>
<line x1="120.25" y1="653.7" x2="120.25" y2="654.9" stroke="#222" stroke-width="0.7"/>
<line x1="122.23" y1="653.7" x2="122.23" y2="654.9" stroke="#222" stroke-width="0.7"/>
<line x1="124.21" y1="653.7" x2="124.21" y2="654.9" stroke="#222" stroke-width="0.7"/>
<line x1="126.19" y1="653.7" x2="126.19" y2="654.9" stroke="#222" stroke-width="0.7"/>
<line x1="128.17" y1="653.7" x2="128.17" y2="654.9" stroke="#222" stroke-width="0.7"/>
<line x1="130.15" y1="653.7" x2="130.15" y2="655.7" stroke="#222" stroke-width="0.7"/>
<line x1="132.12" y1="653.7" x2="132.12" y2="654.9" stroke="#222" stroke-width="0.7"/>
<line x1="134.1" y1="653.7" x2="134.1" y2="654.9" stroke="#222" stroke-width="0.7"/>
<line x1="136.08" y1="653.7" x2="136.08" y2="654.9" stroke="#222" stroke-width="0.7"/>
<line x1="138.06" y1="653.7" x2="138.06" y2="654.9" stroke="#222" stroke-width="0.7"/>
<line x1="140.04" y1="653.7" x2="140.04" y2="654.9" stroke="#222" stroke-width="0.7"/>
<line x1="142.02" y1="653.7" x2="142.02" y2="655.7" stroke="#222" stroke-width="0.7"/>
<line x1="144" y1="653.7" x2="144" y2="654.9" stroke="#222" stroke-width="0.7"/>
<line x1="145.98" y1="653.7" x2="145.98" y2="654.9" stroke="#222" stroke-width="0.7"/>
<line x1="147.95" y1="653.7" x2="147.95" y2="654.9" stroke="#222" stroke-width="0.7"/>
<line x1="149.93" y1="653.7" x2="149.93" y2="654.9" stroke="#222" stroke-width="0.7"/>
<line x1="151.91" y1="653.7" x2="151.91" y2="654.9" stroke="#222" stroke-width="0.7"/>
<line x1="153.89" y1="653.7" x2="153.89" y2="655.7" stroke="#222" stroke-width="0.7"/>
<line x1="155.87" y1="653.7" x2="155.87" y2="654.9" stroke="#222" stroke-width="0.7"/>
<line x1="157.85" y1="653.7" x2="157.85" y2="654.9" stroke="#222" stroke-width="0.7"/>
<line x1="159.83" y1="653.7" x2="159.83" y2="654.9" stroke="#222" stroke-width="0.7"/>
<line x1="161.81" y1="653.7" x2="161.81" y2="654.9" stroke="#222" stroke-width="0.7"/>
<line x1="163.78" y1="653.7" x2="163.78" y2="654.9" stroke="#222" stroke-width="0.7"/>
<line x1="165.76" y1="653.7" x2="165.76" y2="655.7" stroke="#222" stroke-width="0.7"/>
<line x1="167.74" y1="653.7" x2="167.74" y2="654.9" stroke="#222" stroke-width="0.7"/>
<line x1="169.72" y1="653.7" x2="169.72" y2="654.9" stroke="#222" stroke-width="0.7"/>
<line x1="171.7" y1="653.7" x2="171.7" y2="654.9" stroke="#222" stroke-width="0.7"/>
<line x1="103.4" y1="588.3" x2="105.4" y2="588.3" stroke="#222" stroke-width="0.7"/>
<line x1="104.2" y1="590.52" x2="105.4" y2="590.52" stroke="#222" stroke-width="0.7"/>
<line x1="104.2" y1="592.74" x2="105.4" y2="592.74" stroke="#222" stroke-width="0.7"/>
<line x1="104.2" y1="594.96" x2="105.4" y2="594.96" stroke="#222" stroke-width="0.7"/>
<line x1="104.2" y1="597.18" x2="105.4" y2="597.18" stroke="#222" stroke-width="0.7"/>
<line x1="104.2" y1="599.4" x2="105.4" y2="599.4" stroke="#222" stroke-width="0.7"/>
<line x1="103.4" y1="601.62" x2="105.4" y2="601.62" stroke="#222" stroke-width="0.7"/>
<line x1="104.2" y1="603.84" x2="105.4" y2="603.84" stroke="#222" stroke-width="0.7"/>
<line x1="104.2" y1="606.07" x2="105.4" y2="606.07" stroke="#222" stroke-width="0.7"/>
<line x1="104.2" y1="608.29" x2="105.4" y2="608.29" stroke="#222" stroke-width="0.7"/>
<line x1="104.2" y1="610.51" x2="105.4" y2="610.51" stroke="#222" stroke-width="0.7"/>
<line x1="104.2" y1="612.73" x2="105.4" y2="612.73" stroke="#222" stroke-width="0.7"/>
<line x1="103.4" y1="614.95" x2="105.4" y2="614.95" stroke="#222" stroke-width="0.7"/>
<line x1="104.2" y1="617.17" x2="105.4" y2="617.17" stroke="#222" stroke-width="0.7"/>
<line x1="104.2" y1="619.39" x2="105.4" y2="619.39" stroke="#222" stroke-width="0.7"/>
<line x1="104.2" y1="621.61" x2="105.4" y2="621.61" stroke="#222" stroke-width="0.7"/>
<line x1="104.2" y1="623.83" x2="105.4" y2="623.83" stroke="#222" stroke-width="0.7"/>
<line x1="104.2" y1="626.05" x2="105.4" y2="626.05" stroke="#222" stroke-width="0.7"/>
<line x1="103.4" y1="628.27" x2="105.4" y2="628.27" stroke="#222" stroke-width="0.7"/>
<line x1="104.2" y1="630.49" x2="105.4" y2="630.49" stroke="#222" stroke-width="0.7"/>
<line x1="104.2" y1="632.71" x2="105.4" y2="632.71" stroke="#222" stroke-width="0.7"/>
<line x1="104.2" y1="634.93" x2="105.4" y2="634.93" stroke="#222" stroke-width="0.7"/>
<line x1="104.2" y1="637.16" x2="105.4" y2="637.16" stroke="#222" stroke-width="0.7"/>
<line x1="104.2" y1="639.38" x2="105.4" y2="639.38" stroke="#222" stroke-width="0.7"/>
<line x1="103.4" y1="641.6" x2="105.4" y2="641.6" stroke="#222" stroke-width="0.7"/>
<line x1="104.2" y1="643.82" x2="105.4" y2="643.82" stroke="#222" stroke-width="0.7"/>
<line x1="104.2" y1="646.04" x2="105.4" y2="646.04" stroke="#222" stroke-width="0.7"/>
<line x1="104.2" y1="648.26" x2="105.4" y2="648.26" stroke="#222" stroke-width="0.7"/>
<line x1="104.2" y1="650.48" x2="105.4" y2="650.48" stroke="#222" stroke-width="0.7"/>
<line x1="104.2" y1="652.7" x2="105.4" y2="652.7" stroke="#222" stroke-width="0.7"/>
<text font-size="6.6" text-anchor="middle" fill="#111" transform="translate(38.5 522.2) scale(1.08 1)" stroke="#111" stroke-width="0.15">46</text>
<text font-size="6.6" text-anchor="middle" fill="#111" transform="translate(92 522.2) scale(1.08 1)" stroke="#111" stroke-width="0.15">9.1</text>
<rect x="34.23" y="574" width="8.54" height="6.6" fill="#fff" stroke="none" stroke-width="1"/>
<text font-size="6.6" text-anchor="middle" fill="#111" transform="translate(38.5 579.7) scale(1.08 1)" stroke="#111" stroke-width="0.15">38</text>
<text font-size="6.6" text-anchor="middle" fill="#111" transform="translate(92 579.7) scale(1.08 1)" stroke="#111" stroke-width="0.15">6.3</text>
<text font-size="6.6" text-anchor="middle" fill="#111" transform="translate(110.8 522.2) scale(1.08 1)" stroke="#111" stroke-width="0.15">54</text>
<text font-size="6.6" text-anchor="middle" fill="#111" transform="translate(164 522.2) scale(1.08 1)" stroke="#111" stroke-width="0.15">5.7</text>
<rect x="106.53" y="574" width="8.54" height="6.6" fill="#fff" stroke="none" stroke-width="1"/>
<text font-size="6.6" text-anchor="middle" fill="#111" transform="translate(110.8 579.7) scale(1.08 1)" stroke="#111" stroke-width="0.15">36</text>
<text font-size="6.6" text-anchor="middle" fill="#111" transform="translate(164 579.7) scale(1.08 1)" stroke="#111" stroke-width="0.15">4.3</text>
<text font-size="6.6" text-anchor="middle" fill="#111" transform="translate(38.5 594.7) scale(1.08 1)" stroke="#111" stroke-width="0.15">32</text>
<text font-size="6.6" text-anchor="middle" fill="#111" transform="translate(92.3 594.7) scale(1.08 1)" stroke="#111" stroke-width="0.15">21</text>
<rect x="34.23" y="645.9" width="8.54" height="6.6" fill="#fff" stroke="none" stroke-width="1"/>
<text font-size="6.6" text-anchor="middle" fill="#111" transform="translate(38.5 651.6) scale(1.08 1)" stroke="#111" stroke-width="0.15">37</text>
<text font-size="6.6" text-anchor="middle" fill="#111" transform="translate(93.3 651.6) scale(1.08 1)" stroke="#111" stroke-width="0.15">10</text>
<text font-size="6.6" text-anchor="middle" fill="#111" transform="translate(110.8 594.7) scale(1.08 1)" stroke="#111" stroke-width="0.15">57</text>
<text font-size="6.6" text-anchor="middle" fill="#111" transform="translate(164 594.7) scale(1.08 1)" stroke="#111" stroke-width="0.15">6.6</text>
<rect x="106.53" y="645.9" width="8.54" height="6.6" fill="#fff" stroke="none" stroke-width="1"/>
<text font-size="6.6" text-anchor="middle" fill="#111" transform="translate(110.8 651.6) scale(1.08 1)" stroke="#111" stroke-width="0.15">33</text>
<text font-size="6.6" text-anchor="middle" fill="#111" transform="translate(164 651.6) scale(1.08 1)" stroke="#111" stroke-width="0.15">3.3</text>
<text font-size="7.8" text-anchor="end" fill="#111" transform="translate(31.2 522.9)" stroke="#111" stroke-width="0.15">10<tspan font-size="6.08" dy="-3.12">5</tspan></text>
<text font-size="7.8" text-anchor="end" fill="#111" transform="translate(31.2 538.3)" stroke="#111" stroke-width="0.15">10<tspan font-size="6.08" dy="-3.12">4</tspan></text>
<text font-size="7.8" text-anchor="end" fill="#111" transform="translate(31.2 553.7)" stroke="#111" stroke-width="0.15">10<tspan font-size="6.08" dy="-3.12">3</tspan></text>
<text font-size="7.8" text-anchor="end" fill="#111" transform="translate(31.2 569)" stroke="#111" stroke-width="0.15">10<tspan font-size="6.08" dy="-3.12">2</tspan></text>
<text font-size="7.8" text-anchor="end" fill="#111" transform="translate(31.2 594.2)" stroke="#111" stroke-width="0.15">10<tspan font-size="6.08" dy="-3.12">5</tspan></text>
<text font-size="7.8" text-anchor="end" fill="#111" transform="translate(31.2 609.7)" stroke="#111" stroke-width="0.15">10<tspan font-size="6.08" dy="-3.12">4</tspan></text>
<text font-size="7.8" text-anchor="end" fill="#111" transform="translate(31.2 625)" stroke="#111" stroke-width="0.15">10<tspan font-size="6.08" dy="-3.12">3</tspan></text>
<text font-size="7.8" text-anchor="end" fill="#111" transform="translate(31.2 639.7)" stroke="#111" stroke-width="0.15">10<tspan font-size="6.08" dy="-3.12">2</tspan></text>
<text font-size="7.2" text-anchor="end" fill="#111" transform="translate(26.6 576.4) scale(1.08 1)" stroke="#111" stroke-width="0.15">0</text>
<text font-size="7.2" text-anchor="end" fill="#111" transform="translate(26.6 648.7) scale(1.08 1)" stroke="#111" stroke-width="0.15">0</text>
<text font-size="7" text-anchor="middle" fill="#111" transform="translate(38.4 662.4) scale(1.08 1)" stroke="#111" stroke-width="0.15">0</text>
<text font-size="7" text-anchor="middle" fill="#111" transform="translate(48.7 662.4)" stroke="#111" stroke-width="0.15">10<tspan font-size="5.46" dy="-2.8">2</tspan></text>
<text font-size="7" text-anchor="middle" fill="#111" transform="translate(63.7 662.4)" stroke="#111" stroke-width="0.15">10<tspan font-size="5.46" dy="-2.8">3</tspan></text>
<text font-size="7" text-anchor="middle" fill="#111" transform="translate(79.7 662.4)" stroke="#111" stroke-width="0.15">10<tspan font-size="5.46" dy="-2.8">4</tspan></text>
<text font-size="7" text-anchor="middle" fill="#111" transform="translate(94.3 662.4)" stroke="#111" stroke-width="0.15">10<tspan font-size="5.46" dy="-2.8">5</tspan></text>
<text font-size="7" text-anchor="middle" fill="#111" transform="translate(111.1 662.4) scale(1.08 1)" stroke="#111" stroke-width="0.15">0</text>
<text font-size="7" text-anchor="middle" fill="#111" transform="translate(121.4 662.4)" stroke="#111" stroke-width="0.15">10<tspan font-size="5.46" dy="-2.8">2</tspan></text>
<text font-size="7" text-anchor="middle" fill="#111" transform="translate(136.4 662.4)" stroke="#111" stroke-width="0.15">10<tspan font-size="5.46" dy="-2.8">3</tspan></text>
<text font-size="7" text-anchor="middle" fill="#111" transform="translate(152.4 662.4)" stroke="#111" stroke-width="0.15">10<tspan font-size="5.46" dy="-2.8">4</tspan></text>
<text font-size="7" text-anchor="middle" fill="#111" transform="translate(167 662.4)" stroke="#111" stroke-width="0.15">10<tspan font-size="5.46" dy="-2.8">5</tspan></text>
<line x1="10" y1="520" x2="10" y2="626" stroke="#111" stroke-width="0.9"/>
<path d="M10,516.3 L7.9,521.3 L12.1,521.3 Z" fill="#111"/>
<text x="0" y="0" font-size="9.2" text-anchor="middle" transform="translate(13.6 640.5) rotate(-90)" fill="#111" stroke="#111" stroke-width="0.15">RoRγt</text>
<text font-size="8.3" text-anchor="start" fill="#111" transform="translate(32.7 671.6) scale(1.08 1)" stroke="#111" stroke-width="0.15">Foxp3</text>
<line x1="59.6" y1="668.8" x2="162" y2="668.8" stroke="#111" stroke-width="0.9"/>
<path d="M166.5,668.8 L160.8,666.6 L160.8,671 Z" fill="#111"/>
<text font-size="8.4" text-anchor="middle" fill="#111" transform="translate(266.7 557) scale(1.08 1)" stroke="#111" stroke-width="0.15">RoRγt<tspan font-size="5.8" dy="-3.2">+</tspan></text>
<text font-size="8.4" text-anchor="middle" fill="#111" transform="translate(369.4 557.6) scale(1.08 1)" stroke="#111" stroke-width="0.15">Foxp3<tspan font-size="5.8" dy="-3.2">+</tspan></text>
<text font-size="8.4" text-anchor="middle" fill="#111" transform="translate(473 557.6) scale(1.08 1)" stroke="#111" stroke-width="0.15">Foxp3<tspan font-size="5.8" dy="-3.2">+</tspan><tspan dy="3.2"> RoRγt</tspan><tspan font-size="5.8" dy="-3.2">+</tspan></text>
<rect x="346.6" y="536.5" width="4.3" height="4.3" fill="#cc0a30" stroke="none" stroke-width="1"/>
<text font-size="7.3" text-anchor="start" fill="#111" transform="translate(354.5 541.2) scale(1.08 1)" stroke="#111" stroke-width="0.15">WT</text>
<rect x="375.8" y="536.5" width="4.3" height="4.3" fill="#1c5290" stroke="none" stroke-width="1"/>
<text font-size="7.3" text-anchor="start" fill="#111" transform="translate(383.6 541.2) scale(1.08 1)" stroke="#111" stroke-width="0.15">KO</text>
<line x1="226.3" y1="563.8" x2="226.3" y2="655" stroke="#111" stroke-width="1.2"/>
<line x1="225.7" y1="654.4" x2="308.5" y2="654.4" stroke="#111" stroke-width="1.2"/>
<line x1="223.3" y1="567.9" x2="226.3" y2="567.9" stroke="#111" stroke-width="1"/>
<text font-size="7" text-anchor="end" fill="#111" transform="translate(221.5 570.42) scale(1.08 1)" stroke="#111" stroke-width="0.15">80</text>
<line x1="223.3" y1="589.7" x2="226.3" y2="589.7" stroke="#111" stroke-width="1"/>
<text font-size="7" text-anchor="end" fill="#111" transform="translate(221.5 592.22) scale(1.08 1)" stroke="#111" stroke-width="0.15">60</text>
<line x1="223.3" y1="611.2" x2="226.3" y2="611.2" stroke="#111" stroke-width="1"/>
<text font-size="7" text-anchor="end" fill="#111" transform="translate(221.5 613.72) scale(1.08 1)" stroke="#111" stroke-width="0.15">40</text>
<line x1="223.3" y1="632.8" x2="226.3" y2="632.8" stroke="#111" stroke-width="1"/>
<text font-size="7" text-anchor="end" fill="#111" transform="translate(221.5 635.32) scale(1.08 1)" stroke="#111" stroke-width="0.15">20</text>
<line x1="223.3" y1="654.4" x2="226.3" y2="654.4" stroke="#111" stroke-width="1"/>
<text font-size="7" text-anchor="end" fill="#111" transform="translate(221.5 656.92) scale(1.08 1)" stroke="#111" stroke-width="0.15">0</text>
<text x="0" y="0" font-size="8.6" text-anchor="middle" textLength="20.5" lengthAdjust="spacingAndGlyphs" transform="translate(206.2 611.5) rotate(-90)" fill="#111" stroke="#111" stroke-width="0.15">% Cells</text>
<rect x="234.4" y="606.4" width="10.3" height="48" fill="#e08696" stroke="none" stroke-width="1"/>
<rect x="249.8" y="619" width="10.2" height="35.4" fill="#88a8c5" stroke="none" stroke-width="1"/>
<rect x="275.6" y="597" width="10.3" height="57.4" fill="#e08696" stroke="none" stroke-width="1"/>
<rect x="291.2" y="594.8" width="10" height="59.6" fill="#88a8c5" stroke="none" stroke-width="1"/>
<line x1="239.5" y1="606.4" x2="239.5" y2="604.5" stroke="#222" stroke-width="0.8"/>
<line x1="238" y1="604.5" x2="241" y2="604.5" stroke="#222" stroke-width="0.8"/>
<line x1="254.9" y1="619" x2="254.9" y2="616" stroke="#222" stroke-width="0.8"/>
<line x1="253.4" y1="616" x2="256.4" y2="616" stroke="#222" stroke-width="0.8"/>
<line x1="280.7" y1="597" x2="280.7" y2="595.5" stroke="#222" stroke-width="0.8"/>
<line x1="279.2" y1="595.5" x2="282.2" y2="595.5" stroke="#222" stroke-width="0.8"/>
<line x1="296.2" y1="594.8" x2="296.2" y2="593" stroke="#222" stroke-width="0.8"/>
<line x1="294.7" y1="593" x2="297.7" y2="593" stroke="#222" stroke-width="0.8"/>
<rect x="235.6" y="602.6" width="3.8" height="3.8" fill="#cc0a30" stroke="none" stroke-width="1"/>
<rect x="238.1" y="607.1" width="3.8" height="3.8" fill="#cc0a30" stroke="none" stroke-width="1"/>
<rect x="239.9" y="603.9" width="3.8" height="3.8" fill="#cc0a30" stroke="none" stroke-width="1"/>
<rect x="276.6" y="594.6" width="3.8" height="3.8" fill="#cc0a30" stroke="none" stroke-width="1"/>
<rect x="279.6" y="597.1" width="3.8" height="3.8" fill="#cc0a30" stroke="none" stroke-width="1"/>
<rect x="281.1" y="594.1" width="3.8" height="3.8" fill="#cc0a30" stroke="none" stroke-width="1"/>
<path d="M253.3,613.3 L250.8,617.8 L255.8,617.8 Z" fill="#1c5290"/>
<path d="M255.4,617.3 L252.9,621.8 L257.9,621.8 Z" fill="#1c5290"/>
<path d="M252.5,616.8 L250,621.3 L255,621.3 Z" fill="#1c5290"/>
<path d="M293.7,589.3 L291.2,593.8 L296.2,593.8 Z" fill="#1c5290"/>
<path d="M296.4,597.3 L293.9,601.8 L298.9,601.8 Z" fill="#1c5290"/>
<path d="M298.5,590.8 L296,595.3 L301,595.3 Z" fill="#1c5290"/>
<line x1="240.6" y1="573" x2="281" y2="573" stroke="#444" stroke-width="1"/>
<line x1="240.6" y1="570.8" x2="240.6" y2="575.2" stroke="#444" stroke-width="1"/>
<line x1="281" y1="570.8" x2="281" y2="575.2" stroke="#444" stroke-width="1"/>
<text font-size="8" text-anchor="middle" font-weight="bold" fill="#222" transform="translate(260.8 571.1) scale(1.05 1)" stroke="#222" stroke-width="0.15">**</text>
<line x1="257.3" y1="584.6" x2="297.7" y2="584.6" stroke="#444" stroke-width="1"/>
<line x1="257.3" y1="582.4" x2="257.3" y2="586.8" stroke="#444" stroke-width="1"/>
<line x1="297.7" y1="582.4" x2="297.7" y2="586.8" stroke="#444" stroke-width="1"/>
<text font-size="8" text-anchor="middle" font-weight="bold" fill="#222" transform="translate(277.5 582.7) scale(1.05 1)" stroke="#222" stroke-width="0.15">**</text>
<line x1="239.5" y1="597.5" x2="260.5" y2="597.5" stroke="#444" stroke-width="1"/>
<line x1="239.5" y1="595.3" x2="239.5" y2="599.7" stroke="#444" stroke-width="1"/>
<line x1="260.5" y1="595.3" x2="260.5" y2="599.7" stroke="#444" stroke-width="1"/>
<text font-size="8" text-anchor="middle" font-weight="bold" fill="#222" transform="translate(250 595.6) scale(1.05 1)" stroke="#222" stroke-width="0.15">**</text>
<text font-size="7.3" text-anchor="middle" fill="#111" transform="translate(247.9 664.2) scale(1.08 1)" stroke="#111" stroke-width="0.15">PBS</text>
<text font-size="7.3" text-anchor="middle" fill="#111" transform="translate(288.3 664.2) scale(1.08 1)" stroke="#111" stroke-width="0.15">DMOG</text>
<line x1="329" y1="564" x2="329" y2="654.9" stroke="#111" stroke-width="1.2"/>
<line x1="328.4" y1="654.3" x2="410.3" y2="654.3" stroke="#111" stroke-width="1.2"/>
<line x1="326" y1="568.3" x2="329" y2="568.3" stroke="#111" stroke-width="1"/>
<text font-size="7" text-anchor="end" fill="#111" transform="translate(324.2 570.82) scale(1.08 1)" stroke="#111" stroke-width="0.15">15</text>
<line x1="326" y1="597.3" x2="329" y2="597.3" stroke="#111" stroke-width="1"/>
<text font-size="7" text-anchor="end" fill="#111" transform="translate(324.2 599.82) scale(1.08 1)" stroke="#111" stroke-width="0.15">10</text>
<line x1="326" y1="626" x2="329" y2="626" stroke="#111" stroke-width="1"/>
<text font-size="7" text-anchor="end" fill="#111" transform="translate(324.2 628.52) scale(1.08 1)" stroke="#111" stroke-width="0.15">5</text>
<line x1="326" y1="654.3" x2="329" y2="654.3" stroke="#111" stroke-width="1"/>
<text font-size="7" text-anchor="end" fill="#111" transform="translate(324.2 656.82) scale(1.08 1)" stroke="#111" stroke-width="0.15">0</text>
<rect x="336.7" y="612.9" width="10.4" height="41.4" fill="#e08696" stroke="none" stroke-width="1"/>
<rect x="351.8" y="594.8" width="10.7" height="59.5" fill="#88a8c5" stroke="none" stroke-width="1"/>
<rect x="377.6" y="635.2" width="10.4" height="19.1" fill="#e08696" stroke="none" stroke-width="1"/>
<rect x="393" y="641.4" width="10.4" height="12.9" fill="#88a8c5" stroke="none" stroke-width="1"/>
<line x1="341.9" y1="612.9" x2="341.9" y2="608" stroke="#222" stroke-width="0.8"/>
<line x1="340.4" y1="608" x2="343.4" y2="608" stroke="#222" stroke-width="0.8"/>
<line x1="357.1" y1="594.8" x2="357.1" y2="593" stroke="#222" stroke-width="0.8"/>
<line x1="355.6" y1="593" x2="358.6" y2="593" stroke="#222" stroke-width="0.8"/>
<line x1="382.8" y1="635.2" x2="382.8" y2="633.5" stroke="#222" stroke-width="0.8"/>
<line x1="381.3" y1="633.5" x2="384.3" y2="633.5" stroke="#222" stroke-width="0.8"/>
<line x1="398.2" y1="641.4" x2="398.2" y2="637.7" stroke="#222" stroke-width="0.8"/>
<line x1="396.7" y1="637.7" x2="399.7" y2="637.7" stroke="#222" stroke-width="0.8"/>
<rect x="339.8" y="600.6" width="3.8" height="3.8" fill="#cc0a30" stroke="none" stroke-width="1"/>
<rect x="337" y="617.2" width="3.8" height="3.8" fill="#cc0a30" stroke="none" stroke-width="1"/>
<rect x="342.7" y="616.5" width="3.8" height="3.8" fill="#cc0a30" stroke="none" stroke-width="1"/>
<rect x="380.7" y="628.4" width="3.8" height="3.8" fill="#cc0a30" stroke="none" stroke-width="1"/>
<rect x="377.9" y="637.5" width="3.8" height="3.8" fill="#cc0a30" stroke="none" stroke-width="1"/>
<rect x="383.6" y="635.3" width="3.8" height="3.8" fill="#cc0a30" stroke="none" stroke-width="1"/>
<path d="M355.8,589.1 L353.3,593.6 L358.3,593.6 Z" fill="#1c5290"/>
<path d="M357.8,594.1 L355.3,598.6 L360.3,598.6 Z" fill="#1c5290"/>
<path d="M395,633.3 L392.5,637.8 L397.5,637.8 Z" fill="#1c5290"/>
<path d="M398.7,644.9 L396.2,649.4 L401.2,649.4 Z" fill="#1c5290"/>
<path d="M400.4,637.5 L397.9,642 L402.9,642 Z" fill="#1c5290"/>
<line x1="339.7" y1="572.7" x2="379.8" y2="572.7" stroke="#444" stroke-width="1"/>
<line x1="339.7" y1="570.5" x2="339.7" y2="574.9" stroke="#444" stroke-width="1"/>
<line x1="379.8" y1="570.5" x2="379.8" y2="574.9" stroke="#444" stroke-width="1"/>
<text font-size="8" text-anchor="middle" font-weight="bold" fill="#222" transform="translate(359.75 570.8) scale(1.05 1)" stroke="#222" stroke-width="0.15">*</text>
<line x1="339.7" y1="584.4" x2="360.3" y2="584.4" stroke="#444" stroke-width="1"/>
<line x1="339.7" y1="582.2" x2="339.7" y2="586.6" stroke="#444" stroke-width="1"/>
<line x1="360.3" y1="582.2" x2="360.3" y2="586.6" stroke="#444" stroke-width="1"/>
<text font-size="8" text-anchor="middle" font-weight="bold" fill="#222" transform="translate(350 582.5) scale(1.05 1)" stroke="#222" stroke-width="0.15">*</text>
<line x1="360.3" y1="584.4" x2="401.2" y2="584.4" stroke="#444" stroke-width="1"/>
<line x1="360.3" y1="582.2" x2="360.3" y2="586.6" stroke="#444" stroke-width="1"/>
<line x1="401.2" y1="582.2" x2="401.2" y2="586.6" stroke="#444" stroke-width="1"/>
<text font-size="8" text-anchor="middle" font-weight="bold" fill="#222" transform="translate(380.75 582.5) scale(1.05 1)" stroke="#222" stroke-width="0.15">***</text>
<text font-size="7.3" text-anchor="middle" fill="#111" transform="translate(349 664.2) scale(1.08 1)" stroke="#111" stroke-width="0.15">PBS</text>
<text font-size="7.3" text-anchor="middle" fill="#111" transform="translate(390.5 664.2) scale(1.08 1)" stroke="#111" stroke-width="0.15">DMOG</text>
<line x1="431.7" y1="564" x2="431.7" y2="654.9" stroke="#111" stroke-width="1.2"/>
<line x1="431.1" y1="654.3" x2="513.6" y2="654.3" stroke="#111" stroke-width="1.2"/>
<line x1="428.7" y1="568.8" x2="431.7" y2="568.8" stroke="#111" stroke-width="1"/>
<text font-size="7" text-anchor="end" fill="#111" transform="translate(426.9 571.32) scale(1.08 1)" stroke="#111" stroke-width="0.15">30</text>
<line x1="428.7" y1="597.3" x2="431.7" y2="597.3" stroke="#111" stroke-width="1"/>
<text font-size="7" text-anchor="end" fill="#111" transform="translate(426.9 599.82) scale(1.08 1)" stroke="#111" stroke-width="0.15">20</text>
<line x1="428.7" y1="625.8" x2="431.7" y2="625.8" stroke="#111" stroke-width="1"/>
<text font-size="7" text-anchor="end" fill="#111" transform="translate(426.9 628.32) scale(1.08 1)" stroke="#111" stroke-width="0.15">10</text>
<line x1="428.7" y1="654.3" x2="431.7" y2="654.3" stroke="#111" stroke-width="1"/>
<text font-size="7" text-anchor="end" fill="#111" transform="translate(426.9 656.82) scale(1.08 1)" stroke="#111" stroke-width="0.15">0</text>
<rect x="439.7" y="622.8" width="10.3" height="31.5" fill="#e08696" stroke="none" stroke-width="1"/>
<rect x="455" y="596.8" width="10.5" height="57.5" fill="#88a8c5" stroke="none" stroke-width="1"/>
<rect x="480.8" y="640.2" width="10.4" height="14.1" fill="#e08696" stroke="none" stroke-width="1"/>
<rect x="496.5" y="643.4" width="10.4" height="10.9" fill="#88a8c5" stroke="none" stroke-width="1"/>
<line x1="444.9" y1="622.8" x2="444.9" y2="618.6" stroke="#222" stroke-width="0.8"/>
<line x1="443.4" y1="618.6" x2="446.4" y2="618.6" stroke="#222" stroke-width="0.8"/>
<line x1="460.3" y1="596.8" x2="460.3" y2="594.5" stroke="#222" stroke-width="0.8"/>
<line x1="458.8" y1="594.5" x2="461.8" y2="594.5" stroke="#222" stroke-width="0.8"/>
<line x1="486" y1="640.2" x2="486" y2="638" stroke="#222" stroke-width="0.8"/>
<line x1="484.5" y1="638" x2="487.5" y2="638" stroke="#222" stroke-width="0.8"/>
<line x1="501.7" y1="643.4" x2="501.7" y2="639" stroke="#222" stroke-width="0.8"/>
<line x1="500.2" y1="639" x2="503.2" y2="639" stroke="#222" stroke-width="0.8"/>
<rect x="443.2" y="612.2" width="3.8" height="3.8" fill="#cc0a30" stroke="none" stroke-width="1"/>
<rect x="440.3" y="625.9" width="3.8" height="3.8" fill="#cc0a30" stroke="none" stroke-width="1"/>
<rect x="445.7" y="622.9" width="3.8" height="3.8" fill="#cc0a30" stroke="none" stroke-width="1"/>
<rect x="481.7" y="635.3" width="3.8" height="3.8" fill="#cc0a30" stroke="none" stroke-width="1"/>
<rect x="486.9" y="636.3" width="3.8" height="3.8" fill="#cc0a30" stroke="none" stroke-width="1"/>
<rect x="484.1" y="644" width="3.8" height="3.8" fill="#cc0a30" stroke="none" stroke-width="1"/>
<path d="M458.3,592.3 L455.8,596.8 L460.8,596.8 Z" fill="#1c5290"/>
<path d="M460.7,595.3 L458.2,599.8 L463.2,599.8 Z" fill="#1c5290"/>
<path d="M501.2,632.5 L498.7,637 L503.7,637 Z" fill="#1c5290"/>
<path d="M497.4,646.2 L494.9,650.7 L499.9,650.7 Z" fill="#1c5290"/>
<path d="M502.9,646.2 L500.4,650.7 L505.4,650.7 Z" fill="#1c5290"/>
<line x1="439.7" y1="571.5" x2="480" y2="571.5" stroke="#444" stroke-width="1"/>
<line x1="439.7" y1="569.3" x2="439.7" y2="573.7" stroke="#444" stroke-width="1"/>
<line x1="480" y1="569.3" x2="480" y2="573.7" stroke="#444" stroke-width="1"/>
<text font-size="8" text-anchor="middle" font-weight="bold" fill="#222" transform="translate(459.85 569.6) scale(1.05 1)" stroke="#222" stroke-width="0.15">*</text>
<line x1="439.7" y1="583.9" x2="460.7" y2="583.9" stroke="#444" stroke-width="1"/>
<line x1="439.7" y1="581.7" x2="439.7" y2="586.1" stroke="#444" stroke-width="1"/>
<line x1="460.7" y1="581.7" x2="460.7" y2="586.1" stroke="#444" stroke-width="1"/>
<text font-size="8" text-anchor="middle" font-weight="bold" fill="#222" transform="translate(450.2 582) scale(1.05 1)" stroke="#222" stroke-width="0.15">**</text>
<line x1="462.5" y1="583.9" x2="502.4" y2="583.9" stroke="#444" stroke-width="1"/>
<line x1="462.5" y1="581.7" x2="462.5" y2="586.1" stroke="#444" stroke-width="1"/>
<line x1="502.4" y1="581.7" x2="502.4" y2="586.1" stroke="#444" stroke-width="1"/>
<text font-size="8" text-anchor="middle" font-weight="bold" fill="#222" transform="translate(482.45 582) scale(1.05 1)" stroke="#222" stroke-width="0.15">***</text>
<text font-size="7.3" text-anchor="middle" fill="#111" transform="translate(452.8 664.2) scale(1.08 1)" stroke="#111" stroke-width="0.15">PBS</text>
<text font-size="7.3" text-anchor="middle" fill="#111" transform="translate(493.7 664.2) scale(1.08 1)" stroke="#111" stroke-width="0.15">DMOG</text>
<rect x="0.5" y="0.5" width="519" height="677" fill="none" stroke="#000" stroke-width="1.2"/>
</svg></body></html>
